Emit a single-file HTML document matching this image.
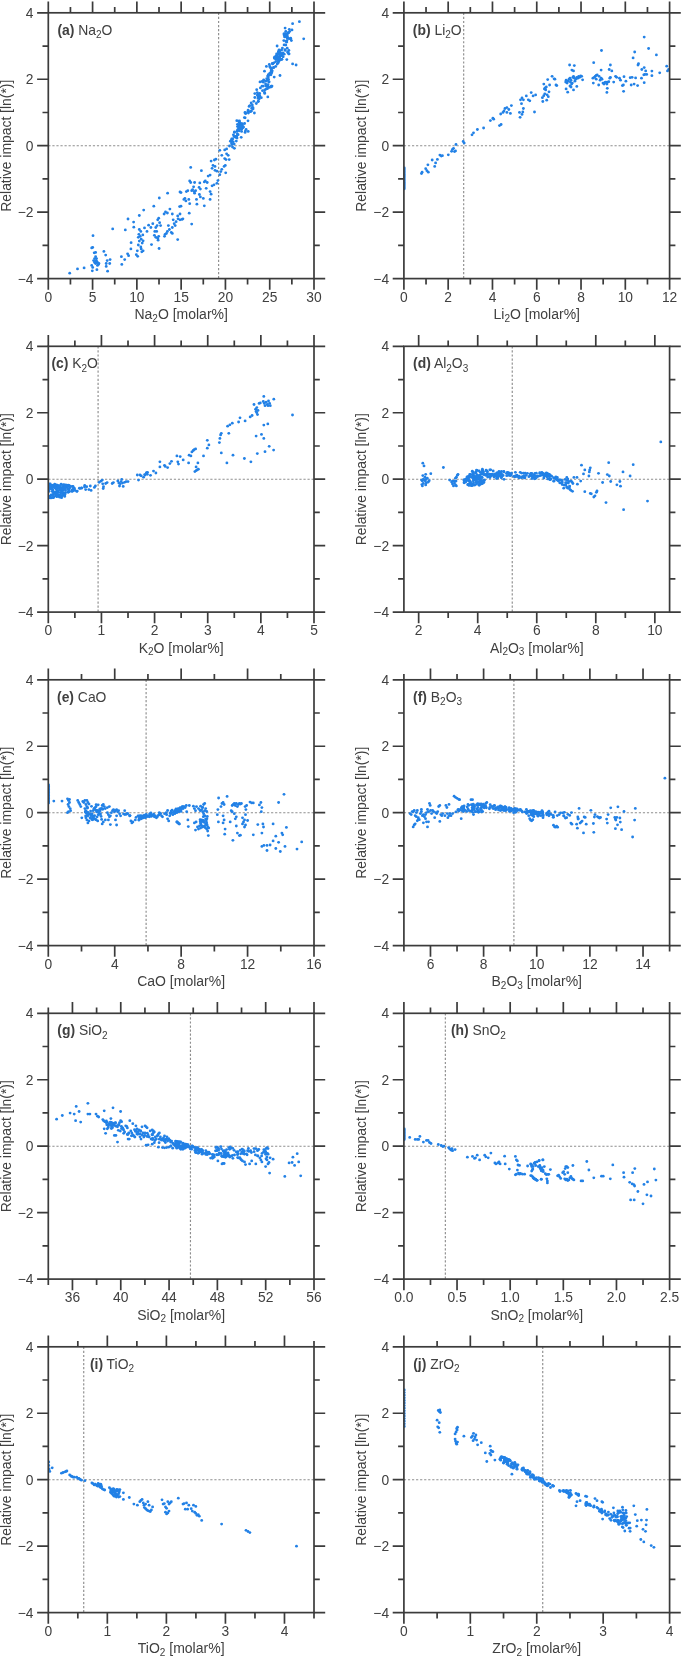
<!DOCTYPE html><html><head><meta charset="utf-8"><style>html,body{margin:0;padding:0;background:#fff;width:685px;height:1659px;overflow:hidden}svg{display:block;will-change:transform}text{font-family:"Liberation Sans",sans-serif;fill:#404040}</style></head><body>
<svg width="685" height="1659" viewBox="0 0 685 1659">
<g><line x1="48.30" y1="145.70" x2="314.00" y2="145.70" stroke="#8e8e8e" stroke-width="1.15" stroke-dasharray="2.2 1.85"/><line x1="218.61" y1="12.80" x2="218.61" y2="278.60" stroke="#8e8e8e" stroke-width="1.15" stroke-dasharray="2.2 1.85"/><clipPath id="cpa"><rect x="48.30" y="12.80" width="265.70" height="265.80"/></clipPath><g fill="#2281e6" clip-path="url(#cpa)"><circle cx="235.5" cy="137.3" r="1.42"/><circle cx="238.5" cy="128.8" r="1.42"/><circle cx="236.1" cy="136.4" r="1.42"/><circle cx="233.3" cy="141.8" r="1.42"/><circle cx="238.1" cy="134.7" r="1.42"/><circle cx="231.5" cy="142.9" r="1.42"/><circle cx="234.2" cy="144.1" r="1.42"/><circle cx="234.5" cy="131.9" r="1.42"/><circle cx="241.6" cy="128.9" r="1.42"/><circle cx="237.3" cy="133.9" r="1.42"/><circle cx="230.4" cy="141.2" r="1.42"/><circle cx="233.4" cy="134.8" r="1.42"/><circle cx="231.9" cy="141.1" r="1.42"/><circle cx="231.9" cy="144.4" r="1.42"/><circle cx="237.0" cy="138.1" r="1.42"/><circle cx="236.5" cy="136.3" r="1.42"/><circle cx="236.4" cy="136.7" r="1.42"/><circle cx="234.1" cy="136.5" r="1.42"/><circle cx="241.9" cy="128.7" r="1.42"/><circle cx="239.2" cy="130.8" r="1.42"/><circle cx="232.7" cy="138.9" r="1.42"/><circle cx="231.7" cy="139.0" r="1.42"/><circle cx="237.0" cy="131.4" r="1.42"/><circle cx="237.5" cy="130.0" r="1.42"/><circle cx="240.8" cy="129.1" r="1.42"/><circle cx="237.5" cy="126.6" r="1.42"/><circle cx="247.9" cy="111.5" r="1.42"/><circle cx="248.1" cy="110.1" r="1.42"/><circle cx="240.7" cy="126.7" r="1.42"/><circle cx="245.4" cy="113.2" r="1.42"/><circle cx="239.1" cy="125.5" r="1.42"/><circle cx="250.2" cy="111.6" r="1.42"/><circle cx="238.8" cy="124.6" r="1.42"/><circle cx="237.5" cy="124.3" r="1.42"/><circle cx="245.0" cy="112.5" r="1.42"/><circle cx="244.4" cy="117.6" r="1.42"/><circle cx="242.5" cy="125.0" r="1.42"/><circle cx="241.4" cy="125.8" r="1.42"/><circle cx="239.9" cy="125.2" r="1.42"/><circle cx="239.9" cy="123.1" r="1.42"/><circle cx="250.5" cy="111.6" r="1.42"/><circle cx="244.6" cy="123.5" r="1.42"/><circle cx="240.6" cy="123.5" r="1.42"/><circle cx="248.4" cy="113.1" r="1.42"/><circle cx="243.2" cy="127.5" r="1.42"/><circle cx="239.8" cy="123.0" r="1.42"/><circle cx="245.7" cy="113.5" r="1.42"/><circle cx="239.5" cy="120.9" r="1.42"/><circle cx="240.6" cy="126.3" r="1.42"/><circle cx="242.2" cy="123.7" r="1.42"/><circle cx="252.3" cy="104.9" r="1.42"/><circle cx="258.2" cy="97.0" r="1.42"/><circle cx="256.3" cy="103.5" r="1.42"/><circle cx="249.1" cy="106.4" r="1.42"/><circle cx="259.3" cy="98.8" r="1.42"/><circle cx="249.9" cy="105.6" r="1.42"/><circle cx="258.2" cy="101.5" r="1.42"/><circle cx="253.0" cy="108.9" r="1.42"/><circle cx="258.0" cy="98.4" r="1.42"/><circle cx="251.2" cy="103.0" r="1.42"/><circle cx="251.5" cy="111.1" r="1.42"/><circle cx="252.2" cy="107.5" r="1.42"/><circle cx="253.0" cy="107.7" r="1.42"/><circle cx="253.8" cy="101.3" r="1.42"/><circle cx="251.7" cy="108.4" r="1.42"/><circle cx="257.7" cy="94.4" r="1.42"/><circle cx="266.2" cy="89.1" r="1.42"/><circle cx="263.3" cy="86.1" r="1.42"/><circle cx="265.8" cy="81.1" r="1.42"/><circle cx="257.5" cy="95.4" r="1.42"/><circle cx="260.4" cy="87.9" r="1.42"/><circle cx="259.6" cy="93.3" r="1.42"/><circle cx="262.0" cy="86.2" r="1.42"/><circle cx="264.5" cy="92.3" r="1.42"/><circle cx="269.1" cy="81.8" r="1.42"/><circle cx="265.9" cy="86.1" r="1.42"/><circle cx="257.3" cy="92.6" r="1.42"/><circle cx="261.3" cy="97.7" r="1.42"/><circle cx="268.2" cy="87.3" r="1.42"/><circle cx="259.7" cy="96.7" r="1.42"/><circle cx="264.7" cy="89.9" r="1.42"/><circle cx="264.7" cy="93.4" r="1.42"/><circle cx="259.7" cy="95.5" r="1.42"/><circle cx="268.2" cy="86.5" r="1.42"/><circle cx="267.0" cy="85.8" r="1.42"/><circle cx="270.9" cy="74.8" r="1.42"/><circle cx="267.3" cy="80.4" r="1.42"/><circle cx="271.3" cy="73.3" r="1.42"/><circle cx="268.2" cy="79.7" r="1.42"/><circle cx="269.8" cy="73.2" r="1.42"/><circle cx="267.6" cy="76.1" r="1.42"/><circle cx="268.3" cy="77.1" r="1.42"/><circle cx="265.6" cy="84.0" r="1.42"/><circle cx="271.9" cy="72.0" r="1.42"/><circle cx="268.3" cy="74.7" r="1.42"/><circle cx="269.1" cy="75.0" r="1.42"/><circle cx="268.5" cy="79.5" r="1.42"/><circle cx="272.2" cy="70.8" r="1.42"/><circle cx="271.1" cy="71.1" r="1.42"/><circle cx="272.7" cy="63.9" r="1.42"/><circle cx="275.7" cy="61.7" r="1.42"/><circle cx="277.2" cy="64.1" r="1.42"/><circle cx="269.8" cy="66.4" r="1.42"/><circle cx="273.6" cy="67.7" r="1.42"/><circle cx="270.2" cy="67.5" r="1.42"/><circle cx="278.2" cy="59.4" r="1.42"/><circle cx="275.7" cy="66.4" r="1.42"/><circle cx="273.7" cy="67.3" r="1.42"/><circle cx="271.5" cy="68.4" r="1.42"/><circle cx="278.7" cy="61.5" r="1.42"/><circle cx="276.6" cy="59.0" r="1.42"/><circle cx="273.9" cy="62.8" r="1.42"/><circle cx="271.4" cy="69.4" r="1.42"/><circle cx="278.6" cy="60.9" r="1.42"/><circle cx="278.1" cy="62.9" r="1.42"/><circle cx="276.2" cy="56.0" r="1.42"/><circle cx="277.7" cy="54.6" r="1.42"/><circle cx="277.0" cy="57.3" r="1.42"/><circle cx="279.8" cy="53.5" r="1.42"/><circle cx="279.6" cy="57.5" r="1.42"/><circle cx="281.6" cy="49.9" r="1.42"/><circle cx="274.4" cy="57.6" r="1.42"/><circle cx="279.1" cy="49.8" r="1.42"/><circle cx="280.6" cy="52.9" r="1.42"/><circle cx="279.3" cy="57.4" r="1.42"/><circle cx="274.6" cy="58.4" r="1.42"/><circle cx="276.6" cy="53.9" r="1.42"/><circle cx="279.7" cy="50.8" r="1.42"/><circle cx="274.8" cy="57.0" r="1.42"/><circle cx="279.6" cy="53.3" r="1.42"/><circle cx="280.5" cy="53.9" r="1.42"/><circle cx="283.0" cy="53.0" r="1.42"/><circle cx="278.7" cy="52.1" r="1.42"/><circle cx="277.4" cy="54.1" r="1.42"/><circle cx="276.1" cy="59.4" r="1.42"/><circle cx="278.8" cy="51.8" r="1.42"/><circle cx="277.0" cy="56.5" r="1.42"/><circle cx="280.3" cy="52.9" r="1.42"/><circle cx="280.9" cy="54.4" r="1.42"/><circle cx="279.8" cy="56.6" r="1.42"/><circle cx="284.6" cy="36.9" r="1.42"/><circle cx="287.5" cy="37.6" r="1.42"/><circle cx="282.4" cy="48.1" r="1.42"/><circle cx="286.8" cy="42.0" r="1.42"/><circle cx="284.1" cy="44.9" r="1.42"/><circle cx="287.5" cy="38.4" r="1.42"/><circle cx="286.4" cy="37.0" r="1.42"/><circle cx="283.8" cy="40.6" r="1.42"/><circle cx="286.9" cy="40.6" r="1.42"/><circle cx="286.0" cy="41.5" r="1.42"/><circle cx="286.5" cy="35.7" r="1.42"/><circle cx="292.0" cy="29.9" r="1.42"/><circle cx="288.4" cy="32.9" r="1.42"/><circle cx="287.3" cy="34.9" r="1.42"/><circle cx="289.3" cy="29.3" r="1.42"/><circle cx="284.3" cy="35.5" r="1.42"/><circle cx="288.4" cy="32.7" r="1.42"/><circle cx="285.8" cy="31.3" r="1.42"/><circle cx="284.9" cy="49.7" r="1.42"/><circle cx="285.2" cy="50.4" r="1.42"/><circle cx="280.6" cy="59.2" r="1.42"/><circle cx="274.9" cy="57.9" r="1.42"/><circle cx="283.2" cy="56.8" r="1.42"/><circle cx="288.0" cy="52.8" r="1.42"/><circle cx="288.9" cy="50.5" r="1.42"/><circle cx="287.2" cy="48.2" r="1.42"/><circle cx="277.7" cy="59.1" r="1.42"/><circle cx="279.7" cy="59.4" r="1.42"/><circle cx="284.2" cy="54.2" r="1.42"/><circle cx="287.6" cy="52.0" r="1.42"/><circle cx="278.5" cy="57.2" r="1.42"/><circle cx="289.0" cy="53.9" r="1.42"/><circle cx="278.9" cy="61.1" r="1.42"/><circle cx="281.8" cy="59.3" r="1.42"/><circle cx="281.4" cy="55.0" r="1.42"/><circle cx="280.1" cy="55.1" r="1.42"/><circle cx="282.1" cy="55.1" r="1.42"/><circle cx="281.8" cy="59.3" r="1.42"/><circle cx="278.6" cy="54.2" r="1.42"/><circle cx="280.3" cy="55.3" r="1.42"/><circle cx="282.3" cy="56.0" r="1.42"/><circle cx="280.5" cy="55.0" r="1.42"/><circle cx="280.3" cy="59.8" r="1.42"/><circle cx="279.2" cy="52.5" r="1.42"/><circle cx="278.8" cy="51.0" r="1.42"/><circle cx="279.8" cy="58.4" r="1.42"/><circle cx="280.6" cy="54.3" r="1.42"/><circle cx="278.4" cy="51.9" r="1.42"/><circle cx="291.4" cy="40.6" r="1.42"/><circle cx="290.7" cy="38.9" r="1.42"/><circle cx="286.1" cy="33.7" r="1.42"/><circle cx="289.1" cy="38.7" r="1.42"/><circle cx="285.9" cy="36.1" r="1.42"/><circle cx="283.9" cy="33.9" r="1.42"/><circle cx="284.7" cy="33.6" r="1.42"/><circle cx="286.6" cy="34.2" r="1.42"/><circle cx="287.7" cy="37.4" r="1.42"/><circle cx="286.7" cy="35.9" r="1.42"/><circle cx="268.8" cy="82.1" r="1.42"/><circle cx="263.7" cy="79.9" r="1.42"/><circle cx="268.0" cy="84.6" r="1.42"/><circle cx="269.5" cy="87.4" r="1.42"/><circle cx="271.3" cy="86.1" r="1.42"/><circle cx="267.6" cy="86.8" r="1.42"/><circle cx="271.3" cy="86.9" r="1.42"/><circle cx="263.3" cy="82.2" r="1.42"/><circle cx="262.1" cy="81.4" r="1.42"/><circle cx="272.0" cy="86.1" r="1.42"/><circle cx="263.6" cy="80.7" r="1.42"/><circle cx="266.7" cy="78.7" r="1.42"/><circle cx="245.4" cy="131.1" r="1.42"/><circle cx="246.1" cy="129.4" r="1.42"/><circle cx="239.3" cy="127.2" r="1.42"/><circle cx="236.8" cy="120.7" r="1.42"/><circle cx="241.6" cy="131.4" r="1.42"/><circle cx="248.2" cy="131.4" r="1.42"/><circle cx="240.2" cy="128.7" r="1.42"/><circle cx="240.5" cy="128.4" r="1.42"/><circle cx="239.3" cy="122.2" r="1.42"/><circle cx="238.5" cy="121.1" r="1.42"/><circle cx="241.7" cy="128.2" r="1.42"/><circle cx="243.4" cy="126.9" r="1.42"/><circle cx="299.4" cy="21.7" r="1.42"/><circle cx="292.6" cy="23.7" r="1.42"/><circle cx="303.7" cy="38.8" r="1.42"/><circle cx="292.6" cy="63.9" r="1.42"/><circle cx="296.1" cy="65.0" r="1.42"/><circle cx="280.0" cy="75.5" r="1.42"/><circle cx="267.8" cy="96.9" r="1.42"/><circle cx="260.0" cy="81.9" r="1.42"/><circle cx="231.5" cy="140.2" r="1.42"/><circle cx="285.1" cy="28.1" r="1.42"/><circle cx="289.7" cy="31.4" r="1.42"/><circle cx="290.7" cy="38.2" r="1.42"/><circle cx="285.8" cy="45.0" r="1.42"/><circle cx="277.1" cy="46.0" r="1.42"/><circle cx="288.8" cy="53.8" r="1.42"/><circle cx="286.8" cy="59.6" r="1.42"/><circle cx="274.2" cy="77.1" r="1.42"/><circle cx="254.8" cy="93.6" r="1.42"/><circle cx="256.7" cy="89.7" r="1.42"/><circle cx="258.3" cy="101.3" r="1.42"/><circle cx="254.4" cy="113.0" r="1.42"/><circle cx="245.1" cy="117.8" r="1.42"/><circle cx="248.0" cy="120.8" r="1.42"/><circle cx="245.1" cy="132.4" r="1.42"/><circle cx="241.2" cy="137.3" r="1.42"/><circle cx="236.3" cy="141.1" r="1.42"/><circle cx="234.4" cy="132.4" r="1.42"/><circle cx="272.3" cy="63.5" r="1.42"/><circle cx="269.3" cy="64.5" r="1.42"/><circle cx="266.4" cy="66.4" r="1.42"/><circle cx="264.5" cy="71.2" r="1.42"/><circle cx="267.4" cy="88.7" r="1.42"/><circle cx="262.5" cy="90.7" r="1.42"/><circle cx="254.8" cy="97.5" r="1.42"/><circle cx="232.5" cy="147.0" r="1.42"/><circle cx="234.4" cy="148.3" r="1.42"/><circle cx="229.5" cy="146.0" r="1.42"/><circle cx="219.8" cy="150.3" r="1.42"/><circle cx="224.7" cy="149.9" r="1.42"/><circle cx="226.6" cy="148.9" r="1.42"/><circle cx="221.8" cy="155.3" r="1.42"/><circle cx="226.6" cy="153.8" r="1.42"/><circle cx="228.2" cy="155.3" r="1.42"/><circle cx="224.7" cy="158.6" r="1.42"/><circle cx="226.0" cy="159.6" r="1.42"/><circle cx="229.2" cy="159.6" r="1.42"/><circle cx="215.9" cy="159.2" r="1.42"/><circle cx="214.4" cy="160.0" r="1.42"/><circle cx="211.1" cy="161.1" r="1.42"/><circle cx="213.0" cy="165.4" r="1.42"/><circle cx="215.0" cy="166.4" r="1.42"/><circle cx="212.1" cy="168.3" r="1.42"/><circle cx="225.3" cy="165.4" r="1.42"/><circle cx="224.1" cy="166.4" r="1.42"/><circle cx="221.8" cy="169.3" r="1.42"/><circle cx="220.8" cy="171.6" r="1.42"/><circle cx="219.8" cy="174.7" r="1.42"/><circle cx="225.7" cy="172.8" r="1.42"/><circle cx="215.0" cy="170.3" r="1.42"/><circle cx="216.9" cy="171.2" r="1.42"/><circle cx="190.7" cy="167.4" r="1.42"/><circle cx="201.4" cy="170.7" r="1.42"/><circle cx="210.1" cy="175.1" r="1.42"/><circle cx="208.2" cy="176.1" r="1.42"/><circle cx="205.3" cy="180.9" r="1.42"/><circle cx="204.3" cy="181.9" r="1.42"/><circle cx="207.2" cy="182.5" r="1.42"/><circle cx="189.7" cy="180.9" r="1.42"/><circle cx="190.7" cy="182.5" r="1.42"/><circle cx="194.6" cy="182.5" r="1.42"/><circle cx="199.8" cy="182.9" r="1.42"/><circle cx="217.9" cy="180.6" r="1.42"/><circle cx="216.9" cy="183.3" r="1.42"/><circle cx="214.0" cy="184.8" r="1.42"/><circle cx="212.1" cy="185.8" r="1.42"/><circle cx="206.2" cy="188.3" r="1.42"/><circle cx="199.1" cy="187.4" r="1.42"/><circle cx="200.4" cy="189.1" r="1.42"/><circle cx="193.6" cy="186.8" r="1.42"/><circle cx="192.6" cy="189.7" r="1.42"/><circle cx="194.2" cy="191.6" r="1.42"/><circle cx="194.6" cy="193.2" r="1.42"/><circle cx="191.7" cy="190.7" r="1.42"/><circle cx="195.6" cy="190.7" r="1.42"/><circle cx="187.8" cy="190.7" r="1.42"/><circle cx="186.4" cy="191.6" r="1.42"/><circle cx="181.0" cy="192.6" r="1.42"/><circle cx="210.1" cy="191.6" r="1.42"/><circle cx="211.1" cy="194.2" r="1.42"/><circle cx="199.4" cy="194.5" r="1.42"/><circle cx="203.3" cy="198.4" r="1.42"/><circle cx="200.4" cy="196.9" r="1.42"/><circle cx="184.9" cy="198.4" r="1.42"/><circle cx="183.9" cy="199.4" r="1.42"/><circle cx="185.9" cy="200.9" r="1.42"/><circle cx="188.8" cy="199.4" r="1.42"/><circle cx="196.5" cy="199.4" r="1.42"/><circle cx="189.7" cy="203.7" r="1.42"/><circle cx="196.9" cy="204.2" r="1.42"/><circle cx="204.3" cy="205.8" r="1.42"/><circle cx="210.1" cy="199.4" r="1.42"/><circle cx="189.2" cy="213.2" r="1.42"/><circle cx="182.0" cy="219.4" r="1.42"/><circle cx="182.9" cy="218.8" r="1.42"/><circle cx="191.7" cy="224.1" r="1.42"/><circle cx="181.0" cy="206.2" r="1.42"/><circle cx="69.7" cy="273.2" r="1.42"/><circle cx="77.5" cy="268.9" r="1.42"/><circle cx="84.1" cy="267.9" r="1.42"/><circle cx="91.7" cy="265.4" r="1.42"/><circle cx="92.7" cy="267.4" r="1.42"/><circle cx="92.3" cy="270.8" r="1.42"/><circle cx="96.9" cy="269.7" r="1.42"/><circle cx="98.5" cy="264.4" r="1.42"/><circle cx="97.5" cy="262.5" r="1.42"/><circle cx="96.2" cy="260.6" r="1.42"/><circle cx="94.6" cy="258.6" r="1.42"/><circle cx="95.6" cy="256.7" r="1.42"/><circle cx="94.2" cy="252.8" r="1.42"/><circle cx="95.6" cy="252.4" r="1.42"/><circle cx="91.7" cy="247.9" r="1.42"/><circle cx="92.7" cy="247.4" r="1.42"/><circle cx="93.0" cy="235.7" r="1.42"/><circle cx="96.5" cy="261.5" r="1.42"/><circle cx="98.9" cy="263.5" r="1.42"/><circle cx="95.6" cy="263.5" r="1.42"/><circle cx="97.5" cy="265.4" r="1.42"/><circle cx="94.6" cy="262.5" r="1.42"/><circle cx="93.6" cy="260.6" r="1.42"/><circle cx="96.5" cy="258.6" r="1.42"/><circle cx="103.9" cy="251.4" r="1.42"/><circle cx="105.7" cy="255.1" r="1.42"/><circle cx="107.2" cy="260.6" r="1.42"/><circle cx="106.2" cy="263.5" r="1.42"/><circle cx="109.7" cy="263.5" r="1.42"/><circle cx="110.1" cy="259.6" r="1.42"/><circle cx="106.2" cy="266.4" r="1.42"/><circle cx="107.6" cy="271.2" r="1.42"/><circle cx="112.7" cy="228.9" r="1.42"/><circle cx="121.4" cy="256.7" r="1.42"/><circle cx="121.8" cy="264.4" r="1.42"/><circle cx="124.7" cy="259.6" r="1.42"/><circle cx="127.6" cy="253.8" r="1.42"/><circle cx="128.6" cy="255.7" r="1.42"/><circle cx="130.9" cy="248.9" r="1.42"/><circle cx="131.1" cy="242.7" r="1.42"/><circle cx="125.3" cy="229.9" r="1.42"/><circle cx="128.0" cy="219.0" r="1.42"/><circle cx="133.6" cy="222.1" r="1.42"/><circle cx="133.8" cy="227.2" r="1.42"/><circle cx="136.3" cy="254.7" r="1.42"/><circle cx="137.7" cy="256.3" r="1.42"/><circle cx="137.3" cy="250.8" r="1.42"/><circle cx="138.3" cy="245.0" r="1.42"/><circle cx="139.3" cy="241.1" r="1.42"/><circle cx="138.3" cy="237.3" r="1.42"/><circle cx="138.9" cy="234.3" r="1.42"/><circle cx="139.3" cy="229.5" r="1.42"/><circle cx="140.8" cy="231.4" r="1.42"/><circle cx="140.2" cy="236.3" r="1.42"/><circle cx="141.2" cy="239.2" r="1.42"/><circle cx="142.2" cy="243.1" r="1.42"/><circle cx="140.8" cy="247.0" r="1.42"/><circle cx="141.8" cy="251.8" r="1.42"/><circle cx="143.1" cy="250.8" r="1.42"/><circle cx="141.2" cy="248.9" r="1.42"/><circle cx="142.8" cy="234.9" r="1.42"/><circle cx="143.1" cy="240.8" r="1.42"/><circle cx="139.3" cy="215.5" r="1.42"/><circle cx="143.7" cy="210.1" r="1.42"/><circle cx="144.5" cy="227.9" r="1.42"/><circle cx="147.0" cy="231.4" r="1.42"/><circle cx="148.6" cy="225.2" r="1.42"/><circle cx="150.9" cy="227.5" r="1.42"/><circle cx="152.8" cy="223.7" r="1.42"/><circle cx="151.5" cy="244.6" r="1.42"/><circle cx="153.8" cy="206.2" r="1.42"/><circle cx="154.8" cy="231.4" r="1.42"/><circle cx="154.4" cy="235.3" r="1.42"/><circle cx="155.8" cy="237.3" r="1.42"/><circle cx="156.7" cy="231.4" r="1.42"/><circle cx="157.7" cy="238.2" r="1.42"/><circle cx="158.1" cy="240.2" r="1.42"/><circle cx="158.7" cy="236.3" r="1.42"/><circle cx="159.1" cy="248.5" r="1.42"/><circle cx="159.3" cy="198.0" r="1.42"/><circle cx="157.7" cy="219.8" r="1.42"/><circle cx="158.7" cy="218.2" r="1.42"/><circle cx="159.6" cy="222.7" r="1.42"/><circle cx="160.6" cy="225.6" r="1.42"/><circle cx="157.1" cy="225.6" r="1.42"/><circle cx="155.8" cy="227.5" r="1.42"/><circle cx="164.5" cy="236.3" r="1.42"/><circle cx="165.1" cy="234.3" r="1.42"/><circle cx="166.4" cy="233.4" r="1.42"/><circle cx="167.4" cy="231.4" r="1.42"/><circle cx="168.4" cy="225.6" r="1.42"/><circle cx="164.1" cy="214.0" r="1.42"/><circle cx="165.5" cy="212.0" r="1.42"/><circle cx="167.4" cy="213.0" r="1.42"/><circle cx="169.9" cy="209.1" r="1.42"/><circle cx="172.3" cy="214.0" r="1.42"/><circle cx="173.2" cy="219.8" r="1.42"/><circle cx="174.2" cy="223.7" r="1.42"/><circle cx="176.1" cy="221.7" r="1.42"/><circle cx="177.7" cy="215.9" r="1.42"/><circle cx="178.1" cy="218.8" r="1.42"/><circle cx="180.0" cy="219.8" r="1.42"/><circle cx="179.6" cy="206.6" r="1.42"/><circle cx="180.0" cy="192.0" r="1.42"/><circle cx="167.6" cy="193.2" r="1.42"/><circle cx="177.7" cy="239.6" r="1.42"/><circle cx="171.3" cy="232.4" r="1.42"/><circle cx="172.3" cy="227.5" r="1.42"/><circle cx="175.2" cy="225.6" r="1.42"/><circle cx="180.0" cy="214.0" r="1.42"/><circle cx="172.3" cy="233.4" r="1.42"/><circle cx="169.4" cy="229.5" r="1.42"/></g><rect x="48.30" y="12.80" width="265.70" height="265.80" fill="none" stroke="#3b3b3b" stroke-width="1.70"/><path d="M48.30 278.60V289.80M48.30 12.80V1.60M92.58 278.60V289.80M92.58 12.80V1.60M136.87 278.60V289.80M136.87 12.80V1.60M181.15 278.60V289.80M181.15 12.80V1.60M225.43 278.60V289.80M225.43 12.80V1.60M269.72 278.60V289.80M269.72 12.80V1.60M314.00 278.60V289.80M314.00 12.80V1.60M70.44 278.60V284.40M70.44 12.80V7.00M114.72 278.60V284.40M114.72 12.80V7.00M159.01 278.60V284.40M159.01 12.80V7.00M203.29 278.60V284.40M203.29 12.80V7.00M247.57 278.60V284.40M247.57 12.80V7.00M291.86 278.60V284.40M291.86 12.80V7.00M48.30 278.60H37.10M314.00 278.60H325.20M48.30 212.15H37.10M314.00 212.15H325.20M48.30 145.70H37.10M314.00 145.70H325.20M48.30 79.25H37.10M314.00 79.25H325.20M48.30 12.80H37.10M314.00 12.80H325.20M48.30 245.38H42.50M314.00 245.38H319.80M48.30 178.93H42.50M314.00 178.93H319.80M48.30 112.48H42.50M314.00 112.48H319.80M48.30 46.03H42.50M314.00 46.03H319.80" stroke="#3b3b3b" stroke-width="1.70" fill="none"/><text x="48.30" y="301.70" font-size="13.8" text-anchor="middle">0</text><text x="92.58" y="301.70" font-size="13.8" text-anchor="middle">5</text><text x="136.87" y="301.70" font-size="13.8" text-anchor="middle">10</text><text x="181.15" y="301.70" font-size="13.8" text-anchor="middle">15</text><text x="225.43" y="301.70" font-size="13.8" text-anchor="middle">20</text><text x="269.72" y="301.70" font-size="13.8" text-anchor="middle">25</text><text x="314.00" y="301.70" font-size="13.8" text-anchor="middle">30</text><text x="33.50" y="283.60" font-size="13.8" text-anchor="end">&#8722;4</text><text x="33.50" y="217.15" font-size="13.8" text-anchor="end">&#8722;2</text><text x="33.50" y="150.70" font-size="13.8" text-anchor="end">0</text><text x="33.50" y="84.25" font-size="13.8" text-anchor="end">2</text><text x="33.50" y="17.80" font-size="13.8" text-anchor="end">4</text><text x="181.15" y="319.20" font-size="14.0" text-anchor="middle">Na<tspan dy="2.5" font-size="10.0">2</tspan><tspan dy="-2.5">&#8203;</tspan>O [molar%]</text><text transform="translate(10.70 145.70) rotate(-90)" font-size="13.9" text-anchor="middle">Relative impact [ln(*)]</text><text x="57.40" y="34.60" font-size="13.9"><tspan font-weight="bold">(a)</tspan> Na<tspan dy="3.4" font-size="10.0">2</tspan><tspan dy="-3.4">&#8203;</tspan>O</text></g>
<g><line x1="403.90" y1="145.70" x2="669.60" y2="145.70" stroke="#8e8e8e" stroke-width="1.15" stroke-dasharray="2.2 1.85"/><line x1="463.68" y1="12.80" x2="463.68" y2="278.60" stroke="#8e8e8e" stroke-width="1.15" stroke-dasharray="2.2 1.85"/><clipPath id="cpb"><rect x="403.90" y="12.80" width="265.70" height="265.80"/></clipPath><g fill="#2281e6" clip-path="url(#cpb)"><circle cx="421.5" cy="173.6" r="1.42"/><circle cx="422.1" cy="172.2" r="1.42"/><circle cx="425.7" cy="168.7" r="1.42"/><circle cx="426.9" cy="170.7" r="1.42"/><circle cx="428.3" cy="172.2" r="1.42"/><circle cx="427.9" cy="164.8" r="1.42"/><circle cx="432.2" cy="160.0" r="1.42"/><circle cx="434.7" cy="166.4" r="1.42"/><circle cx="435.6" cy="162.9" r="1.42"/><circle cx="437.4" cy="159.4" r="1.42"/><circle cx="439.9" cy="155.1" r="1.42"/><circle cx="441.3" cy="156.1" r="1.42"/><circle cx="442.4" cy="155.7" r="1.42"/><circle cx="448.3" cy="154.8" r="1.42"/><circle cx="451.6" cy="151.3" r="1.42"/><circle cx="452.5" cy="149.3" r="1.42"/><circle cx="453.5" cy="148.3" r="1.42"/><circle cx="454.5" cy="151.6" r="1.42"/><circle cx="455.5" cy="150.9" r="1.42"/><circle cx="456.0" cy="144.5" r="1.42"/><circle cx="463.2" cy="141.5" r="1.42"/><circle cx="464.2" cy="143.1" r="1.42"/><circle cx="472.0" cy="134.8" r="1.42"/><circle cx="473.5" cy="132.8" r="1.42"/><circle cx="477.4" cy="129.5" r="1.42"/><circle cx="483.6" cy="128.0" r="1.42"/><circle cx="490.4" cy="120.6" r="1.42"/><circle cx="492.9" cy="118.2" r="1.42"/><circle cx="493.7" cy="119.2" r="1.42"/><circle cx="499.5" cy="125.6" r="1.42"/><circle cx="501.1" cy="124.5" r="1.42"/><circle cx="500.7" cy="114.0" r="1.42"/><circle cx="503.0" cy="112.4" r="1.42"/><circle cx="504.0" cy="110.9" r="1.42"/><circle cx="505.0" cy="108.5" r="1.42"/><circle cx="506.9" cy="107.6" r="1.42"/><circle cx="508.8" cy="109.5" r="1.42"/><circle cx="511.4" cy="105.6" r="1.42"/><circle cx="506.9" cy="112.4" r="1.42"/><circle cx="510.4" cy="113.4" r="1.42"/><circle cx="519.5" cy="112.4" r="1.42"/><circle cx="520.1" cy="117.3" r="1.42"/><circle cx="522.0" cy="114.4" r="1.42"/><circle cx="523.4" cy="108.5" r="1.42"/><circle cx="521.5" cy="103.7" r="1.42"/><circle cx="520.5" cy="99.8" r="1.42"/><circle cx="522.0" cy="97.9" r="1.42"/><circle cx="523.4" cy="99.8" r="1.42"/><circle cx="526.3" cy="95.9" r="1.42"/><circle cx="528.3" cy="99.8" r="1.42"/><circle cx="529.8" cy="100.8" r="1.42"/><circle cx="531.2" cy="92.6" r="1.42"/><circle cx="533.1" cy="95.9" r="1.42"/><circle cx="535.6" cy="94.9" r="1.42"/><circle cx="534.5" cy="112.0" r="1.42"/><circle cx="522.8" cy="112.0" r="1.42"/><circle cx="404.3" cy="168.0" r="1.42"/><circle cx="404.3" cy="169.6" r="1.42"/><circle cx="404.3" cy="171.2" r="1.42"/><circle cx="404.3" cy="172.8" r="1.42"/><circle cx="404.3" cy="174.4" r="1.42"/><circle cx="404.3" cy="176.0" r="1.42"/><circle cx="404.3" cy="177.6" r="1.42"/><circle cx="404.3" cy="179.2" r="1.42"/><circle cx="404.3" cy="180.8" r="1.42"/><circle cx="404.3" cy="182.4" r="1.42"/><circle cx="404.3" cy="184.0" r="1.42"/><circle cx="404.3" cy="185.6" r="1.42"/><circle cx="404.3" cy="187.2" r="1.42"/><circle cx="404.3" cy="188.8" r="1.42"/><circle cx="542.8" cy="101.5" r="1.42"/><circle cx="542.4" cy="97.7" r="1.42"/><circle cx="543.8" cy="95.7" r="1.42"/><circle cx="544.8" cy="93.8" r="1.42"/><circle cx="544.4" cy="88.9" r="1.42"/><circle cx="545.2" cy="88.0" r="1.42"/><circle cx="546.3" cy="87.0" r="1.42"/><circle cx="545.7" cy="89.9" r="1.42"/><circle cx="543.8" cy="84.1" r="1.42"/><circle cx="547.1" cy="94.8" r="1.42"/><circle cx="546.7" cy="100.2" r="1.42"/><circle cx="548.3" cy="96.7" r="1.42"/><circle cx="549.0" cy="91.8" r="1.42"/><circle cx="549.6" cy="85.0" r="1.42"/><circle cx="547.7" cy="79.6" r="1.42"/><circle cx="552.1" cy="76.3" r="1.42"/><circle cx="554.1" cy="78.8" r="1.42"/><circle cx="554.9" cy="79.2" r="1.42"/><circle cx="556.0" cy="85.0" r="1.42"/><circle cx="556.8" cy="85.6" r="1.42"/><circle cx="566.1" cy="80.2" r="1.42"/><circle cx="565.7" cy="82.1" r="1.42"/><circle cx="567.1" cy="83.1" r="1.42"/><circle cx="568.1" cy="81.2" r="1.42"/><circle cx="569.0" cy="79.2" r="1.42"/><circle cx="570.0" cy="78.2" r="1.42"/><circle cx="571.0" cy="80.2" r="1.42"/><circle cx="570.4" cy="82.1" r="1.42"/><circle cx="571.6" cy="84.1" r="1.42"/><circle cx="572.3" cy="83.1" r="1.42"/><circle cx="572.9" cy="77.3" r="1.42"/><circle cx="573.5" cy="76.3" r="1.42"/><circle cx="574.3" cy="78.2" r="1.42"/><circle cx="574.9" cy="81.2" r="1.42"/><circle cx="575.8" cy="79.2" r="1.42"/><circle cx="576.8" cy="77.3" r="1.42"/><circle cx="577.8" cy="78.2" r="1.42"/><circle cx="578.7" cy="76.3" r="1.42"/><circle cx="579.7" cy="77.3" r="1.42"/><circle cx="580.7" cy="75.9" r="1.42"/><circle cx="581.7" cy="76.3" r="1.42"/><circle cx="582.6" cy="79.8" r="1.42"/><circle cx="569.6" cy="65.0" r="1.42"/><circle cx="574.3" cy="65.6" r="1.42"/><circle cx="571.9" cy="70.1" r="1.42"/><circle cx="573.5" cy="70.9" r="1.42"/><circle cx="566.1" cy="88.9" r="1.42"/><circle cx="567.7" cy="92.2" r="1.42"/><circle cx="571.0" cy="87.0" r="1.42"/><circle cx="573.5" cy="89.9" r="1.42"/><circle cx="576.8" cy="86.4" r="1.42"/><circle cx="570.0" cy="86.0" r="1.42"/><circle cx="593.7" cy="62.7" r="1.42"/><circle cx="592.9" cy="78.2" r="1.42"/><circle cx="594.3" cy="77.3" r="1.42"/><circle cx="595.2" cy="76.3" r="1.42"/><circle cx="596.2" cy="75.3" r="1.42"/><circle cx="597.2" cy="74.9" r="1.42"/><circle cx="599.1" cy="76.3" r="1.42"/><circle cx="593.3" cy="83.1" r="1.42"/><circle cx="596.2" cy="79.2" r="1.42"/><circle cx="598.7" cy="85.0" r="1.42"/><circle cx="600.1" cy="80.2" r="1.42"/><circle cx="601.1" cy="78.2" r="1.42"/><circle cx="602.0" cy="79.2" r="1.42"/><circle cx="603.0" cy="83.1" r="1.42"/><circle cx="604.0" cy="84.1" r="1.42"/><circle cx="605.0" cy="82.5" r="1.42"/><circle cx="605.9" cy="82.1" r="1.42"/><circle cx="606.9" cy="84.1" r="1.42"/><circle cx="607.9" cy="82.1" r="1.42"/><circle cx="608.8" cy="81.7" r="1.42"/><circle cx="609.8" cy="78.2" r="1.42"/><circle cx="610.4" cy="77.3" r="1.42"/><circle cx="609.2" cy="69.5" r="1.42"/><circle cx="610.4" cy="65.0" r="1.42"/><circle cx="611.8" cy="70.9" r="1.42"/><circle cx="601.1" cy="70.1" r="1.42"/><circle cx="601.5" cy="50.5" r="1.42"/><circle cx="607.3" cy="88.3" r="1.42"/><circle cx="606.9" cy="92.4" r="1.42"/><circle cx="613.7" cy="82.1" r="1.42"/><circle cx="615.6" cy="76.3" r="1.42"/><circle cx="616.6" cy="77.3" r="1.42"/><circle cx="619.5" cy="78.2" r="1.42"/><circle cx="620.5" cy="80.2" r="1.42"/><circle cx="622.4" cy="85.6" r="1.42"/><circle cx="623.4" cy="85.0" r="1.42"/><circle cx="624.0" cy="76.7" r="1.42"/><circle cx="625.9" cy="81.2" r="1.42"/><circle cx="623.6" cy="91.3" r="1.42"/><circle cx="630.2" cy="77.7" r="1.42"/><circle cx="632.1" cy="77.3" r="1.42"/><circle cx="631.2" cy="85.0" r="1.42"/><circle cx="634.1" cy="84.1" r="1.42"/><circle cx="635.6" cy="77.9" r="1.42"/><circle cx="637.6" cy="85.6" r="1.42"/><circle cx="641.5" cy="78.2" r="1.42"/><circle cx="643.8" cy="74.8" r="1.42"/><circle cx="644.8" cy="74.4" r="1.42"/><circle cx="645.7" cy="70.9" r="1.42"/><circle cx="646.7" cy="74.4" r="1.42"/><circle cx="644.2" cy="67.6" r="1.42"/><circle cx="641.8" cy="69.5" r="1.42"/><circle cx="638.0" cy="65.0" r="1.42"/><circle cx="638.5" cy="63.7" r="1.42"/><circle cx="633.1" cy="57.9" r="1.42"/><circle cx="634.7" cy="52.0" r="1.42"/><circle cx="644.2" cy="37.1" r="1.42"/><circle cx="648.6" cy="48.5" r="1.42"/><circle cx="656.4" cy="54.9" r="1.42"/><circle cx="651.9" cy="71.1" r="1.42"/><circle cx="651.9" cy="75.7" r="1.42"/><circle cx="659.7" cy="72.8" r="1.42"/><circle cx="666.7" cy="66.2" r="1.42"/><circle cx="667.5" cy="70.9" r="1.42"/><circle cx="668.6" cy="69.5" r="1.42"/><circle cx="644.2" cy="82.7" r="1.42"/></g><rect x="403.90" y="12.80" width="265.70" height="265.80" fill="none" stroke="#3b3b3b" stroke-width="1.70"/><path d="M403.90 278.60V289.80M403.90 12.80V1.60M448.18 278.60V289.80M448.18 12.80V1.60M492.47 278.60V289.80M492.47 12.80V1.60M536.75 278.60V289.80M536.75 12.80V1.60M581.03 278.60V289.80M581.03 12.80V1.60M625.32 278.60V289.80M625.32 12.80V1.60M669.60 278.60V289.80M669.60 12.80V1.60M426.04 278.60V284.40M426.04 12.80V7.00M470.32 278.60V284.40M470.32 12.80V7.00M514.61 278.60V284.40M514.61 12.80V7.00M558.89 278.60V284.40M558.89 12.80V7.00M603.17 278.60V284.40M603.17 12.80V7.00M647.46 278.60V284.40M647.46 12.80V7.00M403.90 278.60H392.70M669.60 278.60H680.80M403.90 212.15H392.70M669.60 212.15H680.80M403.90 145.70H392.70M669.60 145.70H680.80M403.90 79.25H392.70M669.60 79.25H680.80M403.90 12.80H392.70M669.60 12.80H680.80M403.90 245.38H398.10M669.60 245.38H675.40M403.90 178.93H398.10M669.60 178.93H675.40M403.90 112.48H398.10M669.60 112.48H675.40M403.90 46.03H398.10M669.60 46.03H675.40" stroke="#3b3b3b" stroke-width="1.70" fill="none"/><text x="403.90" y="301.70" font-size="13.8" text-anchor="middle">0</text><text x="448.18" y="301.70" font-size="13.8" text-anchor="middle">2</text><text x="492.47" y="301.70" font-size="13.8" text-anchor="middle">4</text><text x="536.75" y="301.70" font-size="13.8" text-anchor="middle">6</text><text x="581.03" y="301.70" font-size="13.8" text-anchor="middle">8</text><text x="625.32" y="301.70" font-size="13.8" text-anchor="middle">10</text><text x="669.60" y="301.70" font-size="13.8" text-anchor="middle">12</text><text x="389.10" y="283.60" font-size="13.8" text-anchor="end">&#8722;4</text><text x="389.10" y="217.15" font-size="13.8" text-anchor="end">&#8722;2</text><text x="389.10" y="150.70" font-size="13.8" text-anchor="end">0</text><text x="389.10" y="84.25" font-size="13.8" text-anchor="end">2</text><text x="389.10" y="17.80" font-size="13.8" text-anchor="end">4</text><text x="536.75" y="319.20" font-size="14.0" text-anchor="middle">Li<tspan dy="2.5" font-size="10.0">2</tspan><tspan dy="-2.5">&#8203;</tspan>O [molar%]</text><text transform="translate(366.30 145.70) rotate(-90)" font-size="13.9" text-anchor="middle">Relative impact [ln(*)]</text><text x="412.80" y="34.60" font-size="13.9"><tspan font-weight="bold">(b)</tspan> Li<tspan dy="3.4" font-size="10.0">2</tspan><tspan dy="-3.4">&#8203;</tspan>O</text></g>
<g><line x1="48.30" y1="479.20" x2="314.00" y2="479.20" stroke="#8e8e8e" stroke-width="1.15" stroke-dasharray="2.2 1.85"/><line x1="98.09" y1="346.30" x2="98.09" y2="612.10" stroke="#8e8e8e" stroke-width="1.15" stroke-dasharray="2.2 1.85"/><clipPath id="cpc"><rect x="48.30" y="346.30" width="265.70" height="265.80"/></clipPath><g fill="#2281e6" clip-path="url(#cpc)"><circle cx="63.4" cy="492.9" r="1.42"/><circle cx="69.8" cy="487.8" r="1.42"/><circle cx="72.1" cy="486.5" r="1.42"/><circle cx="65.5" cy="492.7" r="1.42"/><circle cx="61.6" cy="497.7" r="1.42"/><circle cx="62.3" cy="490.2" r="1.42"/><circle cx="56.4" cy="488.3" r="1.42"/><circle cx="61.4" cy="484.6" r="1.42"/><circle cx="64.3" cy="494.4" r="1.42"/><circle cx="59.6" cy="496.0" r="1.42"/><circle cx="66.2" cy="485.5" r="1.42"/><circle cx="50.1" cy="497.9" r="1.42"/><circle cx="56.0" cy="486.9" r="1.42"/><circle cx="51.8" cy="488.4" r="1.42"/><circle cx="54.9" cy="487.7" r="1.42"/><circle cx="48.8" cy="491.4" r="1.42"/><circle cx="56.5" cy="489.5" r="1.42"/><circle cx="53.4" cy="485.4" r="1.42"/><circle cx="49.5" cy="496.4" r="1.42"/><circle cx="68.0" cy="491.9" r="1.42"/><circle cx="51.8" cy="485.9" r="1.42"/><circle cx="51.7" cy="488.4" r="1.42"/><circle cx="50.1" cy="487.8" r="1.42"/><circle cx="53.9" cy="486.6" r="1.42"/><circle cx="65.5" cy="490.4" r="1.42"/><circle cx="60.9" cy="489.0" r="1.42"/><circle cx="62.6" cy="495.1" r="1.42"/><circle cx="56.6" cy="484.8" r="1.42"/><circle cx="61.1" cy="489.3" r="1.42"/><circle cx="68.8" cy="485.4" r="1.42"/><circle cx="62.6" cy="490.2" r="1.42"/><circle cx="56.8" cy="496.6" r="1.42"/><circle cx="66.8" cy="486.2" r="1.42"/><circle cx="61.4" cy="492.6" r="1.42"/><circle cx="49.5" cy="485.1" r="1.42"/><circle cx="64.2" cy="494.3" r="1.42"/><circle cx="60.6" cy="489.9" r="1.42"/><circle cx="61.7" cy="487.6" r="1.42"/><circle cx="61.1" cy="484.1" r="1.42"/><circle cx="58.9" cy="495.4" r="1.42"/><circle cx="57.0" cy="485.3" r="1.42"/><circle cx="53.4" cy="494.0" r="1.42"/><circle cx="64.7" cy="487.9" r="1.42"/><circle cx="64.8" cy="494.8" r="1.42"/><circle cx="59.8" cy="495.5" r="1.42"/><circle cx="68.0" cy="492.2" r="1.42"/><circle cx="61.8" cy="496.0" r="1.42"/><circle cx="64.8" cy="494.2" r="1.42"/><circle cx="54.5" cy="485.1" r="1.42"/><circle cx="55.6" cy="492.2" r="1.42"/><circle cx="63.4" cy="486.7" r="1.42"/><circle cx="53.5" cy="497.5" r="1.42"/><circle cx="50.5" cy="497.1" r="1.42"/><circle cx="68.6" cy="492.1" r="1.42"/><circle cx="48.8" cy="497.3" r="1.42"/><circle cx="59.3" cy="497.0" r="1.42"/><circle cx="69.7" cy="485.8" r="1.42"/><circle cx="49.6" cy="484.1" r="1.42"/><circle cx="54.5" cy="485.4" r="1.42"/><circle cx="58.1" cy="495.3" r="1.42"/><circle cx="48.8" cy="496.2" r="1.42"/><circle cx="64.6" cy="488.5" r="1.42"/><circle cx="51.9" cy="488.6" r="1.42"/><circle cx="57.4" cy="490.9" r="1.42"/><circle cx="60.3" cy="486.7" r="1.42"/><circle cx="50.7" cy="486.7" r="1.42"/><circle cx="51.9" cy="485.2" r="1.42"/><circle cx="59.3" cy="485.7" r="1.42"/><circle cx="69.3" cy="491.6" r="1.42"/><circle cx="60.5" cy="493.0" r="1.42"/><circle cx="54.7" cy="484.1" r="1.42"/><circle cx="50.6" cy="488.7" r="1.42"/><circle cx="58.0" cy="487.4" r="1.42"/><circle cx="56.5" cy="495.8" r="1.42"/><circle cx="48.8" cy="490.3" r="1.42"/><circle cx="58.5" cy="487.9" r="1.42"/><circle cx="67.4" cy="487.0" r="1.42"/><circle cx="49.7" cy="486.1" r="1.42"/><circle cx="73.9" cy="488.8" r="1.42"/><circle cx="51.6" cy="497.8" r="1.42"/><circle cx="57.2" cy="495.5" r="1.42"/><circle cx="49.7" cy="487.2" r="1.42"/><circle cx="69.2" cy="491.2" r="1.42"/><circle cx="69.0" cy="489.4" r="1.42"/><circle cx="64.7" cy="486.5" r="1.42"/><circle cx="53.8" cy="496.5" r="1.42"/><circle cx="59.7" cy="495.5" r="1.42"/><circle cx="56.0" cy="494.3" r="1.42"/><circle cx="54.7" cy="493.4" r="1.42"/><circle cx="60.1" cy="489.6" r="1.42"/><circle cx="51.2" cy="494.9" r="1.42"/><circle cx="52.7" cy="486.9" r="1.42"/><circle cx="49.5" cy="486.2" r="1.42"/><circle cx="58.5" cy="490.7" r="1.42"/><circle cx="53.1" cy="489.9" r="1.42"/><circle cx="68.2" cy="485.2" r="1.42"/><circle cx="52.1" cy="491.3" r="1.42"/><circle cx="63.3" cy="485.1" r="1.42"/><circle cx="71.9" cy="491.4" r="1.42"/><circle cx="58.5" cy="492.3" r="1.42"/><circle cx="61.4" cy="491.1" r="1.42"/><circle cx="56.6" cy="491.6" r="1.42"/><circle cx="62.7" cy="487.9" r="1.42"/><circle cx="60.5" cy="497.0" r="1.42"/><circle cx="54.7" cy="487.5" r="1.42"/><circle cx="56.5" cy="496.2" r="1.42"/><circle cx="56.5" cy="495.7" r="1.42"/><circle cx="69.4" cy="486.6" r="1.42"/><circle cx="60.3" cy="495.7" r="1.42"/><circle cx="55.0" cy="492.5" r="1.42"/><circle cx="57.7" cy="485.5" r="1.42"/><circle cx="49.4" cy="488.4" r="1.42"/><circle cx="62.8" cy="487.8" r="1.42"/><circle cx="64.7" cy="495.7" r="1.42"/><circle cx="57.1" cy="493.2" r="1.42"/><circle cx="57.7" cy="488.0" r="1.42"/><circle cx="51.6" cy="495.2" r="1.42"/><circle cx="59.4" cy="488.4" r="1.42"/><circle cx="72.0" cy="490.0" r="1.42"/><circle cx="61.8" cy="488.9" r="1.42"/><circle cx="55.2" cy="487.3" r="1.42"/><circle cx="50.2" cy="484.0" r="1.42"/><circle cx="62.8" cy="494.4" r="1.42"/><circle cx="66.0" cy="487.5" r="1.42"/><circle cx="59.8" cy="488.6" r="1.42"/><circle cx="53.2" cy="497.6" r="1.42"/><circle cx="67.1" cy="485.7" r="1.42"/><circle cx="53.2" cy="495.5" r="1.42"/><circle cx="58.2" cy="488.1" r="1.42"/><circle cx="56.3" cy="488.5" r="1.42"/><circle cx="63.9" cy="488.3" r="1.42"/><circle cx="63.9" cy="484.7" r="1.42"/><circle cx="62.5" cy="492.2" r="1.42"/><circle cx="56.9" cy="496.3" r="1.42"/><circle cx="59.3" cy="486.2" r="1.42"/><circle cx="64.8" cy="488.0" r="1.42"/><circle cx="52.9" cy="491.5" r="1.42"/><circle cx="53.8" cy="493.0" r="1.42"/><circle cx="65.0" cy="486.6" r="1.42"/><circle cx="57.3" cy="494.2" r="1.42"/><circle cx="73.6" cy="488.3" r="1.42"/><circle cx="68.1" cy="488.8" r="1.42"/><circle cx="73.0" cy="486.3" r="1.42"/><circle cx="65.8" cy="485.0" r="1.42"/><circle cx="63.1" cy="494.5" r="1.42"/><circle cx="62.8" cy="489.6" r="1.42"/><circle cx="64.9" cy="493.1" r="1.42"/><circle cx="64.4" cy="494.1" r="1.42"/><circle cx="64.7" cy="496.4" r="1.42"/><circle cx="67.8" cy="489.3" r="1.42"/><circle cx="76.8" cy="491.4" r="1.42"/><circle cx="80.0" cy="488.4" r="1.42"/><circle cx="81.5" cy="487.8" r="1.42"/><circle cx="84.7" cy="485.5" r="1.42"/><circle cx="77.2" cy="491.1" r="1.42"/><circle cx="79.4" cy="488.2" r="1.42"/><circle cx="81.6" cy="488.2" r="1.42"/><circle cx="84.5" cy="487.0" r="1.42"/><circle cx="85.7" cy="489.6" r="1.42"/><circle cx="86.7" cy="486.7" r="1.42"/><circle cx="88.9" cy="489.6" r="1.42"/><circle cx="90.3" cy="486.0" r="1.42"/><circle cx="91.1" cy="490.4" r="1.42"/><circle cx="94.4" cy="487.4" r="1.42"/><circle cx="95.4" cy="486.0" r="1.42"/><circle cx="99.1" cy="482.3" r="1.42"/><circle cx="100.8" cy="481.2" r="1.42"/><circle cx="102.3" cy="480.1" r="1.42"/><circle cx="102.7" cy="483.8" r="1.42"/><circle cx="103.5" cy="486.7" r="1.42"/><circle cx="103.2" cy="488.5" r="1.42"/><circle cx="105.7" cy="483.5" r="1.42"/><circle cx="107.1" cy="482.6" r="1.42"/><circle cx="112.2" cy="483.5" r="1.42"/><circle cx="113.4" cy="482.6" r="1.42"/><circle cx="117.8" cy="480.9" r="1.42"/><circle cx="118.8" cy="483.1" r="1.42"/><circle cx="119.5" cy="486.0" r="1.42"/><circle cx="120.3" cy="483.8" r="1.42"/><circle cx="121.0" cy="481.6" r="1.42"/><circle cx="121.7" cy="479.4" r="1.42"/><circle cx="122.5" cy="483.1" r="1.42"/><circle cx="123.2" cy="486.4" r="1.42"/><circle cx="124.6" cy="482.3" r="1.42"/><circle cx="126.1" cy="481.6" r="1.42"/><circle cx="128.0" cy="481.6" r="1.42"/><circle cx="137.3" cy="475.0" r="1.42"/><circle cx="138.5" cy="480.1" r="1.42"/><circle cx="140.0" cy="475.0" r="1.42"/><circle cx="143.6" cy="477.2" r="1.42"/><circle cx="145.1" cy="475.0" r="1.42"/><circle cx="146.5" cy="472.8" r="1.42"/><circle cx="147.3" cy="474.3" r="1.42"/><circle cx="74.3" cy="488.2" r="1.42"/><circle cx="72.8" cy="491.1" r="1.42"/><circle cx="75.0" cy="490.4" r="1.42"/><circle cx="141.2" cy="475.8" r="1.42"/><circle cx="144.7" cy="474.6" r="1.42"/><circle cx="146.5" cy="473.0" r="1.42"/><circle cx="147.5" cy="472.3" r="1.42"/><circle cx="150.5" cy="475.3" r="1.42"/><circle cx="153.5" cy="471.1" r="1.42"/><circle cx="155.9" cy="473.0" r="1.42"/><circle cx="159.9" cy="461.8" r="1.42"/><circle cx="159.9" cy="466.9" r="1.42"/><circle cx="164.5" cy="465.3" r="1.42"/><circle cx="165.2" cy="466.4" r="1.42"/><circle cx="167.6" cy="467.6" r="1.42"/><circle cx="169.9" cy="463.6" r="1.42"/><circle cx="171.5" cy="461.3" r="1.42"/><circle cx="176.9" cy="455.9" r="1.42"/><circle cx="177.8" cy="461.8" r="1.42"/><circle cx="178.5" cy="464.1" r="1.42"/><circle cx="180.2" cy="456.6" r="1.42"/><circle cx="183.2" cy="459.9" r="1.42"/><circle cx="188.6" cy="462.9" r="1.42"/><circle cx="189.1" cy="455.2" r="1.42"/><circle cx="190.9" cy="455.9" r="1.42"/><circle cx="191.9" cy="451.9" r="1.42"/><circle cx="193.3" cy="450.5" r="1.42"/><circle cx="194.2" cy="449.6" r="1.42"/><circle cx="195.6" cy="448.9" r="1.42"/><circle cx="196.1" cy="466.9" r="1.42"/><circle cx="194.9" cy="471.6" r="1.42"/><circle cx="196.1" cy="470.6" r="1.42"/><circle cx="197.2" cy="469.9" r="1.42"/><circle cx="198.4" cy="469.2" r="1.42"/><circle cx="197.9" cy="462.9" r="1.42"/><circle cx="203.5" cy="455.9" r="1.42"/><circle cx="207.3" cy="440.3" r="1.42"/><circle cx="207.3" cy="448.2" r="1.42"/><circle cx="208.9" cy="444.9" r="1.42"/><circle cx="219.4" cy="442.6" r="1.42"/><circle cx="219.9" cy="438.4" r="1.42"/><circle cx="220.6" cy="434.9" r="1.42"/><circle cx="221.3" cy="433.3" r="1.42"/><circle cx="221.3" cy="452.9" r="1.42"/><circle cx="226.9" cy="462.9" r="1.42"/><circle cx="227.6" cy="426.2" r="1.42"/><circle cx="228.8" cy="433.3" r="1.42"/><circle cx="229.9" cy="424.8" r="1.42"/><circle cx="232.3" cy="423.2" r="1.42"/><circle cx="233.0" cy="455.2" r="1.42"/><circle cx="238.6" cy="422.0" r="1.42"/><circle cx="240.0" cy="417.8" r="1.42"/><circle cx="245.1" cy="420.9" r="1.42"/><circle cx="244.4" cy="458.5" r="1.42"/><circle cx="250.9" cy="461.8" r="1.42"/><circle cx="250.2" cy="416.9" r="1.42"/><circle cx="252.1" cy="415.5" r="1.42"/><circle cx="254.0" cy="404.5" r="1.42"/><circle cx="255.6" cy="409.2" r="1.42"/><circle cx="256.1" cy="411.5" r="1.42"/><circle cx="256.8" cy="412.7" r="1.42"/><circle cx="257.5" cy="414.6" r="1.42"/><circle cx="256.8" cy="407.6" r="1.42"/><circle cx="259.1" cy="403.4" r="1.42"/><circle cx="258.0" cy="410.4" r="1.42"/><circle cx="260.3" cy="402.9" r="1.42"/><circle cx="263.8" cy="396.4" r="1.42"/><circle cx="263.3" cy="401.5" r="1.42"/><circle cx="264.3" cy="403.4" r="1.42"/><circle cx="265.0" cy="405.7" r="1.42"/><circle cx="266.1" cy="402.2" r="1.42"/><circle cx="267.3" cy="404.5" r="1.42"/><circle cx="268.5" cy="401.0" r="1.42"/><circle cx="269.6" cy="403.4" r="1.42"/><circle cx="270.3" cy="405.7" r="1.42"/><circle cx="268.0" cy="405.7" r="1.42"/><circle cx="273.8" cy="399.2" r="1.42"/><circle cx="292.5" cy="415.0" r="1.42"/><circle cx="263.8" cy="425.1" r="1.42"/><circle cx="267.8" cy="423.9" r="1.42"/><circle cx="256.1" cy="436.1" r="1.42"/><circle cx="261.5" cy="434.4" r="1.42"/><circle cx="263.8" cy="438.4" r="1.42"/><circle cx="269.2" cy="446.3" r="1.42"/><circle cx="265.0" cy="451.7" r="1.42"/><circle cx="273.6" cy="450.1" r="1.42"/><circle cx="257.3" cy="453.6" r="1.42"/></g><rect x="48.30" y="346.30" width="265.70" height="265.80" fill="none" stroke="#3b3b3b" stroke-width="1.70"/><path d="M48.30 612.10V623.30M48.30 346.30V335.10M101.44 612.10V623.30M101.44 346.30V335.10M154.58 612.10V623.30M154.58 346.30V335.10M207.72 612.10V623.30M207.72 346.30V335.10M260.86 612.10V623.30M260.86 346.30V335.10M314.00 612.10V623.30M314.00 346.30V335.10M74.87 612.10V617.90M74.87 346.30V340.50M128.01 612.10V617.90M128.01 346.30V340.50M181.15 612.10V617.90M181.15 346.30V340.50M234.29 612.10V617.90M234.29 346.30V340.50M287.43 612.10V617.90M287.43 346.30V340.50M48.30 612.10H37.10M314.00 612.10H325.20M48.30 545.65H37.10M314.00 545.65H325.20M48.30 479.20H37.10M314.00 479.20H325.20M48.30 412.75H37.10M314.00 412.75H325.20M48.30 346.30H37.10M314.00 346.30H325.20M48.30 578.88H42.50M314.00 578.88H319.80M48.30 512.42H42.50M314.00 512.42H319.80M48.30 445.98H42.50M314.00 445.98H319.80M48.30 379.53H42.50M314.00 379.53H319.80" stroke="#3b3b3b" stroke-width="1.70" fill="none"/><text x="48.30" y="635.20" font-size="13.8" text-anchor="middle">0</text><text x="101.44" y="635.20" font-size="13.8" text-anchor="middle">1</text><text x="154.58" y="635.20" font-size="13.8" text-anchor="middle">2</text><text x="207.72" y="635.20" font-size="13.8" text-anchor="middle">3</text><text x="260.86" y="635.20" font-size="13.8" text-anchor="middle">4</text><text x="314.00" y="635.20" font-size="13.8" text-anchor="middle">5</text><text x="33.50" y="617.10" font-size="13.8" text-anchor="end">&#8722;4</text><text x="33.50" y="550.65" font-size="13.8" text-anchor="end">&#8722;2</text><text x="33.50" y="484.20" font-size="13.8" text-anchor="end">0</text><text x="33.50" y="417.75" font-size="13.8" text-anchor="end">2</text><text x="33.50" y="351.30" font-size="13.8" text-anchor="end">4</text><text x="181.15" y="652.70" font-size="14.0" text-anchor="middle">K<tspan dy="2.5" font-size="10.0">2</tspan><tspan dy="-2.5">&#8203;</tspan>O [molar%]</text><text transform="translate(10.70 479.20) rotate(-90)" font-size="13.9" text-anchor="middle">Relative impact [ln(*)]</text><text x="51.40" y="368.10" font-size="13.9"><tspan font-weight="bold">(c)</tspan> K<tspan dy="3.4" font-size="10.0">2</tspan><tspan dy="-3.4">&#8203;</tspan>O</text></g>
<g><line x1="403.90" y1="479.20" x2="669.60" y2="479.20" stroke="#8e8e8e" stroke-width="1.15" stroke-dasharray="2.2 1.85"/><line x1="512.25" y1="346.30" x2="512.25" y2="612.10" stroke="#8e8e8e" stroke-width="1.15" stroke-dasharray="2.2 1.85"/><clipPath id="cpd"><rect x="403.90" y="346.30" width="265.70" height="265.80"/></clipPath><g fill="#2281e6" clip-path="url(#cpd)"><circle cx="422.8" cy="463.2" r="1.42"/><circle cx="424.0" cy="465.9" r="1.42"/><circle cx="422.8" cy="475.6" r="1.42"/><circle cx="425.7" cy="474.3" r="1.42"/><circle cx="430.8" cy="473.7" r="1.42"/><circle cx="421.5" cy="480.1" r="1.42"/><circle cx="422.4" cy="481.1" r="1.42"/><circle cx="423.4" cy="479.1" r="1.42"/><circle cx="424.4" cy="480.1" r="1.42"/><circle cx="425.4" cy="481.1" r="1.42"/><circle cx="426.3" cy="479.1" r="1.42"/><circle cx="427.3" cy="478.2" r="1.42"/><circle cx="425.0" cy="477.2" r="1.42"/><circle cx="428.3" cy="482.0" r="1.42"/><circle cx="429.2" cy="480.7" r="1.42"/><circle cx="422.4" cy="485.9" r="1.42"/><circle cx="421.9" cy="484.6" r="1.42"/><circle cx="425.7" cy="484.9" r="1.42"/><circle cx="423.4" cy="483.4" r="1.42"/><circle cx="426.3" cy="483.0" r="1.42"/><circle cx="443.4" cy="467.5" r="1.42"/><circle cx="449.6" cy="480.1" r="1.42"/><circle cx="451.6" cy="482.0" r="1.42"/><circle cx="452.5" cy="484.0" r="1.42"/><circle cx="453.5" cy="485.9" r="1.42"/><circle cx="454.5" cy="483.0" r="1.42"/><circle cx="455.5" cy="484.9" r="1.42"/><circle cx="456.0" cy="481.1" r="1.42"/><circle cx="456.4" cy="477.2" r="1.42"/><circle cx="457.4" cy="475.2" r="1.42"/><circle cx="458.0" cy="474.3" r="1.42"/><circle cx="455.5" cy="478.2" r="1.42"/><circle cx="452.5" cy="481.1" r="1.42"/><circle cx="454.1" cy="481.1" r="1.42"/><circle cx="456.4" cy="485.9" r="1.42"/><circle cx="468.3" cy="476.4" r="1.42"/><circle cx="471.7" cy="476.9" r="1.42"/><circle cx="464.6" cy="479.6" r="1.42"/><circle cx="479.6" cy="477.7" r="1.42"/><circle cx="474.7" cy="478.2" r="1.42"/><circle cx="480.9" cy="484.0" r="1.42"/><circle cx="480.3" cy="477.3" r="1.42"/><circle cx="469.8" cy="482.1" r="1.42"/><circle cx="478.9" cy="484.5" r="1.42"/><circle cx="476.2" cy="482.5" r="1.42"/><circle cx="474.0" cy="477.2" r="1.42"/><circle cx="473.3" cy="476.2" r="1.42"/><circle cx="474.9" cy="478.5" r="1.42"/><circle cx="482.6" cy="481.5" r="1.42"/><circle cx="474.1" cy="479.7" r="1.42"/><circle cx="476.0" cy="479.9" r="1.42"/><circle cx="466.7" cy="478.6" r="1.42"/><circle cx="464.2" cy="482.1" r="1.42"/><circle cx="469.2" cy="481.1" r="1.42"/><circle cx="473.3" cy="479.0" r="1.42"/><circle cx="472.0" cy="477.4" r="1.42"/><circle cx="476.7" cy="478.2" r="1.42"/><circle cx="470.8" cy="483.4" r="1.42"/><circle cx="470.1" cy="481.3" r="1.42"/><circle cx="479.6" cy="481.9" r="1.42"/><circle cx="468.3" cy="478.8" r="1.42"/><circle cx="467.0" cy="480.2" r="1.42"/><circle cx="464.1" cy="482.8" r="1.42"/><circle cx="472.0" cy="485.5" r="1.42"/><circle cx="476.5" cy="484.1" r="1.42"/><circle cx="469.5" cy="477.3" r="1.42"/><circle cx="472.7" cy="476.7" r="1.42"/><circle cx="471.4" cy="485.7" r="1.42"/><circle cx="480.0" cy="479.2" r="1.42"/><circle cx="469.4" cy="476.3" r="1.42"/><circle cx="484.2" cy="479.9" r="1.42"/><circle cx="477.7" cy="476.9" r="1.42"/><circle cx="464.1" cy="480.6" r="1.42"/><circle cx="465.8" cy="481.0" r="1.42"/><circle cx="479.7" cy="479.7" r="1.42"/><circle cx="484.3" cy="480.4" r="1.42"/><circle cx="468.4" cy="479.7" r="1.42"/><circle cx="464.0" cy="479.8" r="1.42"/><circle cx="468.5" cy="484.9" r="1.42"/><circle cx="481.0" cy="480.7" r="1.42"/><circle cx="468.4" cy="477.5" r="1.42"/><circle cx="468.2" cy="484.7" r="1.42"/><circle cx="483.0" cy="481.4" r="1.42"/><circle cx="482.5" cy="482.4" r="1.42"/><circle cx="480.1" cy="483.3" r="1.42"/><circle cx="473.8" cy="476.3" r="1.42"/><circle cx="467.7" cy="484.7" r="1.42"/><circle cx="470.4" cy="482.4" r="1.42"/><circle cx="480.3" cy="482.2" r="1.42"/><circle cx="480.6" cy="481.0" r="1.42"/><circle cx="477.2" cy="482.7" r="1.42"/><circle cx="468.9" cy="485.3" r="1.42"/><circle cx="477.5" cy="475.7" r="1.42"/><circle cx="483.9" cy="482.5" r="1.42"/><circle cx="476.8" cy="481.4" r="1.42"/><circle cx="479.2" cy="485.3" r="1.42"/><circle cx="480.5" cy="483.8" r="1.42"/><circle cx="482.0" cy="481.2" r="1.42"/><circle cx="482.0" cy="477.4" r="1.42"/><circle cx="477.6" cy="478.8" r="1.42"/><circle cx="482.3" cy="483.7" r="1.42"/><circle cx="473.3" cy="481.0" r="1.42"/><circle cx="475.9" cy="480.6" r="1.42"/><circle cx="481.7" cy="481.9" r="1.42"/><circle cx="466.2" cy="479.2" r="1.42"/><circle cx="479.6" cy="480.9" r="1.42"/><circle cx="474.8" cy="479.4" r="1.42"/><circle cx="480.0" cy="478.6" r="1.42"/><circle cx="468.2" cy="480.5" r="1.42"/><circle cx="465.7" cy="482.0" r="1.42"/><circle cx="482.1" cy="480.8" r="1.42"/><circle cx="472.5" cy="484.6" r="1.42"/><circle cx="482.0" cy="477.4" r="1.42"/><circle cx="469.7" cy="484.3" r="1.42"/><circle cx="472.2" cy="483.9" r="1.42"/><circle cx="467.0" cy="476.9" r="1.42"/><circle cx="473.8" cy="478.9" r="1.42"/><circle cx="474.8" cy="485.1" r="1.42"/><circle cx="469.9" cy="481.2" r="1.42"/><circle cx="473.6" cy="483.0" r="1.42"/><circle cx="473.6" cy="476.1" r="1.42"/><circle cx="468.5" cy="484.5" r="1.42"/><circle cx="470.8" cy="483.6" r="1.42"/><circle cx="477.7" cy="481.9" r="1.42"/><circle cx="469.9" cy="485.2" r="1.42"/><circle cx="473.2" cy="485.2" r="1.42"/><circle cx="469.7" cy="484.7" r="1.42"/><circle cx="480.0" cy="481.9" r="1.42"/><circle cx="472.7" cy="476.8" r="1.42"/><circle cx="479.7" cy="479.2" r="1.42"/><circle cx="477.1" cy="470.5" r="1.42"/><circle cx="479.1" cy="470.8" r="1.42"/><circle cx="480.3" cy="472.3" r="1.42"/><circle cx="475.9" cy="472.1" r="1.42"/><circle cx="476.5" cy="470.1" r="1.42"/><circle cx="473.5" cy="476.7" r="1.42"/><circle cx="470.5" cy="474.5" r="1.42"/><circle cx="472.5" cy="471.8" r="1.42"/><circle cx="479.0" cy="475.7" r="1.42"/><circle cx="476.0" cy="473.3" r="1.42"/><circle cx="475.9" cy="476.7" r="1.42"/><circle cx="469.7" cy="474.5" r="1.42"/><circle cx="477.3" cy="475.2" r="1.42"/><circle cx="476.5" cy="475.9" r="1.42"/><circle cx="472.2" cy="476.6" r="1.42"/><circle cx="473.6" cy="474.1" r="1.42"/><circle cx="480.3" cy="474.9" r="1.42"/><circle cx="472.3" cy="471.2" r="1.42"/><circle cx="472.5" cy="474.3" r="1.42"/><circle cx="473.5" cy="472.5" r="1.42"/><circle cx="515.4" cy="475.9" r="1.42"/><circle cx="524.7" cy="477.9" r="1.42"/><circle cx="521.7" cy="477.5" r="1.42"/><circle cx="483.3" cy="471.7" r="1.42"/><circle cx="532.9" cy="476.8" r="1.42"/><circle cx="530.8" cy="473.5" r="1.42"/><circle cx="507.3" cy="472.4" r="1.42"/><circle cx="511.2" cy="474.6" r="1.42"/><circle cx="482.5" cy="470.2" r="1.42"/><circle cx="496.7" cy="475.4" r="1.42"/><circle cx="523.5" cy="473.2" r="1.42"/><circle cx="525.2" cy="473.2" r="1.42"/><circle cx="515.4" cy="472.3" r="1.42"/><circle cx="481.6" cy="473.9" r="1.42"/><circle cx="493.2" cy="471.0" r="1.42"/><circle cx="534.9" cy="478.3" r="1.42"/><circle cx="497.2" cy="475.7" r="1.42"/><circle cx="510.9" cy="475.2" r="1.42"/><circle cx="492.6" cy="475.2" r="1.42"/><circle cx="519.0" cy="477.5" r="1.42"/><circle cx="530.3" cy="474.6" r="1.42"/><circle cx="501.5" cy="471.4" r="1.42"/><circle cx="489.8" cy="469.9" r="1.42"/><circle cx="498.0" cy="473.7" r="1.42"/><circle cx="481.8" cy="472.8" r="1.42"/><circle cx="500.1" cy="472.2" r="1.42"/><circle cx="526.2" cy="475.3" r="1.42"/><circle cx="498.8" cy="473.0" r="1.42"/><circle cx="520.2" cy="472.3" r="1.42"/><circle cx="534.9" cy="473.3" r="1.42"/><circle cx="522.3" cy="477.1" r="1.42"/><circle cx="482.5" cy="473.5" r="1.42"/><circle cx="501.5" cy="473.8" r="1.42"/><circle cx="482.4" cy="469.2" r="1.42"/><circle cx="491.3" cy="475.2" r="1.42"/><circle cx="492.2" cy="474.1" r="1.42"/><circle cx="532.0" cy="478.5" r="1.42"/><circle cx="500.5" cy="472.4" r="1.42"/><circle cx="510.1" cy="475.7" r="1.42"/><circle cx="487.4" cy="473.7" r="1.42"/><circle cx="524.8" cy="477.4" r="1.42"/><circle cx="483.4" cy="474.5" r="1.42"/><circle cx="486.7" cy="471.2" r="1.42"/><circle cx="514.7" cy="476.9" r="1.42"/><circle cx="499.9" cy="475.7" r="1.42"/><circle cx="511.4" cy="473.1" r="1.42"/><circle cx="499.0" cy="471.3" r="1.42"/><circle cx="486.1" cy="470.1" r="1.42"/><circle cx="518.9" cy="477.7" r="1.42"/><circle cx="490.7" cy="469.8" r="1.42"/><circle cx="535.3" cy="476.3" r="1.42"/><circle cx="503.9" cy="472.0" r="1.42"/><circle cx="513.8" cy="476.3" r="1.42"/><circle cx="506.5" cy="473.3" r="1.42"/><circle cx="484.5" cy="474.4" r="1.42"/><circle cx="483.4" cy="471.9" r="1.42"/><circle cx="527.4" cy="473.3" r="1.42"/><circle cx="521.2" cy="477.6" r="1.42"/><circle cx="515.8" cy="476.2" r="1.42"/><circle cx="487.5" cy="471.8" r="1.42"/><circle cx="489.6" cy="474.4" r="1.42"/><circle cx="497.7" cy="472.8" r="1.42"/><circle cx="535.8" cy="478.3" r="1.42"/><circle cx="534.7" cy="475.8" r="1.42"/><circle cx="508.1" cy="475.3" r="1.42"/><circle cx="507.8" cy="472.7" r="1.42"/><circle cx="503.8" cy="471.5" r="1.42"/><circle cx="501.9" cy="476.3" r="1.42"/><circle cx="533.8" cy="476.8" r="1.42"/><circle cx="508.9" cy="473.0" r="1.42"/><circle cx="486.6" cy="470.8" r="1.42"/><circle cx="524.0" cy="477.4" r="1.42"/><circle cx="501.2" cy="475.0" r="1.42"/><circle cx="523.7" cy="476.3" r="1.42"/><circle cx="517.6" cy="476.2" r="1.42"/><circle cx="501.3" cy="474.6" r="1.42"/><circle cx="496.9" cy="472.9" r="1.42"/><circle cx="523.4" cy="476.3" r="1.42"/><circle cx="497.4" cy="475.6" r="1.42"/><circle cx="516.9" cy="475.1" r="1.42"/><circle cx="482.3" cy="472.1" r="1.42"/><circle cx="495.2" cy="473.9" r="1.42"/><circle cx="506.7" cy="475.7" r="1.42"/><circle cx="516.7" cy="476.4" r="1.42"/><circle cx="500.5" cy="474.1" r="1.42"/><circle cx="521.6" cy="476.9" r="1.42"/><circle cx="500.5" cy="475.3" r="1.42"/><circle cx="528.9" cy="476.7" r="1.42"/><circle cx="534.5" cy="478.8" r="1.42"/><circle cx="509.8" cy="474.2" r="1.42"/><circle cx="490.5" cy="474.4" r="1.42"/><circle cx="532.6" cy="475.8" r="1.42"/><circle cx="519.1" cy="476.1" r="1.42"/><circle cx="521.5" cy="473.1" r="1.42"/><circle cx="524.1" cy="475.7" r="1.42"/><circle cx="498.5" cy="476.6" r="1.42"/><circle cx="497.6" cy="477.9" r="1.42"/><circle cx="497.8" cy="477.7" r="1.42"/><circle cx="486.2" cy="474.4" r="1.42"/><circle cx="494.1" cy="477.1" r="1.42"/><circle cx="489.7" cy="476.8" r="1.42"/><circle cx="498.0" cy="475.1" r="1.42"/><circle cx="494.8" cy="475.5" r="1.42"/><circle cx="486.7" cy="474.3" r="1.42"/><circle cx="491.8" cy="475.0" r="1.42"/><circle cx="489.5" cy="474.2" r="1.42"/><circle cx="494.6" cy="476.1" r="1.42"/><circle cx="497.4" cy="477.2" r="1.42"/><circle cx="490.0" cy="477.6" r="1.42"/><circle cx="485.6" cy="475.3" r="1.42"/><circle cx="491.0" cy="475.8" r="1.42"/><circle cx="487.7" cy="477.1" r="1.42"/><circle cx="493.0" cy="474.6" r="1.42"/><circle cx="497.6" cy="475.3" r="1.42"/><circle cx="496.2" cy="476.1" r="1.42"/><circle cx="496.6" cy="478.5" r="1.42"/><circle cx="501.5" cy="476.9" r="1.42"/><circle cx="501.3" cy="477.8" r="1.42"/><circle cx="492.9" cy="475.0" r="1.42"/><circle cx="497.1" cy="477.0" r="1.42"/><circle cx="504.0" cy="479.3" r="1.42"/><circle cx="497.4" cy="476.2" r="1.42"/><circle cx="503.1" cy="475.4" r="1.42"/><circle cx="487.6" cy="476.1" r="1.42"/><circle cx="497.6" cy="475.4" r="1.42"/><circle cx="546.3" cy="475.7" r="1.42"/><circle cx="539.9" cy="473.3" r="1.42"/><circle cx="530.0" cy="475.8" r="1.42"/><circle cx="539.7" cy="475.8" r="1.42"/><circle cx="537.7" cy="475.9" r="1.42"/><circle cx="535.6" cy="476.2" r="1.42"/><circle cx="544.9" cy="473.8" r="1.42"/><circle cx="541.0" cy="475.3" r="1.42"/><circle cx="534.0" cy="475.0" r="1.42"/><circle cx="546.4" cy="473.0" r="1.42"/><circle cx="546.5" cy="475.1" r="1.42"/><circle cx="547.2" cy="473.3" r="1.42"/><circle cx="532.0" cy="476.3" r="1.42"/><circle cx="546.4" cy="473.9" r="1.42"/><circle cx="531.8" cy="473.4" r="1.42"/><circle cx="542.9" cy="473.3" r="1.42"/><circle cx="549.5" cy="474.4" r="1.42"/><circle cx="534.1" cy="475.5" r="1.42"/><circle cx="537.5" cy="476.7" r="1.42"/><circle cx="548.6" cy="474.1" r="1.42"/><circle cx="543.2" cy="475.3" r="1.42"/><circle cx="546.6" cy="476.5" r="1.42"/><circle cx="530.5" cy="474.3" r="1.42"/><circle cx="542.3" cy="473.4" r="1.42"/><circle cx="541.9" cy="472.4" r="1.42"/><circle cx="548.0" cy="474.2" r="1.42"/><circle cx="532.4" cy="475.6" r="1.42"/><circle cx="536.3" cy="473.2" r="1.42"/><circle cx="539.8" cy="472.7" r="1.42"/><circle cx="534.4" cy="476.5" r="1.42"/><circle cx="555.9" cy="477.0" r="1.42"/><circle cx="557.3" cy="477.5" r="1.42"/><circle cx="547.8" cy="478.9" r="1.42"/><circle cx="554.0" cy="477.9" r="1.42"/><circle cx="549.4" cy="476.8" r="1.42"/><circle cx="543.8" cy="478.1" r="1.42"/><circle cx="543.4" cy="474.9" r="1.42"/><circle cx="556.1" cy="479.1" r="1.42"/><circle cx="560.7" cy="479.8" r="1.42"/><circle cx="559.7" cy="482.8" r="1.42"/><circle cx="554.0" cy="480.9" r="1.42"/><circle cx="550.0" cy="479.2" r="1.42"/><circle cx="556.9" cy="479.9" r="1.42"/><circle cx="550.6" cy="478.8" r="1.42"/><circle cx="550.4" cy="475.5" r="1.42"/><circle cx="556.4" cy="478.5" r="1.42"/><circle cx="550.8" cy="479.3" r="1.42"/><circle cx="546.2" cy="473.8" r="1.42"/><circle cx="544.4" cy="476.1" r="1.42"/><circle cx="549.3" cy="476.0" r="1.42"/><circle cx="549.9" cy="479.7" r="1.42"/><circle cx="547.1" cy="476.1" r="1.42"/><circle cx="558.3" cy="480.9" r="1.42"/><circle cx="547.2" cy="476.5" r="1.42"/><circle cx="551.6" cy="476.2" r="1.42"/><circle cx="549.5" cy="476.4" r="1.42"/><circle cx="557.3" cy="479.1" r="1.42"/><circle cx="553.7" cy="481.2" r="1.42"/><circle cx="559.4" cy="480.0" r="1.42"/><circle cx="553.6" cy="477.8" r="1.42"/><circle cx="565.6" cy="482.7" r="1.42"/><circle cx="569.5" cy="486.9" r="1.42"/><circle cx="565.2" cy="479.4" r="1.42"/><circle cx="567.0" cy="480.4" r="1.42"/><circle cx="560.5" cy="482.8" r="1.42"/><circle cx="561.6" cy="482.8" r="1.42"/><circle cx="564.2" cy="485.1" r="1.42"/><circle cx="572.0" cy="482.0" r="1.42"/><circle cx="562.2" cy="484.5" r="1.42"/><circle cx="568.3" cy="483.1" r="1.42"/><circle cx="569.6" cy="486.1" r="1.42"/><circle cx="566.7" cy="482.9" r="1.42"/><circle cx="562.2" cy="480.7" r="1.42"/><circle cx="562.2" cy="482.4" r="1.42"/><circle cx="568.8" cy="481.5" r="1.42"/><circle cx="563.7" cy="488.2" r="1.42"/><circle cx="565.8" cy="485.2" r="1.42"/><circle cx="566.8" cy="487.2" r="1.42"/><circle cx="567.8" cy="488.2" r="1.42"/><circle cx="569.9" cy="489.3" r="1.42"/><circle cx="570.9" cy="490.3" r="1.42"/><circle cx="572.5" cy="491.3" r="1.42"/><circle cx="566.8" cy="477.4" r="1.42"/><circle cx="567.8" cy="479.1" r="1.42"/><circle cx="570.9" cy="481.1" r="1.42"/><circle cx="572.9" cy="483.5" r="1.42"/><circle cx="573.9" cy="477.4" r="1.42"/><circle cx="577.0" cy="477.4" r="1.42"/><circle cx="577.4" cy="484.2" r="1.42"/><circle cx="580.7" cy="481.1" r="1.42"/><circle cx="581.5" cy="465.2" r="1.42"/><circle cx="583.5" cy="473.9" r="1.42"/><circle cx="584.8" cy="469.9" r="1.42"/><circle cx="584.8" cy="491.7" r="1.42"/><circle cx="588.9" cy="476.0" r="1.42"/><circle cx="589.3" cy="471.9" r="1.42"/><circle cx="589.7" cy="469.9" r="1.42"/><circle cx="590.3" cy="467.8" r="1.42"/><circle cx="590.3" cy="493.4" r="1.42"/><circle cx="591.3" cy="493.8" r="1.42"/><circle cx="593.8" cy="497.0" r="1.42"/><circle cx="595.0" cy="495.8" r="1.42"/><circle cx="596.4" cy="492.3" r="1.42"/><circle cx="597.0" cy="490.9" r="1.42"/><circle cx="598.5" cy="473.3" r="1.42"/><circle cx="602.6" cy="482.5" r="1.42"/><circle cx="606.0" cy="502.6" r="1.42"/><circle cx="607.3" cy="474.6" r="1.42"/><circle cx="608.7" cy="462.7" r="1.42"/><circle cx="609.3" cy="476.0" r="1.42"/><circle cx="610.7" cy="481.5" r="1.42"/><circle cx="616.9" cy="484.8" r="1.42"/><circle cx="619.9" cy="481.5" r="1.42"/><circle cx="620.5" cy="486.2" r="1.42"/><circle cx="623.0" cy="471.9" r="1.42"/><circle cx="623.6" cy="509.7" r="1.42"/><circle cx="630.1" cy="476.0" r="1.42"/><circle cx="633.2" cy="464.7" r="1.42"/><circle cx="647.5" cy="501.1" r="1.42"/><circle cx="660.8" cy="441.9" r="1.42"/></g><rect x="403.90" y="346.30" width="265.70" height="265.80" fill="none" stroke="#3b3b3b" stroke-width="1.70"/><path d="M418.66 612.10V623.30M418.66 346.30V335.10M477.71 612.10V623.30M477.71 346.30V335.10M536.75 612.10V623.30M536.75 346.30V335.10M595.79 612.10V623.30M595.79 346.30V335.10M654.84 612.10V623.30M654.84 346.30V335.10M448.18 612.10V617.90M448.18 346.30V340.50M507.23 612.10V617.90M507.23 346.30V340.50M566.27 612.10V617.90M566.27 346.30V340.50M625.32 612.10V617.90M625.32 346.30V340.50M403.90 612.10H392.70M669.60 612.10H680.80M403.90 545.65H392.70M669.60 545.65H680.80M403.90 479.20H392.70M669.60 479.20H680.80M403.90 412.75H392.70M669.60 412.75H680.80M403.90 346.30H392.70M669.60 346.30H680.80M403.90 578.88H398.10M669.60 578.88H675.40M403.90 512.42H398.10M669.60 512.42H675.40M403.90 445.98H398.10M669.60 445.98H675.40M403.90 379.53H398.10M669.60 379.53H675.40" stroke="#3b3b3b" stroke-width="1.70" fill="none"/><text x="418.66" y="635.20" font-size="13.8" text-anchor="middle">2</text><text x="477.71" y="635.20" font-size="13.8" text-anchor="middle">4</text><text x="536.75" y="635.20" font-size="13.8" text-anchor="middle">6</text><text x="595.79" y="635.20" font-size="13.8" text-anchor="middle">8</text><text x="654.84" y="635.20" font-size="13.8" text-anchor="middle">10</text><text x="389.10" y="617.10" font-size="13.8" text-anchor="end">&#8722;4</text><text x="389.10" y="550.65" font-size="13.8" text-anchor="end">&#8722;2</text><text x="389.10" y="484.20" font-size="13.8" text-anchor="end">0</text><text x="389.10" y="417.75" font-size="13.8" text-anchor="end">2</text><text x="389.10" y="351.30" font-size="13.8" text-anchor="end">4</text><text x="536.75" y="652.70" font-size="14.0" text-anchor="middle">Al<tspan dy="2.5" font-size="10.0">2</tspan><tspan dy="-2.5">&#8203;</tspan>O<tspan dy="2.5" font-size="10.0">3</tspan><tspan dy="-2.5">&#8203;</tspan> [molar%]</text><text transform="translate(366.30 479.20) rotate(-90)" font-size="13.9" text-anchor="middle">Relative impact [ln(*)]</text><text x="413.10" y="368.10" font-size="13.9"><tspan font-weight="bold">(d)</tspan> Al<tspan dy="3.4" font-size="10.0">2</tspan><tspan dy="-3.4">&#8203;</tspan>O<tspan dy="3.4" font-size="10.0">3</tspan><tspan dy="-3.4">&#8203;</tspan></text></g>
<g><line x1="48.30" y1="812.70" x2="314.00" y2="812.70" stroke="#8e8e8e" stroke-width="1.15" stroke-dasharray="2.2 1.85"/><line x1="146.11" y1="679.80" x2="146.11" y2="945.60" stroke="#8e8e8e" stroke-width="1.15" stroke-dasharray="2.2 1.85"/><clipPath id="cpe"><rect x="48.30" y="679.80" width="265.70" height="265.80"/></clipPath><g fill="#2281e6" clip-path="url(#cpe)"><circle cx="48.6" cy="785.0" r="1.42"/><circle cx="48.6" cy="786.5" r="1.42"/><circle cx="48.6" cy="788.0" r="1.42"/><circle cx="48.6" cy="789.5" r="1.42"/><circle cx="48.6" cy="791.0" r="1.42"/><circle cx="48.6" cy="792.5" r="1.42"/><circle cx="48.6" cy="794.0" r="1.42"/><circle cx="48.6" cy="795.5" r="1.42"/><circle cx="48.6" cy="797.0" r="1.42"/><circle cx="48.6" cy="798.5" r="1.42"/><circle cx="48.6" cy="800.0" r="1.42"/><circle cx="48.6" cy="801.5" r="1.42"/><circle cx="48.6" cy="803.0" r="1.42"/><circle cx="53.8" cy="801.1" r="1.42"/><circle cx="62.0" cy="801.1" r="1.42"/><circle cx="67.5" cy="798.8" r="1.42"/><circle cx="68.5" cy="800.4" r="1.42"/><circle cx="69.5" cy="799.4" r="1.42"/><circle cx="68.1" cy="804.5" r="1.42"/><circle cx="68.9" cy="806.6" r="1.42"/><circle cx="70.2" cy="808.6" r="1.42"/><circle cx="70.6" cy="810.7" r="1.42"/><circle cx="68.5" cy="811.7" r="1.42"/><circle cx="67.5" cy="812.7" r="1.42"/><circle cx="69.5" cy="802.5" r="1.42"/><circle cx="77.7" cy="800.4" r="1.42"/><circle cx="78.7" cy="802.5" r="1.42"/><circle cx="79.8" cy="804.5" r="1.42"/><circle cx="80.8" cy="806.6" r="1.42"/><circle cx="82.8" cy="801.5" r="1.42"/><circle cx="83.9" cy="802.5" r="1.42"/><circle cx="84.9" cy="800.4" r="1.42"/><circle cx="86.9" cy="800.4" r="1.42"/><circle cx="85.9" cy="804.5" r="1.42"/><circle cx="87.9" cy="802.5" r="1.42"/><circle cx="89.0" cy="804.1" r="1.42"/><circle cx="86.9" cy="806.6" r="1.42"/><circle cx="84.9" cy="808.6" r="1.42"/><circle cx="81.8" cy="817.8" r="1.42"/><circle cx="85.9" cy="810.7" r="1.42"/><circle cx="86.9" cy="813.7" r="1.42"/><circle cx="87.9" cy="815.8" r="1.42"/><circle cx="85.9" cy="817.8" r="1.42"/><circle cx="86.9" cy="819.9" r="1.42"/><circle cx="87.9" cy="822.9" r="1.42"/><circle cx="89.0" cy="820.9" r="1.42"/><circle cx="90.0" cy="817.8" r="1.42"/><circle cx="91.0" cy="815.8" r="1.42"/><circle cx="92.0" cy="813.7" r="1.42"/><circle cx="93.1" cy="810.7" r="1.42"/><circle cx="94.1" cy="808.6" r="1.42"/><circle cx="95.1" cy="807.6" r="1.42"/><circle cx="96.1" cy="806.6" r="1.42"/><circle cx="93.1" cy="816.8" r="1.42"/><circle cx="95.1" cy="818.8" r="1.42"/><circle cx="97.1" cy="816.8" r="1.42"/><circle cx="98.2" cy="814.7" r="1.42"/><circle cx="99.2" cy="812.7" r="1.42"/><circle cx="100.2" cy="810.7" r="1.42"/><circle cx="101.2" cy="808.6" r="1.42"/><circle cx="102.2" cy="805.5" r="1.42"/><circle cx="103.3" cy="804.5" r="1.42"/><circle cx="104.3" cy="806.6" r="1.42"/><circle cx="105.3" cy="808.6" r="1.42"/><circle cx="107.4" cy="807.6" r="1.42"/><circle cx="109.4" cy="806.6" r="1.42"/><circle cx="107.4" cy="812.7" r="1.42"/><circle cx="108.4" cy="814.7" r="1.42"/><circle cx="109.4" cy="816.8" r="1.42"/><circle cx="110.4" cy="815.8" r="1.42"/><circle cx="111.4" cy="812.7" r="1.42"/><circle cx="112.5" cy="810.7" r="1.42"/><circle cx="113.5" cy="809.6" r="1.42"/><circle cx="114.5" cy="811.7" r="1.42"/><circle cx="115.5" cy="810.7" r="1.42"/><circle cx="116.6" cy="809.6" r="1.42"/><circle cx="117.6" cy="811.7" r="1.42"/><circle cx="118.6" cy="810.7" r="1.42"/><circle cx="119.6" cy="813.7" r="1.42"/><circle cx="120.6" cy="815.8" r="1.42"/><circle cx="116.6" cy="815.8" r="1.42"/><circle cx="115.5" cy="819.9" r="1.42"/><circle cx="116.6" cy="825.0" r="1.42"/><circle cx="110.4" cy="824.6" r="1.42"/><circle cx="108.4" cy="819.9" r="1.42"/><circle cx="103.3" cy="821.9" r="1.42"/><circle cx="102.2" cy="823.9" r="1.42"/><circle cx="105.3" cy="819.9" r="1.42"/><circle cx="124.7" cy="810.7" r="1.42"/><circle cx="127.8" cy="813.7" r="1.42"/><circle cx="129.8" cy="815.8" r="1.42"/><circle cx="130.9" cy="820.9" r="1.42"/><circle cx="131.9" cy="822.9" r="1.42"/><circle cx="132.9" cy="821.9" r="1.42"/><circle cx="138.0" cy="815.8" r="1.42"/><circle cx="139.0" cy="819.9" r="1.42"/><circle cx="140.1" cy="817.8" r="1.42"/><circle cx="141.1" cy="818.8" r="1.42"/><circle cx="142.1" cy="816.8" r="1.42"/><circle cx="143.1" cy="817.8" r="1.42"/><circle cx="144.1" cy="815.8" r="1.42"/><circle cx="145.2" cy="817.8" r="1.42"/><circle cx="146.2" cy="816.8" r="1.42"/><circle cx="147.2" cy="816.4" r="1.42"/><circle cx="148.2" cy="815.8" r="1.42"/><circle cx="149.3" cy="816.8" r="1.42"/><circle cx="150.3" cy="815.8" r="1.42"/><circle cx="151.3" cy="816.4" r="1.42"/><circle cx="152.3" cy="815.2" r="1.42"/><circle cx="154.4" cy="816.8" r="1.42"/><circle cx="155.4" cy="815.8" r="1.42"/><circle cx="156.4" cy="817.8" r="1.42"/><circle cx="157.4" cy="816.8" r="1.42"/><circle cx="158.5" cy="815.2" r="1.42"/><circle cx="160.5" cy="813.7" r="1.42"/><circle cx="161.5" cy="815.8" r="1.42"/><circle cx="162.5" cy="816.8" r="1.42"/><circle cx="164.6" cy="813.7" r="1.42"/><circle cx="166.6" cy="814.7" r="1.42"/><circle cx="167.6" cy="818.8" r="1.42"/><circle cx="168.7" cy="820.9" r="1.42"/><circle cx="169.7" cy="815.8" r="1.42"/><circle cx="170.7" cy="813.7" r="1.42"/><circle cx="171.7" cy="812.7" r="1.42"/><circle cx="172.8" cy="814.7" r="1.42"/><circle cx="173.8" cy="811.7" r="1.42"/><circle cx="174.8" cy="813.7" r="1.42"/><circle cx="175.8" cy="810.7" r="1.42"/><circle cx="176.8" cy="812.7" r="1.42"/><circle cx="177.9" cy="809.6" r="1.42"/><circle cx="178.9" cy="811.7" r="1.42"/><circle cx="179.9" cy="808.6" r="1.42"/><circle cx="180.9" cy="809.6" r="1.42"/><circle cx="182.0" cy="807.6" r="1.42"/><circle cx="183.0" cy="806.6" r="1.42"/><circle cx="176.8" cy="821.9" r="1.42"/><circle cx="177.9" cy="822.9" r="1.42"/><circle cx="179.3" cy="823.9" r="1.42"/><circle cx="91.5" cy="806.3" r="1.42"/><circle cx="98.2" cy="804.8" r="1.42"/><circle cx="95.8" cy="810.2" r="1.42"/><circle cx="86.1" cy="812.8" r="1.42"/><circle cx="85.6" cy="811.5" r="1.42"/><circle cx="93.6" cy="818.7" r="1.42"/><circle cx="87.4" cy="807.6" r="1.42"/><circle cx="97.7" cy="820.9" r="1.42"/><circle cx="96.7" cy="810.8" r="1.42"/><circle cx="102.4" cy="808.8" r="1.42"/><circle cx="91.2" cy="818.5" r="1.42"/><circle cx="88.6" cy="814.2" r="1.42"/><circle cx="97.9" cy="810.4" r="1.42"/><circle cx="96.1" cy="804.7" r="1.42"/><circle cx="98.8" cy="811.4" r="1.42"/><circle cx="91.3" cy="814.3" r="1.42"/><circle cx="94.1" cy="809.0" r="1.42"/><circle cx="101.1" cy="816.4" r="1.42"/><circle cx="89.9" cy="814.1" r="1.42"/><circle cx="95.6" cy="819.6" r="1.42"/><circle cx="99.8" cy="808.8" r="1.42"/><circle cx="93.4" cy="817.4" r="1.42"/><circle cx="88.0" cy="812.5" r="1.42"/><circle cx="85.7" cy="815.8" r="1.42"/><circle cx="100.5" cy="814.0" r="1.42"/><circle cx="102.8" cy="809.3" r="1.42"/><circle cx="99.1" cy="814.4" r="1.42"/><circle cx="96.7" cy="811.9" r="1.42"/><circle cx="94.6" cy="815.7" r="1.42"/><circle cx="86.1" cy="816.4" r="1.42"/><circle cx="101.7" cy="808.7" r="1.42"/><circle cx="92.8" cy="815.8" r="1.42"/><circle cx="85.3" cy="812.0" r="1.42"/><circle cx="87.5" cy="808.1" r="1.42"/><circle cx="92.9" cy="819.5" r="1.42"/><circle cx="86.5" cy="811.8" r="1.42"/><circle cx="96.1" cy="819.8" r="1.42"/><circle cx="101.6" cy="819.4" r="1.42"/><circle cx="90.6" cy="811.1" r="1.42"/><circle cx="92.2" cy="819.8" r="1.42"/><circle cx="152.7" cy="815.4" r="1.42"/><circle cx="138.9" cy="820.1" r="1.42"/><circle cx="175.5" cy="812.6" r="1.42"/><circle cx="149.6" cy="813.9" r="1.42"/><circle cx="140.2" cy="815.8" r="1.42"/><circle cx="139.3" cy="818.5" r="1.42"/><circle cx="154.8" cy="816.0" r="1.42"/><circle cx="172.1" cy="810.1" r="1.42"/><circle cx="145.4" cy="815.5" r="1.42"/><circle cx="139.5" cy="818.2" r="1.42"/><circle cx="146.2" cy="814.4" r="1.42"/><circle cx="177.9" cy="809.3" r="1.42"/><circle cx="181.0" cy="811.4" r="1.42"/><circle cx="167.6" cy="810.5" r="1.42"/><circle cx="144.4" cy="815.2" r="1.42"/><circle cx="171.1" cy="811.1" r="1.42"/><circle cx="150.9" cy="812.8" r="1.42"/><circle cx="153.7" cy="814.1" r="1.42"/><circle cx="140.9" cy="816.0" r="1.42"/><circle cx="151.2" cy="814.7" r="1.42"/><circle cx="160.3" cy="813.6" r="1.42"/><circle cx="176.0" cy="809.0" r="1.42"/><circle cx="142.1" cy="816.0" r="1.42"/><circle cx="147.8" cy="816.2" r="1.42"/><circle cx="159.3" cy="812.6" r="1.42"/><circle cx="142.5" cy="818.1" r="1.42"/><circle cx="166.2" cy="812.7" r="1.42"/><circle cx="170.0" cy="813.1" r="1.42"/><circle cx="139.3" cy="816.0" r="1.42"/><circle cx="159.4" cy="814.4" r="1.42"/><circle cx="129.9" cy="815.8" r="1.42"/><circle cx="127.1" cy="813.6" r="1.42"/><circle cx="135.3" cy="819.9" r="1.42"/><circle cx="129.9" cy="815.6" r="1.42"/><circle cx="123.6" cy="813.9" r="1.42"/><circle cx="124.9" cy="814.5" r="1.42"/><circle cx="126.3" cy="814.3" r="1.42"/><circle cx="136.1" cy="817.3" r="1.42"/><circle cx="174.0" cy="812.7" r="1.42"/><circle cx="175.0" cy="810.7" r="1.42"/><circle cx="176.0" cy="809.6" r="1.42"/><circle cx="177.1" cy="811.7" r="1.42"/><circle cx="178.1" cy="808.6" r="1.42"/><circle cx="179.1" cy="810.7" r="1.42"/><circle cx="180.1" cy="807.6" r="1.42"/><circle cx="181.2" cy="809.6" r="1.42"/><circle cx="182.2" cy="806.6" r="1.42"/><circle cx="183.2" cy="808.6" r="1.42"/><circle cx="184.2" cy="806.6" r="1.42"/><circle cx="185.2" cy="807.6" r="1.42"/><circle cx="186.3" cy="805.5" r="1.42"/><circle cx="189.3" cy="805.5" r="1.42"/><circle cx="186.7" cy="811.7" r="1.42"/><circle cx="177.1" cy="821.9" r="1.42"/><circle cx="178.1" cy="822.9" r="1.42"/><circle cx="179.1" cy="823.9" r="1.42"/><circle cx="187.9" cy="819.9" r="1.42"/><circle cx="188.3" cy="826.6" r="1.42"/><circle cx="193.4" cy="806.2" r="1.42"/><circle cx="194.4" cy="808.6" r="1.42"/><circle cx="195.5" cy="810.7" r="1.42"/><circle cx="196.5" cy="806.6" r="1.42"/><circle cx="198.5" cy="808.6" r="1.42"/><circle cx="200.6" cy="806.2" r="1.42"/><circle cx="201.6" cy="809.6" r="1.42"/><circle cx="202.6" cy="807.6" r="1.42"/><circle cx="202.6" cy="811.7" r="1.42"/><circle cx="203.6" cy="804.5" r="1.42"/><circle cx="204.7" cy="803.5" r="1.42"/><circle cx="205.7" cy="808.6" r="1.42"/><circle cx="203.6" cy="813.7" r="1.42"/><circle cx="204.7" cy="810.7" r="1.42"/><circle cx="204.7" cy="815.8" r="1.42"/><circle cx="205.7" cy="818.8" r="1.42"/><circle cx="206.3" cy="820.9" r="1.42"/><circle cx="206.7" cy="822.9" r="1.42"/><circle cx="207.1" cy="825.0" r="1.42"/><circle cx="207.7" cy="827.0" r="1.42"/><circle cx="206.7" cy="829.1" r="1.42"/><circle cx="207.7" cy="831.1" r="1.42"/><circle cx="208.3" cy="835.6" r="1.42"/><circle cx="208.7" cy="828.0" r="1.42"/><circle cx="205.7" cy="823.9" r="1.42"/><circle cx="204.7" cy="826.0" r="1.42"/><circle cx="202.6" cy="827.0" r="1.42"/><circle cx="200.6" cy="828.0" r="1.42"/><circle cx="198.5" cy="829.1" r="1.42"/><circle cx="197.5" cy="827.0" r="1.42"/><circle cx="195.5" cy="830.1" r="1.42"/><circle cx="194.4" cy="822.9" r="1.42"/><circle cx="196.1" cy="821.9" r="1.42"/><circle cx="201.6" cy="819.9" r="1.42"/><circle cx="199.5" cy="826.0" r="1.42"/><circle cx="218.6" cy="798.0" r="1.42"/><circle cx="217.9" cy="809.6" r="1.42"/><circle cx="217.3" cy="814.7" r="1.42"/><circle cx="218.4" cy="821.9" r="1.42"/><circle cx="221.0" cy="806.6" r="1.42"/><circle cx="222.0" cy="803.5" r="1.42"/><circle cx="223.1" cy="802.5" r="1.42"/><circle cx="224.1" cy="804.5" r="1.42"/><circle cx="223.1" cy="815.8" r="1.42"/><circle cx="224.1" cy="819.9" r="1.42"/><circle cx="223.1" cy="822.9" r="1.42"/><circle cx="225.1" cy="829.1" r="1.42"/><circle cx="224.7" cy="834.2" r="1.42"/><circle cx="227.1" cy="796.4" r="1.42"/><circle cx="230.2" cy="821.9" r="1.42"/><circle cx="231.2" cy="810.7" r="1.42"/><circle cx="232.2" cy="805.5" r="1.42"/><circle cx="233.3" cy="804.5" r="1.42"/><circle cx="234.3" cy="803.5" r="1.42"/><circle cx="235.3" cy="805.5" r="1.42"/><circle cx="236.3" cy="803.5" r="1.42"/><circle cx="237.4" cy="806.6" r="1.42"/><circle cx="238.4" cy="804.5" r="1.42"/><circle cx="239.4" cy="803.5" r="1.42"/><circle cx="240.4" cy="804.1" r="1.42"/><circle cx="241.4" cy="803.5" r="1.42"/><circle cx="232.2" cy="811.7" r="1.42"/><circle cx="234.3" cy="813.7" r="1.42"/><circle cx="235.3" cy="818.8" r="1.42"/><circle cx="236.3" cy="816.8" r="1.42"/><circle cx="236.3" cy="826.0" r="1.42"/><circle cx="237.4" cy="833.1" r="1.42"/><circle cx="239.4" cy="835.6" r="1.42"/><circle cx="240.4" cy="835.2" r="1.42"/><circle cx="232.9" cy="840.3" r="1.42"/><circle cx="242.5" cy="817.8" r="1.42"/><circle cx="242.5" cy="823.9" r="1.42"/><circle cx="243.5" cy="821.9" r="1.42"/><circle cx="244.5" cy="819.9" r="1.42"/><circle cx="245.5" cy="825.0" r="1.42"/><circle cx="244.5" cy="827.0" r="1.42"/><circle cx="245.5" cy="814.7" r="1.42"/><circle cx="245.9" cy="809.6" r="1.42"/><circle cx="246.6" cy="805.5" r="1.42"/><circle cx="245.1" cy="806.6" r="1.42"/><circle cx="247.6" cy="820.5" r="1.42"/><circle cx="250.0" cy="802.1" r="1.42"/><circle cx="251.7" cy="802.9" r="1.42"/><circle cx="253.3" cy="802.9" r="1.42"/><circle cx="253.3" cy="834.8" r="1.42"/><circle cx="257.8" cy="824.6" r="1.42"/><circle cx="259.4" cy="804.9" r="1.42"/><circle cx="260.9" cy="802.5" r="1.42"/><circle cx="261.9" cy="807.6" r="1.42"/><circle cx="261.3" cy="811.7" r="1.42"/><circle cx="261.9" cy="833.1" r="1.42"/><circle cx="262.9" cy="823.9" r="1.42"/><circle cx="263.5" cy="827.0" r="1.42"/><circle cx="261.9" cy="846.4" r="1.42"/><circle cx="263.9" cy="845.4" r="1.42"/><circle cx="267.0" cy="845.4" r="1.42"/><circle cx="270.1" cy="845.0" r="1.42"/><circle cx="267.0" cy="850.5" r="1.42"/><circle cx="273.1" cy="823.9" r="1.42"/><circle cx="273.1" cy="840.9" r="1.42"/><circle cx="275.8" cy="836.2" r="1.42"/><circle cx="275.8" cy="848.5" r="1.42"/><circle cx="278.6" cy="842.3" r="1.42"/><circle cx="278.6" cy="802.5" r="1.42"/><circle cx="280.3" cy="851.5" r="1.42"/><circle cx="281.9" cy="833.1" r="1.42"/><circle cx="282.7" cy="834.8" r="1.42"/><circle cx="284.0" cy="794.3" r="1.42"/><circle cx="285.0" cy="846.4" r="1.42"/><circle cx="286.4" cy="827.4" r="1.42"/><circle cx="297.0" cy="849.1" r="1.42"/><circle cx="301.7" cy="841.9" r="1.42"/><circle cx="200.6" cy="821.8" r="1.42"/><circle cx="200.2" cy="810.6" r="1.42"/><circle cx="204.8" cy="815.8" r="1.42"/><circle cx="203.3" cy="816.7" r="1.42"/><circle cx="201.1" cy="824.9" r="1.42"/><circle cx="200.3" cy="810.3" r="1.42"/><circle cx="202.9" cy="826.6" r="1.42"/><circle cx="202.6" cy="807.3" r="1.42"/><circle cx="200.1" cy="819.7" r="1.42"/><circle cx="202.6" cy="820.7" r="1.42"/><circle cx="202.3" cy="821.5" r="1.42"/><circle cx="203.6" cy="820.5" r="1.42"/><circle cx="206.9" cy="818.8" r="1.42"/><circle cx="207.3" cy="816.5" r="1.42"/><circle cx="204.3" cy="822.4" r="1.42"/><circle cx="206.7" cy="811.5" r="1.42"/><circle cx="202.5" cy="826.1" r="1.42"/><circle cx="200.7" cy="823.3" r="1.42"/><circle cx="200.3" cy="821.5" r="1.42"/><circle cx="205.3" cy="827.8" r="1.42"/></g><rect x="48.30" y="679.80" width="265.70" height="265.80" fill="none" stroke="#3b3b3b" stroke-width="1.70"/><path d="M48.30 945.60V956.80M48.30 679.80V668.60M114.72 945.60V956.80M114.72 679.80V668.60M181.15 945.60V956.80M181.15 679.80V668.60M247.57 945.60V956.80M247.57 679.80V668.60M314.00 945.60V956.80M314.00 679.80V668.60M81.51 945.60V951.40M81.51 679.80V674.00M147.94 945.60V951.40M147.94 679.80V674.00M214.36 945.60V951.40M214.36 679.80V674.00M280.79 945.60V951.40M280.79 679.80V674.00M48.30 945.60H37.10M314.00 945.60H325.20M48.30 879.15H37.10M314.00 879.15H325.20M48.30 812.70H37.10M314.00 812.70H325.20M48.30 746.25H37.10M314.00 746.25H325.20M48.30 679.80H37.10M314.00 679.80H325.20M48.30 912.38H42.50M314.00 912.38H319.80M48.30 845.92H42.50M314.00 845.92H319.80M48.30 779.47H42.50M314.00 779.47H319.80M48.30 713.02H42.50M314.00 713.02H319.80" stroke="#3b3b3b" stroke-width="1.70" fill="none"/><text x="48.30" y="968.70" font-size="13.8" text-anchor="middle">0</text><text x="114.72" y="968.70" font-size="13.8" text-anchor="middle">4</text><text x="181.15" y="968.70" font-size="13.8" text-anchor="middle">8</text><text x="247.57" y="968.70" font-size="13.8" text-anchor="middle">12</text><text x="314.00" y="968.70" font-size="13.8" text-anchor="middle">16</text><text x="33.50" y="950.60" font-size="13.8" text-anchor="end">&#8722;4</text><text x="33.50" y="884.15" font-size="13.8" text-anchor="end">&#8722;2</text><text x="33.50" y="817.70" font-size="13.8" text-anchor="end">0</text><text x="33.50" y="751.25" font-size="13.8" text-anchor="end">2</text><text x="33.50" y="684.80" font-size="13.8" text-anchor="end">4</text><text x="181.15" y="986.20" font-size="14.0" text-anchor="middle">CaO [molar%]</text><text transform="translate(10.70 812.70) rotate(-90)" font-size="13.9" text-anchor="middle">Relative impact [ln(*)]</text><text x="57.00" y="701.60" font-size="13.9"><tspan font-weight="bold">(e)</tspan> CaO</text></g>
<g><line x1="403.90" y1="812.70" x2="669.60" y2="812.70" stroke="#8e8e8e" stroke-width="1.15" stroke-dasharray="2.2 1.85"/><line x1="513.90" y1="679.80" x2="513.90" y2="945.60" stroke="#8e8e8e" stroke-width="1.15" stroke-dasharray="2.2 1.85"/><clipPath id="cpf"><rect x="403.90" y="679.80" width="265.70" height="265.80"/></clipPath><g fill="#2281e6" clip-path="url(#cpf)"><circle cx="410.1" cy="813.6" r="1.42"/><circle cx="411.2" cy="814.6" r="1.42"/><circle cx="413.2" cy="811.6" r="1.42"/><circle cx="414.2" cy="810.5" r="1.42"/><circle cx="415.2" cy="815.7" r="1.42"/><circle cx="416.3" cy="812.6" r="1.42"/><circle cx="417.3" cy="810.5" r="1.42"/><circle cx="418.3" cy="817.7" r="1.42"/><circle cx="419.3" cy="819.7" r="1.42"/><circle cx="420.4" cy="813.6" r="1.42"/><circle cx="421.4" cy="809.5" r="1.42"/><circle cx="422.4" cy="815.7" r="1.42"/><circle cx="423.4" cy="814.6" r="1.42"/><circle cx="424.4" cy="816.7" r="1.42"/><circle cx="425.5" cy="814.6" r="1.42"/><circle cx="426.5" cy="812.6" r="1.42"/><circle cx="427.5" cy="809.5" r="1.42"/><circle cx="428.5" cy="811.6" r="1.42"/><circle cx="429.5" cy="803.4" r="1.42"/><circle cx="430.2" cy="805.4" r="1.42"/><circle cx="430.6" cy="810.5" r="1.42"/><circle cx="431.6" cy="813.6" r="1.42"/><circle cx="432.6" cy="810.5" r="1.42"/><circle cx="433.6" cy="811.6" r="1.42"/><circle cx="434.7" cy="817.7" r="1.42"/><circle cx="435.7" cy="812.6" r="1.42"/><circle cx="436.7" cy="813.6" r="1.42"/><circle cx="437.7" cy="811.6" r="1.42"/><circle cx="438.7" cy="806.5" r="1.42"/><circle cx="439.8" cy="805.4" r="1.42"/><circle cx="440.8" cy="814.6" r="1.42"/><circle cx="439.8" cy="821.4" r="1.42"/><circle cx="441.8" cy="815.7" r="1.42"/><circle cx="442.8" cy="813.6" r="1.42"/><circle cx="444.9" cy="815.7" r="1.42"/><circle cx="445.9" cy="805.4" r="1.42"/><circle cx="446.9" cy="807.5" r="1.42"/><circle cx="447.3" cy="813.6" r="1.42"/><circle cx="447.9" cy="817.7" r="1.42"/><circle cx="449.0" cy="804.4" r="1.42"/><circle cx="449.0" cy="815.7" r="1.42"/><circle cx="450.0" cy="813.6" r="1.42"/><circle cx="451.0" cy="815.7" r="1.42"/><circle cx="452.6" cy="813.6" r="1.42"/><circle cx="413.2" cy="826.9" r="1.42"/><circle cx="414.2" cy="824.9" r="1.42"/><circle cx="415.2" cy="823.8" r="1.42"/><circle cx="417.3" cy="820.8" r="1.42"/><circle cx="418.3" cy="819.3" r="1.42"/><circle cx="423.4" cy="822.8" r="1.42"/><circle cx="425.5" cy="818.7" r="1.42"/><circle cx="426.5" cy="821.8" r="1.42"/><circle cx="427.5" cy="826.9" r="1.42"/><circle cx="428.5" cy="821.8" r="1.42"/><circle cx="416.3" cy="816.7" r="1.42"/><circle cx="421.4" cy="811.6" r="1.42"/><circle cx="412.2" cy="811.6" r="1.42"/><circle cx="454.1" cy="796.2" r="1.42"/><circle cx="455.5" cy="797.3" r="1.42"/><circle cx="457.1" cy="798.3" r="1.42"/><circle cx="458.8" cy="799.3" r="1.42"/><circle cx="459.6" cy="799.7" r="1.42"/><circle cx="471.0" cy="799.7" r="1.42"/><circle cx="472.5" cy="799.7" r="1.42"/><circle cx="461.2" cy="818.7" r="1.42"/><circle cx="473.5" cy="814.6" r="1.42"/><circle cx="482.7" cy="811.6" r="1.42"/><circle cx="485.8" cy="803.4" r="1.42"/><circle cx="486.8" cy="802.4" r="1.42"/><circle cx="526.6" cy="813.6" r="1.42"/><circle cx="528.7" cy="815.7" r="1.42"/><circle cx="529.7" cy="818.7" r="1.42"/><circle cx="530.7" cy="820.2" r="1.42"/><circle cx="531.7" cy="820.8" r="1.42"/><circle cx="532.8" cy="819.7" r="1.42"/><circle cx="533.8" cy="816.7" r="1.42"/><circle cx="536.8" cy="812.6" r="1.42"/><circle cx="538.9" cy="814.6" r="1.42"/><circle cx="540.9" cy="815.7" r="1.42"/><circle cx="543.0" cy="817.7" r="1.42"/><circle cx="474.5" cy="806.8" r="1.42"/><circle cx="461.4" cy="807.9" r="1.42"/><circle cx="477.1" cy="808.9" r="1.42"/><circle cx="462.4" cy="806.8" r="1.42"/><circle cx="481.4" cy="807.5" r="1.42"/><circle cx="482.0" cy="804.8" r="1.42"/><circle cx="468.0" cy="804.4" r="1.42"/><circle cx="475.7" cy="811.7" r="1.42"/><circle cx="478.1" cy="810.4" r="1.42"/><circle cx="472.2" cy="810.1" r="1.42"/><circle cx="464.1" cy="806.0" r="1.42"/><circle cx="480.5" cy="809.9" r="1.42"/><circle cx="473.3" cy="804.2" r="1.42"/><circle cx="468.9" cy="805.3" r="1.42"/><circle cx="469.3" cy="810.7" r="1.42"/><circle cx="466.9" cy="811.4" r="1.42"/><circle cx="472.1" cy="807.8" r="1.42"/><circle cx="461.9" cy="807.2" r="1.42"/><circle cx="478.3" cy="804.5" r="1.42"/><circle cx="477.8" cy="811.4" r="1.42"/><circle cx="463.6" cy="808.2" r="1.42"/><circle cx="475.4" cy="811.7" r="1.42"/><circle cx="473.2" cy="807.0" r="1.42"/><circle cx="479.5" cy="804.2" r="1.42"/><circle cx="477.8" cy="804.9" r="1.42"/><circle cx="478.6" cy="812.0" r="1.42"/><circle cx="462.8" cy="808.4" r="1.42"/><circle cx="478.6" cy="804.7" r="1.42"/><circle cx="481.4" cy="811.9" r="1.42"/><circle cx="468.0" cy="808.9" r="1.42"/><circle cx="462.5" cy="806.7" r="1.42"/><circle cx="480.5" cy="808.7" r="1.42"/><circle cx="483.4" cy="804.2" r="1.42"/><circle cx="471.2" cy="811.2" r="1.42"/><circle cx="477.9" cy="807.5" r="1.42"/><circle cx="472.7" cy="812.3" r="1.42"/><circle cx="477.7" cy="803.6" r="1.42"/><circle cx="484.1" cy="806.4" r="1.42"/><circle cx="473.6" cy="805.3" r="1.42"/><circle cx="473.9" cy="806.3" r="1.42"/><circle cx="463.8" cy="809.1" r="1.42"/><circle cx="464.2" cy="810.4" r="1.42"/><circle cx="484.3" cy="807.9" r="1.42"/><circle cx="481.5" cy="805.6" r="1.42"/><circle cx="482.3" cy="807.2" r="1.42"/><circle cx="472.7" cy="806.7" r="1.42"/><circle cx="485.8" cy="806.7" r="1.42"/><circle cx="480.3" cy="804.9" r="1.42"/><circle cx="485.4" cy="805.7" r="1.42"/><circle cx="489.4" cy="808.8" r="1.42"/><circle cx="467.2" cy="806.9" r="1.42"/><circle cx="478.7" cy="812.1" r="1.42"/><circle cx="471.4" cy="804.7" r="1.42"/><circle cx="477.3" cy="804.6" r="1.42"/><circle cx="463.7" cy="808.4" r="1.42"/><circle cx="481.1" cy="804.0" r="1.42"/><circle cx="474.1" cy="809.7" r="1.42"/><circle cx="483.1" cy="806.8" r="1.42"/><circle cx="481.7" cy="810.3" r="1.42"/><circle cx="486.4" cy="807.8" r="1.42"/><circle cx="476.4" cy="805.0" r="1.42"/><circle cx="479.2" cy="804.2" r="1.42"/><circle cx="483.5" cy="805.4" r="1.42"/><circle cx="474.3" cy="808.4" r="1.42"/><circle cx="472.3" cy="805.0" r="1.42"/><circle cx="503.9" cy="808.5" r="1.42"/><circle cx="504.3" cy="807.4" r="1.42"/><circle cx="509.5" cy="811.4" r="1.42"/><circle cx="506.1" cy="807.5" r="1.42"/><circle cx="502.7" cy="807.8" r="1.42"/><circle cx="495.6" cy="809.7" r="1.42"/><circle cx="514.6" cy="808.3" r="1.42"/><circle cx="510.9" cy="810.5" r="1.42"/><circle cx="499.4" cy="807.0" r="1.42"/><circle cx="506.4" cy="809.0" r="1.42"/><circle cx="506.5" cy="810.0" r="1.42"/><circle cx="492.9" cy="808.3" r="1.42"/><circle cx="513.6" cy="812.7" r="1.42"/><circle cx="505.2" cy="806.8" r="1.42"/><circle cx="490.2" cy="804.7" r="1.42"/><circle cx="513.1" cy="809.4" r="1.42"/><circle cx="498.5" cy="809.9" r="1.42"/><circle cx="497.5" cy="808.0" r="1.42"/><circle cx="500.9" cy="806.1" r="1.42"/><circle cx="503.9" cy="810.5" r="1.42"/><circle cx="493.9" cy="805.8" r="1.42"/><circle cx="500.3" cy="805.9" r="1.42"/><circle cx="501.8" cy="810.0" r="1.42"/><circle cx="505.9" cy="809.3" r="1.42"/><circle cx="511.1" cy="808.3" r="1.42"/><circle cx="503.9" cy="808.2" r="1.42"/><circle cx="504.9" cy="807.0" r="1.42"/><circle cx="509.2" cy="807.7" r="1.42"/><circle cx="493.7" cy="808.6" r="1.42"/><circle cx="513.1" cy="810.0" r="1.42"/><circle cx="500.2" cy="806.9" r="1.42"/><circle cx="496.5" cy="808.2" r="1.42"/><circle cx="494.5" cy="805.3" r="1.42"/><circle cx="501.3" cy="806.7" r="1.42"/><circle cx="505.5" cy="810.7" r="1.42"/><circle cx="508.9" cy="809.5" r="1.42"/><circle cx="498.4" cy="807.6" r="1.42"/><circle cx="489.8" cy="807.5" r="1.42"/><circle cx="498.1" cy="806.9" r="1.42"/><circle cx="491.8" cy="806.5" r="1.42"/><circle cx="504.2" cy="808.3" r="1.42"/><circle cx="511.0" cy="810.9" r="1.42"/><circle cx="495.7" cy="807.6" r="1.42"/><circle cx="512.2" cy="810.3" r="1.42"/><circle cx="505.0" cy="806.8" r="1.42"/><circle cx="501.9" cy="808.3" r="1.42"/><circle cx="499.7" cy="807.7" r="1.42"/><circle cx="504.2" cy="809.0" r="1.42"/><circle cx="502.1" cy="806.8" r="1.42"/><circle cx="500.3" cy="810.5" r="1.42"/><circle cx="526.4" cy="809.5" r="1.42"/><circle cx="514.4" cy="810.7" r="1.42"/><circle cx="515.9" cy="809.0" r="1.42"/><circle cx="517.5" cy="810.6" r="1.42"/><circle cx="542.8" cy="812.5" r="1.42"/><circle cx="527.5" cy="811.2" r="1.42"/><circle cx="528.7" cy="811.4" r="1.42"/><circle cx="535.0" cy="813.7" r="1.42"/><circle cx="534.4" cy="811.7" r="1.42"/><circle cx="532.8" cy="813.5" r="1.42"/><circle cx="518.8" cy="809.8" r="1.42"/><circle cx="532.0" cy="812.6" r="1.42"/><circle cx="532.7" cy="812.2" r="1.42"/><circle cx="538.1" cy="812.2" r="1.42"/><circle cx="537.3" cy="814.1" r="1.42"/><circle cx="526.7" cy="812.9" r="1.42"/><circle cx="534.8" cy="813.6" r="1.42"/><circle cx="515.6" cy="812.3" r="1.42"/><circle cx="536.2" cy="814.0" r="1.42"/><circle cx="542.5" cy="811.7" r="1.42"/><circle cx="533.6" cy="810.5" r="1.42"/><circle cx="531.3" cy="813.5" r="1.42"/><circle cx="519.9" cy="810.3" r="1.42"/><circle cx="516.7" cy="809.5" r="1.42"/><circle cx="520.4" cy="809.3" r="1.42"/><circle cx="542.9" cy="814.2" r="1.42"/><circle cx="527.6" cy="812.5" r="1.42"/><circle cx="534.3" cy="812.1" r="1.42"/><circle cx="526.4" cy="812.1" r="1.42"/><circle cx="530.3" cy="810.7" r="1.42"/><circle cx="524.8" cy="811.8" r="1.42"/><circle cx="532.4" cy="810.6" r="1.42"/><circle cx="531.7" cy="813.3" r="1.42"/><circle cx="539.3" cy="812.9" r="1.42"/><circle cx="516.4" cy="810.4" r="1.42"/><circle cx="517.0" cy="808.9" r="1.42"/><circle cx="521.7" cy="810.9" r="1.42"/><circle cx="536.1" cy="812.6" r="1.42"/><circle cx="522.4" cy="811.9" r="1.42"/><circle cx="528.9" cy="811.6" r="1.42"/><circle cx="457.8" cy="810.0" r="1.42"/><circle cx="458.7" cy="811.1" r="1.42"/><circle cx="460.0" cy="809.8" r="1.42"/><circle cx="460.0" cy="810.0" r="1.42"/><circle cx="462.2" cy="810.7" r="1.42"/><circle cx="463.2" cy="809.3" r="1.42"/><circle cx="463.4" cy="811.6" r="1.42"/><circle cx="465.3" cy="810.4" r="1.42"/><circle cx="455.9" cy="811.9" r="1.42"/><circle cx="463.4" cy="807.7" r="1.42"/><circle cx="458.4" cy="809.5" r="1.42"/><circle cx="462.7" cy="810.2" r="1.42"/><circle cx="553.2" cy="815.3" r="1.42"/><circle cx="562.8" cy="812.8" r="1.42"/><circle cx="530.6" cy="812.2" r="1.42"/><circle cx="543.3" cy="815.7" r="1.42"/><circle cx="563.8" cy="815.7" r="1.42"/><circle cx="557.3" cy="815.6" r="1.42"/><circle cx="537.2" cy="813.0" r="1.42"/><circle cx="537.8" cy="815.9" r="1.42"/><circle cx="532.8" cy="815.1" r="1.42"/><circle cx="533.6" cy="814.3" r="1.42"/><circle cx="546.6" cy="813.4" r="1.42"/><circle cx="571.5" cy="812.6" r="1.42"/><circle cx="532.8" cy="815.6" r="1.42"/><circle cx="555.1" cy="812.0" r="1.42"/><circle cx="578.2" cy="818.7" r="1.42"/><circle cx="535.5" cy="812.8" r="1.42"/><circle cx="536.7" cy="812.2" r="1.42"/><circle cx="560.6" cy="812.8" r="1.42"/><circle cx="564.4" cy="812.3" r="1.42"/><circle cx="538.3" cy="815.4" r="1.42"/><circle cx="549.7" cy="813.7" r="1.42"/><circle cx="559.2" cy="814.6" r="1.42"/><circle cx="549.0" cy="811.2" r="1.42"/><circle cx="565.4" cy="818.0" r="1.42"/><circle cx="577.8" cy="816.9" r="1.42"/><circle cx="547.5" cy="813.2" r="1.42"/><circle cx="563.8" cy="816.1" r="1.42"/><circle cx="535.7" cy="811.6" r="1.42"/><circle cx="547.8" cy="814.1" r="1.42"/><circle cx="569.7" cy="815.4" r="1.42"/><circle cx="531.3" cy="815.0" r="1.42"/><circle cx="551.1" cy="814.4" r="1.42"/><circle cx="540.9" cy="813.2" r="1.42"/><circle cx="548.9" cy="815.8" r="1.42"/><circle cx="535.0" cy="813.5" r="1.42"/><circle cx="538.7" cy="814.7" r="1.42"/><circle cx="531.9" cy="811.7" r="1.42"/><circle cx="546.8" cy="814.8" r="1.42"/><circle cx="532.6" cy="812.8" r="1.42"/><circle cx="540.3" cy="812.2" r="1.42"/><circle cx="553.2" cy="817.2" r="1.42"/><circle cx="553.4" cy="817.2" r="1.42"/><circle cx="538.1" cy="816.0" r="1.42"/><circle cx="548.0" cy="812.1" r="1.42"/><circle cx="566.6" cy="817.7" r="1.42"/><circle cx="530.4" cy="811.5" r="1.42"/><circle cx="567.9" cy="814.3" r="1.42"/><circle cx="542.0" cy="810.7" r="1.42"/><circle cx="531.9" cy="813.8" r="1.42"/><circle cx="578.1" cy="819.0" r="1.42"/><circle cx="553.5" cy="825.2" r="1.42"/><circle cx="554.5" cy="826.8" r="1.42"/><circle cx="555.5" cy="827.2" r="1.42"/><circle cx="556.6" cy="826.2" r="1.42"/><circle cx="557.6" cy="827.2" r="1.42"/><circle cx="570.9" cy="823.1" r="1.42"/><circle cx="571.9" cy="824.2" r="1.42"/><circle cx="576.6" cy="824.2" r="1.42"/><circle cx="577.4" cy="828.2" r="1.42"/><circle cx="579.1" cy="808.4" r="1.42"/><circle cx="580.1" cy="823.1" r="1.42"/><circle cx="581.1" cy="822.1" r="1.42"/><circle cx="582.1" cy="821.1" r="1.42"/><circle cx="583.5" cy="832.9" r="1.42"/><circle cx="584.2" cy="817.0" r="1.42"/><circle cx="585.2" cy="817.4" r="1.42"/><circle cx="586.2" cy="824.2" r="1.42"/><circle cx="590.9" cy="810.3" r="1.42"/><circle cx="593.4" cy="823.5" r="1.42"/><circle cx="593.8" cy="832.3" r="1.42"/><circle cx="594.4" cy="817.0" r="1.42"/><circle cx="595.0" cy="814.6" r="1.42"/><circle cx="597.4" cy="816.6" r="1.42"/><circle cx="598.5" cy="817.4" r="1.42"/><circle cx="599.5" cy="818.0" r="1.42"/><circle cx="600.5" cy="817.4" r="1.42"/><circle cx="606.6" cy="819.1" r="1.42"/><circle cx="607.3" cy="823.1" r="1.42"/><circle cx="608.1" cy="814.6" r="1.42"/><circle cx="610.7" cy="807.8" r="1.42"/><circle cx="614.8" cy="817.4" r="1.42"/><circle cx="615.4" cy="819.1" r="1.42"/><circle cx="615.8" cy="820.1" r="1.42"/><circle cx="615.4" cy="828.7" r="1.42"/><circle cx="616.9" cy="817.4" r="1.42"/><circle cx="617.5" cy="824.8" r="1.42"/><circle cx="617.9" cy="806.8" r="1.42"/><circle cx="619.9" cy="818.0" r="1.42"/><circle cx="620.3" cy="822.1" r="1.42"/><circle cx="621.6" cy="829.7" r="1.42"/><circle cx="624.0" cy="811.5" r="1.42"/><circle cx="632.6" cy="837.0" r="1.42"/><circle cx="634.6" cy="820.1" r="1.42"/><circle cx="635.3" cy="808.4" r="1.42"/><circle cx="664.9" cy="778.2" r="1.42"/></g><rect x="403.90" y="679.80" width="265.70" height="265.80" fill="none" stroke="#3b3b3b" stroke-width="1.70"/><path d="M430.47 945.60V956.80M430.47 679.80V668.60M483.61 945.60V956.80M483.61 679.80V668.60M536.75 945.60V956.80M536.75 679.80V668.60M589.89 945.60V956.80M589.89 679.80V668.60M643.03 945.60V956.80M643.03 679.80V668.60M403.90 945.60V951.40M403.90 679.80V674.00M457.04 945.60V951.40M457.04 679.80V674.00M510.18 945.60V951.40M510.18 679.80V674.00M563.32 945.60V951.40M563.32 679.80V674.00M616.46 945.60V951.40M616.46 679.80V674.00M669.60 945.60V951.40M669.60 679.80V674.00M403.90 945.60H392.70M669.60 945.60H680.80M403.90 879.15H392.70M669.60 879.15H680.80M403.90 812.70H392.70M669.60 812.70H680.80M403.90 746.25H392.70M669.60 746.25H680.80M403.90 679.80H392.70M669.60 679.80H680.80M403.90 912.38H398.10M669.60 912.38H675.40M403.90 845.92H398.10M669.60 845.92H675.40M403.90 779.47H398.10M669.60 779.47H675.40M403.90 713.02H398.10M669.60 713.02H675.40" stroke="#3b3b3b" stroke-width="1.70" fill="none"/><text x="430.47" y="968.70" font-size="13.8" text-anchor="middle">6</text><text x="483.61" y="968.70" font-size="13.8" text-anchor="middle">8</text><text x="536.75" y="968.70" font-size="13.8" text-anchor="middle">10</text><text x="589.89" y="968.70" font-size="13.8" text-anchor="middle">12</text><text x="643.03" y="968.70" font-size="13.8" text-anchor="middle">14</text><text x="389.10" y="950.60" font-size="13.8" text-anchor="end">&#8722;4</text><text x="389.10" y="884.15" font-size="13.8" text-anchor="end">&#8722;2</text><text x="389.10" y="817.70" font-size="13.8" text-anchor="end">0</text><text x="389.10" y="751.25" font-size="13.8" text-anchor="end">2</text><text x="389.10" y="684.80" font-size="13.8" text-anchor="end">4</text><text x="536.75" y="986.20" font-size="14.0" text-anchor="middle">B<tspan dy="2.5" font-size="10.0">2</tspan><tspan dy="-2.5">&#8203;</tspan>O<tspan dy="2.5" font-size="10.0">3</tspan><tspan dy="-2.5">&#8203;</tspan> [molar%]</text><text transform="translate(366.30 812.70) rotate(-90)" font-size="13.9" text-anchor="middle">Relative impact [ln(*)]</text><text x="413.10" y="701.60" font-size="13.9"><tspan font-weight="bold">(f)</tspan> B<tspan dy="3.4" font-size="10.0">2</tspan><tspan dy="-3.4">&#8203;</tspan>O<tspan dy="3.4" font-size="10.0">3</tspan><tspan dy="-3.4">&#8203;</tspan></text></g>
<g><line x1="48.30" y1="1146.20" x2="314.00" y2="1146.20" stroke="#8e8e8e" stroke-width="1.15" stroke-dasharray="2.2 1.85"/><line x1="190.45" y1="1013.30" x2="190.45" y2="1279.10" stroke="#8e8e8e" stroke-width="1.15" stroke-dasharray="2.2 1.85"/><clipPath id="cpg"><rect x="48.30" y="1013.30" width="265.70" height="265.80"/></clipPath><g fill="#2281e6" clip-path="url(#cpg)"><circle cx="56.6" cy="1119.2" r="1.42"/><circle cx="62.3" cy="1115.5" r="1.42"/><circle cx="70.1" cy="1113.1" r="1.42"/><circle cx="74.2" cy="1114.1" r="1.42"/><circle cx="76.2" cy="1106.4" r="1.42"/><circle cx="79.1" cy="1111.5" r="1.42"/><circle cx="75.6" cy="1120.7" r="1.42"/><circle cx="80.7" cy="1122.1" r="1.42"/><circle cx="87.9" cy="1103.3" r="1.42"/><circle cx="87.9" cy="1114.1" r="1.42"/><circle cx="89.9" cy="1114.1" r="1.42"/><circle cx="96.0" cy="1114.1" r="1.42"/><circle cx="97.5" cy="1116.2" r="1.42"/><circle cx="98.7" cy="1117.0" r="1.42"/><circle cx="104.2" cy="1110.8" r="1.42"/><circle cx="113.0" cy="1107.8" r="1.42"/><circle cx="120.6" cy="1111.5" r="1.42"/><circle cx="102.8" cy="1119.6" r="1.42"/><circle cx="103.6" cy="1120.7" r="1.42"/><circle cx="104.8" cy="1121.7" r="1.42"/><circle cx="106.2" cy="1122.7" r="1.42"/><circle cx="107.3" cy="1122.3" r="1.42"/><circle cx="104.2" cy="1128.8" r="1.42"/><circle cx="105.6" cy="1133.3" r="1.42"/><circle cx="107.3" cy="1128.8" r="1.42"/><circle cx="110.9" cy="1118.6" r="1.42"/><circle cx="111.4" cy="1125.8" r="1.42"/><circle cx="112.4" cy="1127.8" r="1.42"/><circle cx="113.4" cy="1124.7" r="1.42"/><circle cx="114.4" cy="1123.7" r="1.42"/><circle cx="115.4" cy="1122.7" r="1.42"/><circle cx="116.5" cy="1125.8" r="1.42"/><circle cx="117.5" cy="1126.8" r="1.42"/><circle cx="118.5" cy="1124.7" r="1.42"/><circle cx="119.5" cy="1122.7" r="1.42"/><circle cx="120.6" cy="1120.7" r="1.42"/><circle cx="121.6" cy="1121.7" r="1.42"/><circle cx="122.6" cy="1127.8" r="1.42"/><circle cx="123.6" cy="1129.9" r="1.42"/><circle cx="124.6" cy="1131.9" r="1.42"/><circle cx="125.7" cy="1125.8" r="1.42"/><circle cx="126.7" cy="1126.4" r="1.42"/><circle cx="114.4" cy="1135.4" r="1.42"/><circle cx="115.9" cy="1135.4" r="1.42"/><circle cx="117.5" cy="1142.1" r="1.42"/><circle cx="128.1" cy="1139.1" r="1.42"/><circle cx="129.3" cy="1139.1" r="1.42"/><circle cx="129.8" cy="1120.7" r="1.42"/><circle cx="130.8" cy="1130.9" r="1.42"/><circle cx="131.8" cy="1132.9" r="1.42"/><circle cx="132.8" cy="1123.7" r="1.42"/><circle cx="133.8" cy="1136.0" r="1.42"/><circle cx="134.9" cy="1137.0" r="1.42"/><circle cx="135.9" cy="1125.8" r="1.42"/><circle cx="136.9" cy="1133.9" r="1.42"/><circle cx="137.9" cy="1132.9" r="1.42"/><circle cx="138.9" cy="1129.9" r="1.42"/><circle cx="140.0" cy="1133.9" r="1.42"/><circle cx="141.0" cy="1139.1" r="1.42"/><circle cx="142.0" cy="1126.8" r="1.42"/><circle cx="143.0" cy="1132.9" r="1.42"/><circle cx="144.1" cy="1136.0" r="1.42"/><circle cx="145.1" cy="1125.8" r="1.42"/><circle cx="146.1" cy="1126.8" r="1.42"/><circle cx="147.1" cy="1127.8" r="1.42"/><circle cx="148.1" cy="1135.0" r="1.42"/><circle cx="149.2" cy="1137.0" r="1.42"/><circle cx="150.2" cy="1130.9" r="1.42"/><circle cx="151.2" cy="1139.1" r="1.42"/><circle cx="152.2" cy="1129.9" r="1.42"/><circle cx="153.3" cy="1130.9" r="1.42"/><circle cx="154.3" cy="1131.9" r="1.42"/><circle cx="155.3" cy="1137.0" r="1.42"/><circle cx="156.3" cy="1139.1" r="1.42"/><circle cx="157.3" cy="1136.0" r="1.42"/><circle cx="158.4" cy="1133.9" r="1.42"/><circle cx="159.4" cy="1132.9" r="1.42"/><circle cx="160.4" cy="1137.0" r="1.42"/><circle cx="161.4" cy="1140.1" r="1.42"/><circle cx="162.5" cy="1139.1" r="1.42"/><circle cx="163.5" cy="1138.0" r="1.42"/><circle cx="164.5" cy="1136.0" r="1.42"/><circle cx="165.5" cy="1140.1" r="1.42"/><circle cx="166.5" cy="1139.1" r="1.42"/><circle cx="167.6" cy="1141.1" r="1.42"/><circle cx="168.6" cy="1139.1" r="1.42"/><circle cx="169.6" cy="1140.1" r="1.42"/><circle cx="170.6" cy="1142.1" r="1.42"/><circle cx="171.6" cy="1141.1" r="1.42"/><circle cx="172.7" cy="1143.1" r="1.42"/><circle cx="173.7" cy="1144.2" r="1.42"/><circle cx="174.7" cy="1145.2" r="1.42"/><circle cx="175.7" cy="1143.1" r="1.42"/><circle cx="176.8" cy="1146.2" r="1.42"/><circle cx="177.8" cy="1147.2" r="1.42"/><circle cx="178.8" cy="1145.2" r="1.42"/><circle cx="179.8" cy="1148.2" r="1.42"/><circle cx="180.8" cy="1146.2" r="1.42"/><circle cx="181.9" cy="1147.2" r="1.42"/><circle cx="182.9" cy="1149.3" r="1.42"/><circle cx="183.9" cy="1146.2" r="1.42"/><circle cx="184.9" cy="1148.2" r="1.42"/><circle cx="186.0" cy="1147.2" r="1.42"/><circle cx="187.0" cy="1146.8" r="1.42"/><circle cx="146.1" cy="1145.2" r="1.42"/><circle cx="148.1" cy="1144.8" r="1.42"/><circle cx="152.2" cy="1144.2" r="1.42"/><circle cx="154.3" cy="1142.7" r="1.42"/><circle cx="158.4" cy="1147.2" r="1.42"/><circle cx="162.5" cy="1147.6" r="1.42"/><circle cx="164.5" cy="1147.8" r="1.42"/><circle cx="166.5" cy="1147.6" r="1.42"/><circle cx="168.6" cy="1147.2" r="1.42"/><circle cx="170.6" cy="1146.2" r="1.42"/><circle cx="172.7" cy="1148.2" r="1.42"/><circle cx="176.8" cy="1148.2" r="1.42"/><circle cx="180.8" cy="1149.3" r="1.42"/><circle cx="112.0" cy="1127.2" r="1.42"/><circle cx="123.7" cy="1133.3" r="1.42"/><circle cx="111.4" cy="1122.5" r="1.42"/><circle cx="110.3" cy="1122.1" r="1.42"/><circle cx="127.4" cy="1127.9" r="1.42"/><circle cx="121.4" cy="1126.3" r="1.42"/><circle cx="113.9" cy="1125.4" r="1.42"/><circle cx="128.8" cy="1133.0" r="1.42"/><circle cx="106.4" cy="1121.0" r="1.42"/><circle cx="108.2" cy="1127.5" r="1.42"/><circle cx="127.4" cy="1134.4" r="1.42"/><circle cx="128.1" cy="1134.0" r="1.42"/><circle cx="131.4" cy="1135.8" r="1.42"/><circle cx="111.4" cy="1128.5" r="1.42"/><circle cx="118.3" cy="1130.3" r="1.42"/><circle cx="121.6" cy="1128.5" r="1.42"/><circle cx="115.9" cy="1126.2" r="1.42"/><circle cx="115.5" cy="1123.0" r="1.42"/><circle cx="127.7" cy="1134.4" r="1.42"/><circle cx="132.8" cy="1135.4" r="1.42"/><circle cx="120.3" cy="1131.0" r="1.42"/><circle cx="108.5" cy="1125.7" r="1.42"/><circle cx="119.0" cy="1125.0" r="1.42"/><circle cx="110.9" cy="1125.2" r="1.42"/><circle cx="112.6" cy="1125.2" r="1.42"/><circle cx="122.9" cy="1128.6" r="1.42"/><circle cx="109.0" cy="1124.1" r="1.42"/><circle cx="112.8" cy="1123.1" r="1.42"/><circle cx="111.2" cy="1123.8" r="1.42"/><circle cx="106.8" cy="1124.8" r="1.42"/><circle cx="184.8" cy="1145.6" r="1.42"/><circle cx="171.0" cy="1146.0" r="1.42"/><circle cx="137.0" cy="1128.8" r="1.42"/><circle cx="175.9" cy="1146.7" r="1.42"/><circle cx="168.6" cy="1138.7" r="1.42"/><circle cx="154.9" cy="1140.5" r="1.42"/><circle cx="180.2" cy="1147.7" r="1.42"/><circle cx="143.8" cy="1137.0" r="1.42"/><circle cx="153.2" cy="1138.7" r="1.42"/><circle cx="140.0" cy="1136.8" r="1.42"/><circle cx="165.4" cy="1142.5" r="1.42"/><circle cx="144.8" cy="1135.3" r="1.42"/><circle cx="164.5" cy="1141.1" r="1.42"/><circle cx="152.4" cy="1138.5" r="1.42"/><circle cx="152.5" cy="1134.9" r="1.42"/><circle cx="142.1" cy="1135.0" r="1.42"/><circle cx="140.5" cy="1130.6" r="1.42"/><circle cx="137.2" cy="1133.1" r="1.42"/><circle cx="163.3" cy="1140.3" r="1.42"/><circle cx="136.0" cy="1131.0" r="1.42"/><circle cx="153.0" cy="1133.3" r="1.42"/><circle cx="132.8" cy="1134.8" r="1.42"/><circle cx="140.8" cy="1131.3" r="1.42"/><circle cx="147.9" cy="1136.0" r="1.42"/><circle cx="138.0" cy="1131.9" r="1.42"/><circle cx="152.5" cy="1139.5" r="1.42"/><circle cx="134.5" cy="1129.7" r="1.42"/><circle cx="159.1" cy="1142.7" r="1.42"/><circle cx="161.4" cy="1139.1" r="1.42"/><circle cx="169.9" cy="1140.2" r="1.42"/><circle cx="135.5" cy="1131.4" r="1.42"/><circle cx="181.6" cy="1147.6" r="1.42"/><circle cx="147.1" cy="1136.5" r="1.42"/><circle cx="179.5" cy="1142.9" r="1.42"/><circle cx="165.4" cy="1139.4" r="1.42"/><circle cx="147.3" cy="1133.2" r="1.42"/><circle cx="145.0" cy="1133.0" r="1.42"/><circle cx="136.1" cy="1130.7" r="1.42"/><circle cx="137.8" cy="1134.3" r="1.42"/><circle cx="166.9" cy="1136.8" r="1.42"/><circle cx="175.7" cy="1141.1" r="1.42"/><circle cx="159.3" cy="1139.2" r="1.42"/><circle cx="152.0" cy="1134.7" r="1.42"/><circle cx="157.8" cy="1135.2" r="1.42"/><circle cx="180.7" cy="1142.0" r="1.42"/><circle cx="175.5" cy="1144.0" r="1.42"/><circle cx="184.0" cy="1147.9" r="1.42"/><circle cx="178.8" cy="1142.7" r="1.42"/><circle cx="185.8" cy="1147.0" r="1.42"/><circle cx="178.7" cy="1144.9" r="1.42"/><circle cx="180.1" cy="1145.8" r="1.42"/><circle cx="176.3" cy="1141.8" r="1.42"/><circle cx="188.9" cy="1146.4" r="1.42"/><circle cx="177.8" cy="1145.2" r="1.42"/><circle cx="184.8" cy="1144.1" r="1.42"/><circle cx="182.8" cy="1146.1" r="1.42"/><circle cx="176.5" cy="1144.0" r="1.42"/><circle cx="176.2" cy="1142.3" r="1.42"/><circle cx="175.8" cy="1141.5" r="1.42"/><circle cx="190.1" cy="1147.0" r="1.42"/><circle cx="190.3" cy="1147.3" r="1.42"/><circle cx="183.4" cy="1147.3" r="1.42"/><circle cx="185.8" cy="1144.2" r="1.42"/><circle cx="183.4" cy="1146.1" r="1.42"/><circle cx="177.6" cy="1141.5" r="1.42"/><circle cx="188.3" cy="1147.0" r="1.42"/><circle cx="177.2" cy="1143.3" r="1.42"/><circle cx="177.1" cy="1145.0" r="1.42"/><circle cx="182.8" cy="1143.2" r="1.42"/><circle cx="188.0" cy="1144.7" r="1.42"/><circle cx="179.3" cy="1141.7" r="1.42"/><circle cx="186.7" cy="1144.5" r="1.42"/><circle cx="183.2" cy="1143.3" r="1.42"/><circle cx="181.6" cy="1145.8" r="1.42"/><circle cx="182.8" cy="1145.0" r="1.42"/><circle cx="202.4" cy="1151.7" r="1.42"/><circle cx="205.8" cy="1150.7" r="1.42"/><circle cx="202.6" cy="1150.4" r="1.42"/><circle cx="210.6" cy="1158.1" r="1.42"/><circle cx="192.7" cy="1146.2" r="1.42"/><circle cx="207.4" cy="1154.5" r="1.42"/><circle cx="190.4" cy="1148.9" r="1.42"/><circle cx="213.7" cy="1155.8" r="1.42"/><circle cx="198.7" cy="1151.2" r="1.42"/><circle cx="213.9" cy="1154.9" r="1.42"/><circle cx="198.4" cy="1148.6" r="1.42"/><circle cx="205.8" cy="1153.2" r="1.42"/><circle cx="196.9" cy="1149.3" r="1.42"/><circle cx="191.6" cy="1146.8" r="1.42"/><circle cx="214.3" cy="1157.1" r="1.42"/><circle cx="196.3" cy="1152.7" r="1.42"/><circle cx="199.7" cy="1149.5" r="1.42"/><circle cx="192.0" cy="1145.9" r="1.42"/><circle cx="195.8" cy="1147.9" r="1.42"/><circle cx="212.3" cy="1154.3" r="1.42"/><circle cx="196.2" cy="1150.5" r="1.42"/><circle cx="213.3" cy="1154.8" r="1.42"/><circle cx="209.3" cy="1153.8" r="1.42"/><circle cx="203.9" cy="1153.3" r="1.42"/><circle cx="212.9" cy="1157.7" r="1.42"/><circle cx="202.1" cy="1154.2" r="1.42"/><circle cx="199.6" cy="1150.3" r="1.42"/><circle cx="213.8" cy="1156.7" r="1.42"/><circle cx="209.7" cy="1153.6" r="1.42"/><circle cx="212.6" cy="1156.7" r="1.42"/><circle cx="195.5" cy="1152.4" r="1.42"/><circle cx="202.2" cy="1151.0" r="1.42"/><circle cx="197.6" cy="1147.7" r="1.42"/><circle cx="194.9" cy="1150.5" r="1.42"/><circle cx="194.3" cy="1147.5" r="1.42"/><circle cx="201.2" cy="1152.0" r="1.42"/><circle cx="199.1" cy="1152.7" r="1.42"/><circle cx="196.9" cy="1149.2" r="1.42"/><circle cx="201.6" cy="1149.4" r="1.42"/><circle cx="196.6" cy="1147.6" r="1.42"/><circle cx="208.9" cy="1152.2" r="1.42"/><circle cx="207.3" cy="1152.1" r="1.42"/><circle cx="205.9" cy="1154.4" r="1.42"/><circle cx="198.1" cy="1153.3" r="1.42"/><circle cx="206.3" cy="1154.0" r="1.42"/><circle cx="191.7" cy="1147.5" r="1.42"/><circle cx="196.9" cy="1149.9" r="1.42"/><circle cx="212.5" cy="1158.3" r="1.42"/><circle cx="191.5" cy="1149.2" r="1.42"/><circle cx="213.2" cy="1156.4" r="1.42"/><circle cx="216.9" cy="1154.8" r="1.42"/><circle cx="225.5" cy="1157.3" r="1.42"/><circle cx="237.6" cy="1157.6" r="1.42"/><circle cx="240.3" cy="1150.1" r="1.42"/><circle cx="236.3" cy="1151.9" r="1.42"/><circle cx="218.7" cy="1150.0" r="1.42"/><circle cx="231.3" cy="1148.1" r="1.42"/><circle cx="226.4" cy="1155.4" r="1.42"/><circle cx="228.0" cy="1153.0" r="1.42"/><circle cx="222.0" cy="1156.6" r="1.42"/><circle cx="221.2" cy="1153.5" r="1.42"/><circle cx="232.8" cy="1148.3" r="1.42"/><circle cx="241.8" cy="1152.1" r="1.42"/><circle cx="240.5" cy="1159.0" r="1.42"/><circle cx="238.3" cy="1157.9" r="1.42"/><circle cx="225.5" cy="1151.7" r="1.42"/><circle cx="223.4" cy="1156.5" r="1.42"/><circle cx="216.2" cy="1147.1" r="1.42"/><circle cx="239.8" cy="1157.7" r="1.42"/><circle cx="232.9" cy="1158.3" r="1.42"/><circle cx="228.3" cy="1156.2" r="1.42"/><circle cx="226.0" cy="1156.5" r="1.42"/><circle cx="216.8" cy="1150.3" r="1.42"/><circle cx="229.7" cy="1156.0" r="1.42"/><circle cx="225.8" cy="1154.2" r="1.42"/><circle cx="240.7" cy="1153.8" r="1.42"/><circle cx="220.9" cy="1146.7" r="1.42"/><circle cx="237.8" cy="1153.9" r="1.42"/><circle cx="225.2" cy="1152.4" r="1.42"/><circle cx="218.5" cy="1148.3" r="1.42"/><circle cx="221.5" cy="1149.1" r="1.42"/><circle cx="238.1" cy="1151.6" r="1.42"/><circle cx="216.7" cy="1154.7" r="1.42"/><circle cx="230.4" cy="1148.2" r="1.42"/><circle cx="232.5" cy="1155.3" r="1.42"/><circle cx="231.7" cy="1156.1" r="1.42"/><circle cx="226.6" cy="1149.6" r="1.42"/><circle cx="234.5" cy="1155.0" r="1.42"/><circle cx="234.1" cy="1150.3" r="1.42"/><circle cx="224.5" cy="1154.1" r="1.42"/><circle cx="224.9" cy="1153.3" r="1.42"/><circle cx="227.0" cy="1155.2" r="1.42"/><circle cx="224.1" cy="1152.1" r="1.42"/><circle cx="237.2" cy="1152.1" r="1.42"/><circle cx="219.3" cy="1152.8" r="1.42"/><circle cx="217.9" cy="1154.8" r="1.42"/><circle cx="221.6" cy="1155.9" r="1.42"/><circle cx="229.6" cy="1149.3" r="1.42"/><circle cx="228.4" cy="1154.6" r="1.42"/><circle cx="227.6" cy="1154.0" r="1.42"/><circle cx="224.0" cy="1156.8" r="1.42"/><circle cx="219.0" cy="1154.4" r="1.42"/><circle cx="215.5" cy="1150.8" r="1.42"/><circle cx="217.2" cy="1147.2" r="1.42"/><circle cx="229.9" cy="1157.1" r="1.42"/><circle cx="223.2" cy="1150.9" r="1.42"/><circle cx="227.4" cy="1153.7" r="1.42"/><circle cx="224.4" cy="1150.6" r="1.42"/><circle cx="237.5" cy="1154.7" r="1.42"/><circle cx="223.7" cy="1155.3" r="1.42"/><circle cx="268.1" cy="1154.2" r="1.42"/><circle cx="242.1" cy="1149.1" r="1.42"/><circle cx="265.7" cy="1151.7" r="1.42"/><circle cx="246.4" cy="1153.8" r="1.42"/><circle cx="244.0" cy="1153.9" r="1.42"/><circle cx="247.6" cy="1150.7" r="1.42"/><circle cx="257.7" cy="1150.0" r="1.42"/><circle cx="262.1" cy="1153.3" r="1.42"/><circle cx="261.6" cy="1155.9" r="1.42"/><circle cx="243.1" cy="1153.6" r="1.42"/><circle cx="263.6" cy="1151.9" r="1.42"/><circle cx="257.5" cy="1150.7" r="1.42"/><circle cx="255.4" cy="1154.9" r="1.42"/><circle cx="251.4" cy="1152.5" r="1.42"/><circle cx="244.5" cy="1154.1" r="1.42"/><circle cx="257.7" cy="1155.9" r="1.42"/><circle cx="243.3" cy="1153.0" r="1.42"/><circle cx="243.8" cy="1151.5" r="1.42"/><circle cx="247.1" cy="1154.8" r="1.42"/><circle cx="244.3" cy="1150.9" r="1.42"/><circle cx="254.1" cy="1151.7" r="1.42"/><circle cx="243.0" cy="1152.3" r="1.42"/><circle cx="267.4" cy="1153.5" r="1.42"/><circle cx="265.5" cy="1153.0" r="1.42"/><circle cx="248.8" cy="1151.4" r="1.42"/><circle cx="266.9" cy="1156.9" r="1.42"/><circle cx="258.8" cy="1149.5" r="1.42"/><circle cx="254.0" cy="1148.6" r="1.42"/><circle cx="243.2" cy="1149.9" r="1.42"/><circle cx="248.4" cy="1148.5" r="1.42"/><circle cx="215.9" cy="1147.6" r="1.42"/><circle cx="216.9" cy="1150.7" r="1.42"/><circle cx="217.9" cy="1160.9" r="1.42"/><circle cx="223.1" cy="1163.3" r="1.42"/><circle cx="222.0" cy="1163.9" r="1.42"/><circle cx="224.1" cy="1163.5" r="1.42"/><circle cx="228.8" cy="1147.6" r="1.42"/><circle cx="230.2" cy="1147.0" r="1.42"/><circle cx="241.4" cy="1159.9" r="1.42"/><circle cx="242.5" cy="1160.9" r="1.42"/><circle cx="244.5" cy="1161.9" r="1.42"/><circle cx="245.5" cy="1164.6" r="1.42"/><circle cx="249.6" cy="1163.9" r="1.42"/><circle cx="251.7" cy="1160.9" r="1.42"/><circle cx="250.6" cy="1150.7" r="1.42"/><circle cx="255.8" cy="1163.9" r="1.42"/><circle cx="255.8" cy="1148.6" r="1.42"/><circle cx="257.8" cy="1155.8" r="1.42"/><circle cx="259.8" cy="1157.8" r="1.42"/><circle cx="260.9" cy="1159.9" r="1.42"/><circle cx="261.9" cy="1161.9" r="1.42"/><circle cx="263.9" cy="1149.6" r="1.42"/><circle cx="264.9" cy="1150.7" r="1.42"/><circle cx="266.0" cy="1148.6" r="1.42"/><circle cx="267.0" cy="1147.6" r="1.42"/><circle cx="268.0" cy="1148.6" r="1.42"/><circle cx="265.6" cy="1154.3" r="1.42"/><circle cx="266.0" cy="1158.8" r="1.42"/><circle cx="267.0" cy="1159.9" r="1.42"/><circle cx="268.0" cy="1163.9" r="1.42"/><circle cx="265.6" cy="1166.6" r="1.42"/><circle cx="269.0" cy="1162.5" r="1.42"/><circle cx="270.1" cy="1157.8" r="1.42"/><circle cx="273.1" cy="1159.2" r="1.42"/><circle cx="269.6" cy="1173.1" r="1.42"/><circle cx="284.8" cy="1176.4" r="1.42"/><circle cx="289.1" cy="1162.9" r="1.42"/><circle cx="292.1" cy="1162.5" r="1.42"/><circle cx="292.9" cy="1157.2" r="1.42"/><circle cx="294.6" cy="1165.4" r="1.42"/><circle cx="297.2" cy="1153.7" r="1.42"/><circle cx="298.7" cy="1161.9" r="1.42"/><circle cx="300.7" cy="1175.8" r="1.42"/></g><rect x="48.30" y="1013.30" width="265.70" height="265.80" fill="none" stroke="#3b3b3b" stroke-width="1.70"/><path d="M72.45 1279.10V1290.30M72.45 1013.30V1002.10M120.76 1279.10V1290.30M120.76 1013.30V1002.10M169.07 1279.10V1290.30M169.07 1013.30V1002.10M217.38 1279.10V1290.30M217.38 1013.30V1002.10M265.69 1279.10V1290.30M265.69 1013.30V1002.10M314.00 1279.10V1290.30M314.00 1013.30V1002.10M48.30 1279.10V1284.90M48.30 1013.30V1007.50M96.61 1279.10V1284.90M96.61 1013.30V1007.50M144.92 1279.10V1284.90M144.92 1013.30V1007.50M193.23 1279.10V1284.90M193.23 1013.30V1007.50M241.54 1279.10V1284.90M241.54 1013.30V1007.50M289.85 1279.10V1284.90M289.85 1013.30V1007.50M48.30 1279.10H37.10M314.00 1279.10H325.20M48.30 1212.65H37.10M314.00 1212.65H325.20M48.30 1146.20H37.10M314.00 1146.20H325.20M48.30 1079.75H37.10M314.00 1079.75H325.20M48.30 1013.30H37.10M314.00 1013.30H325.20M48.30 1245.88H42.50M314.00 1245.88H319.80M48.30 1179.42H42.50M314.00 1179.42H319.80M48.30 1112.97H42.50M314.00 1112.97H319.80M48.30 1046.52H42.50M314.00 1046.52H319.80" stroke="#3b3b3b" stroke-width="1.70" fill="none"/><text x="72.45" y="1302.20" font-size="13.8" text-anchor="middle">36</text><text x="120.76" y="1302.20" font-size="13.8" text-anchor="middle">40</text><text x="169.07" y="1302.20" font-size="13.8" text-anchor="middle">44</text><text x="217.38" y="1302.20" font-size="13.8" text-anchor="middle">48</text><text x="265.69" y="1302.20" font-size="13.8" text-anchor="middle">52</text><text x="314.00" y="1302.20" font-size="13.8" text-anchor="middle">56</text><text x="33.50" y="1284.10" font-size="13.8" text-anchor="end">&#8722;4</text><text x="33.50" y="1217.65" font-size="13.8" text-anchor="end">&#8722;2</text><text x="33.50" y="1151.20" font-size="13.8" text-anchor="end">0</text><text x="33.50" y="1084.75" font-size="13.8" text-anchor="end">2</text><text x="33.50" y="1018.30" font-size="13.8" text-anchor="end">4</text><text x="181.15" y="1319.70" font-size="14.0" text-anchor="middle">SiO<tspan dy="2.5" font-size="10.0">2</tspan><tspan dy="-2.5">&#8203;</tspan> [molar%]</text><text transform="translate(10.70 1146.20) rotate(-90)" font-size="13.9" text-anchor="middle">Relative impact [ln(*)]</text><text x="57.30" y="1035.10" font-size="13.9"><tspan font-weight="bold">(g)</tspan> SiO<tspan dy="3.4" font-size="10.0">2</tspan><tspan dy="-3.4">&#8203;</tspan></text></g>
<g><line x1="403.90" y1="1146.20" x2="669.60" y2="1146.20" stroke="#8e8e8e" stroke-width="1.15" stroke-dasharray="2.2 1.85"/><line x1="445.35" y1="1013.30" x2="445.35" y2="1279.10" stroke="#8e8e8e" stroke-width="1.15" stroke-dasharray="2.2 1.85"/><clipPath id="cph"><rect x="403.90" y="1013.30" width="265.70" height="265.80"/></clipPath><g fill="#2281e6" clip-path="url(#cph)"><circle cx="404.3" cy="1129.0" r="1.42"/><circle cx="404.3" cy="1130.5" r="1.42"/><circle cx="404.3" cy="1132.0" r="1.42"/><circle cx="404.3" cy="1133.5" r="1.42"/><circle cx="404.3" cy="1135.0" r="1.42"/><circle cx="404.3" cy="1136.5" r="1.42"/><circle cx="404.3" cy="1138.0" r="1.42"/><circle cx="404.3" cy="1139.5" r="1.42"/><circle cx="409.7" cy="1137.4" r="1.42"/><circle cx="415.2" cy="1139.4" r="1.42"/><circle cx="417.3" cy="1139.4" r="1.42"/><circle cx="418.7" cy="1139.4" r="1.42"/><circle cx="419.9" cy="1136.4" r="1.42"/><circle cx="423.4" cy="1142.1" r="1.42"/><circle cx="426.5" cy="1140.4" r="1.42"/><circle cx="428.1" cy="1140.4" r="1.42"/><circle cx="429.5" cy="1142.5" r="1.42"/><circle cx="431.0" cy="1143.5" r="1.42"/><circle cx="438.3" cy="1144.5" r="1.42"/><circle cx="441.2" cy="1145.5" r="1.42"/><circle cx="442.8" cy="1146.6" r="1.42"/><circle cx="443.9" cy="1146.2" r="1.42"/><circle cx="448.6" cy="1147.6" r="1.42"/><circle cx="449.4" cy="1148.6" r="1.42"/><circle cx="450.6" cy="1149.6" r="1.42"/><circle cx="451.4" cy="1150.2" r="1.42"/><circle cx="452.0" cy="1148.6" r="1.42"/><circle cx="452.6" cy="1150.7" r="1.42"/><circle cx="455.1" cy="1149.6" r="1.42"/><circle cx="467.4" cy="1157.2" r="1.42"/><circle cx="472.5" cy="1156.4" r="1.42"/><circle cx="474.5" cy="1158.4" r="1.42"/><circle cx="475.5" cy="1157.8" r="1.42"/><circle cx="477.2" cy="1155.2" r="1.42"/><circle cx="479.6" cy="1159.9" r="1.42"/><circle cx="484.7" cy="1155.2" r="1.42"/><circle cx="485.8" cy="1156.8" r="1.42"/><circle cx="488.2" cy="1157.8" r="1.42"/><circle cx="490.9" cy="1153.1" r="1.42"/><circle cx="494.9" cy="1162.9" r="1.42"/><circle cx="496.0" cy="1163.9" r="1.42"/><circle cx="498.0" cy="1162.9" r="1.42"/><circle cx="499.0" cy="1161.9" r="1.42"/><circle cx="500.1" cy="1163.9" r="1.42"/><circle cx="504.6" cy="1156.2" r="1.42"/><circle cx="505.2" cy="1163.9" r="1.42"/><circle cx="509.3" cy="1169.1" r="1.42"/><circle cx="515.4" cy="1156.4" r="1.42"/><circle cx="516.4" cy="1159.9" r="1.42"/><circle cx="517.4" cy="1160.9" r="1.42"/><circle cx="518.0" cy="1165.0" r="1.42"/><circle cx="519.5" cy="1165.4" r="1.42"/><circle cx="517.4" cy="1170.1" r="1.42"/><circle cx="516.4" cy="1174.2" r="1.42"/><circle cx="515.4" cy="1174.8" r="1.42"/><circle cx="518.5" cy="1173.1" r="1.42"/><circle cx="519.5" cy="1174.2" r="1.42"/><circle cx="520.5" cy="1173.5" r="1.42"/><circle cx="522.5" cy="1174.2" r="1.42"/><circle cx="524.6" cy="1174.2" r="1.42"/><circle cx="527.6" cy="1166.0" r="1.42"/><circle cx="530.7" cy="1163.9" r="1.42"/><circle cx="531.7" cy="1166.6" r="1.42"/><circle cx="532.8" cy="1169.1" r="1.42"/><circle cx="531.7" cy="1171.1" r="1.42"/><circle cx="530.7" cy="1175.6" r="1.42"/><circle cx="532.8" cy="1176.8" r="1.42"/><circle cx="533.8" cy="1178.2" r="1.42"/><circle cx="534.8" cy="1178.9" r="1.42"/><circle cx="535.8" cy="1179.3" r="1.42"/><circle cx="536.8" cy="1180.3" r="1.42"/><circle cx="534.8" cy="1162.9" r="1.42"/><circle cx="536.8" cy="1161.9" r="1.42"/><circle cx="538.9" cy="1160.9" r="1.42"/><circle cx="539.9" cy="1167.0" r="1.42"/><circle cx="540.9" cy="1168.6" r="1.42"/><circle cx="542.0" cy="1171.1" r="1.42"/><circle cx="543.0" cy="1170.1" r="1.42"/><circle cx="543.0" cy="1159.9" r="1.42"/><circle cx="541.3" cy="1179.3" r="1.42"/><circle cx="531.0" cy="1164.5" r="1.42"/><circle cx="532.0" cy="1165.5" r="1.42"/><circle cx="533.1" cy="1166.6" r="1.42"/><circle cx="534.1" cy="1163.5" r="1.42"/><circle cx="535.1" cy="1162.5" r="1.42"/><circle cx="535.7" cy="1165.5" r="1.42"/><circle cx="532.5" cy="1169.6" r="1.42"/><circle cx="531.6" cy="1175.8" r="1.42"/><circle cx="533.1" cy="1177.8" r="1.42"/><circle cx="534.1" cy="1178.8" r="1.42"/><circle cx="535.1" cy="1179.2" r="1.42"/><circle cx="536.1" cy="1179.9" r="1.42"/><circle cx="537.2" cy="1180.3" r="1.42"/><circle cx="538.2" cy="1166.6" r="1.42"/><circle cx="539.2" cy="1160.4" r="1.42"/><circle cx="539.8" cy="1165.5" r="1.42"/><circle cx="540.2" cy="1168.6" r="1.42"/><circle cx="541.2" cy="1170.7" r="1.42"/><circle cx="541.9" cy="1167.6" r="1.42"/><circle cx="542.3" cy="1169.6" r="1.42"/><circle cx="542.7" cy="1159.8" r="1.42"/><circle cx="543.3" cy="1171.7" r="1.42"/><circle cx="544.3" cy="1166.6" r="1.42"/><circle cx="545.3" cy="1173.7" r="1.42"/><circle cx="546.4" cy="1174.7" r="1.42"/><circle cx="546.8" cy="1178.8" r="1.42"/><circle cx="547.4" cy="1180.9" r="1.42"/><circle cx="547.4" cy="1182.9" r="1.42"/><circle cx="548.0" cy="1174.3" r="1.42"/><circle cx="548.8" cy="1174.3" r="1.42"/><circle cx="550.4" cy="1169.6" r="1.42"/><circle cx="541.2" cy="1179.2" r="1.42"/><circle cx="557.6" cy="1175.8" r="1.42"/><circle cx="558.6" cy="1175.2" r="1.42"/><circle cx="559.6" cy="1176.8" r="1.42"/><circle cx="560.7" cy="1178.4" r="1.42"/><circle cx="562.7" cy="1172.7" r="1.42"/><circle cx="563.7" cy="1171.7" r="1.42"/><circle cx="564.7" cy="1174.3" r="1.42"/><circle cx="565.2" cy="1168.6" r="1.42"/><circle cx="565.8" cy="1166.6" r="1.42"/><circle cx="566.8" cy="1166.6" r="1.42"/><circle cx="567.8" cy="1172.7" r="1.42"/><circle cx="567.8" cy="1167.6" r="1.42"/><circle cx="564.7" cy="1178.8" r="1.42"/><circle cx="565.8" cy="1179.9" r="1.42"/><circle cx="566.8" cy="1179.2" r="1.42"/><circle cx="567.8" cy="1180.5" r="1.42"/><circle cx="568.8" cy="1179.9" r="1.42"/><circle cx="569.9" cy="1177.8" r="1.42"/><circle cx="570.9" cy="1176.4" r="1.42"/><circle cx="571.9" cy="1178.4" r="1.42"/><circle cx="572.9" cy="1179.2" r="1.42"/><circle cx="573.9" cy="1179.9" r="1.42"/><circle cx="572.9" cy="1165.5" r="1.42"/><circle cx="581.1" cy="1180.9" r="1.42"/><circle cx="582.7" cy="1180.9" r="1.42"/><circle cx="586.8" cy="1161.5" r="1.42"/><circle cx="588.9" cy="1170.0" r="1.42"/><circle cx="593.8" cy="1177.8" r="1.42"/><circle cx="601.5" cy="1176.2" r="1.42"/><circle cx="603.2" cy="1176.2" r="1.42"/><circle cx="610.3" cy="1178.8" r="1.42"/><circle cx="612.8" cy="1164.9" r="1.42"/><circle cx="623.6" cy="1172.7" r="1.42"/><circle cx="624.0" cy="1177.2" r="1.42"/><circle cx="629.7" cy="1182.3" r="1.42"/><circle cx="632.2" cy="1183.9" r="1.42"/><circle cx="632.6" cy="1172.7" r="1.42"/><circle cx="633.8" cy="1184.6" r="1.42"/><circle cx="634.6" cy="1186.0" r="1.42"/><circle cx="634.8" cy="1168.6" r="1.42"/><circle cx="637.9" cy="1191.5" r="1.42"/><circle cx="630.6" cy="1199.9" r="1.42"/><circle cx="634.2" cy="1199.9" r="1.42"/><circle cx="643.0" cy="1203.8" r="1.42"/><circle cx="644.0" cy="1184.4" r="1.42"/><circle cx="646.9" cy="1194.8" r="1.42"/><circle cx="647.5" cy="1181.9" r="1.42"/><circle cx="651.0" cy="1196.0" r="1.42"/><circle cx="654.3" cy="1169.0" r="1.42"/><circle cx="655.9" cy="1180.1" r="1.42"/></g><rect x="403.90" y="1013.30" width="265.70" height="265.80" fill="none" stroke="#3b3b3b" stroke-width="1.70"/><path d="M403.90 1279.10V1290.30M403.90 1013.30V1002.10M457.04 1279.10V1290.30M457.04 1013.30V1002.10M510.18 1279.10V1290.30M510.18 1013.30V1002.10M563.32 1279.10V1290.30M563.32 1013.30V1002.10M616.46 1279.10V1290.30M616.46 1013.30V1002.10M669.60 1279.10V1290.30M669.60 1013.30V1002.10M430.47 1279.10V1284.90M430.47 1013.30V1007.50M483.61 1279.10V1284.90M483.61 1013.30V1007.50M536.75 1279.10V1284.90M536.75 1013.30V1007.50M589.89 1279.10V1284.90M589.89 1013.30V1007.50M643.03 1279.10V1284.90M643.03 1013.30V1007.50M403.90 1279.10H392.70M669.60 1279.10H680.80M403.90 1212.65H392.70M669.60 1212.65H680.80M403.90 1146.20H392.70M669.60 1146.20H680.80M403.90 1079.75H392.70M669.60 1079.75H680.80M403.90 1013.30H392.70M669.60 1013.30H680.80M403.90 1245.88H398.10M669.60 1245.88H675.40M403.90 1179.42H398.10M669.60 1179.42H675.40M403.90 1112.97H398.10M669.60 1112.97H675.40M403.90 1046.52H398.10M669.60 1046.52H675.40" stroke="#3b3b3b" stroke-width="1.70" fill="none"/><text x="403.90" y="1302.20" font-size="13.8" text-anchor="middle">0.0</text><text x="457.04" y="1302.20" font-size="13.8" text-anchor="middle">0.5</text><text x="510.18" y="1302.20" font-size="13.8" text-anchor="middle">1.0</text><text x="563.32" y="1302.20" font-size="13.8" text-anchor="middle">1.5</text><text x="616.46" y="1302.20" font-size="13.8" text-anchor="middle">2.0</text><text x="669.60" y="1302.20" font-size="13.8" text-anchor="middle">2.5</text><text x="389.10" y="1284.10" font-size="13.8" text-anchor="end">&#8722;4</text><text x="389.10" y="1217.65" font-size="13.8" text-anchor="end">&#8722;2</text><text x="389.10" y="1151.20" font-size="13.8" text-anchor="end">0</text><text x="389.10" y="1084.75" font-size="13.8" text-anchor="end">2</text><text x="389.10" y="1018.30" font-size="13.8" text-anchor="end">4</text><text x="536.75" y="1319.70" font-size="14.0" text-anchor="middle">SnO<tspan dy="2.5" font-size="10.0">2</tspan><tspan dy="-2.5">&#8203;</tspan> [molar%]</text><text transform="translate(366.30 1146.20) rotate(-90)" font-size="13.9" text-anchor="middle">Relative impact [ln(*)]</text><text x="450.90" y="1035.10" font-size="13.9"><tspan font-weight="bold">(h)</tspan> SnO<tspan dy="3.4" font-size="10.0">2</tspan><tspan dy="-3.4">&#8203;</tspan></text></g>
<g><line x1="48.30" y1="1479.70" x2="314.00" y2="1479.70" stroke="#8e8e8e" stroke-width="1.15" stroke-dasharray="2.2 1.85"/><line x1="83.73" y1="1346.80" x2="83.73" y2="1612.60" stroke="#8e8e8e" stroke-width="1.15" stroke-dasharray="2.2 1.85"/><clipPath id="cpi"><rect x="48.30" y="1346.80" width="265.70" height="265.80"/></clipPath><g fill="#2281e6" clip-path="url(#cpi)"><circle cx="48.7" cy="1462.0" r="1.42"/><circle cx="48.7" cy="1465.5" r="1.42"/><circle cx="49.1" cy="1469.0" r="1.42"/><circle cx="49.8" cy="1471.4" r="1.42"/><circle cx="52.2" cy="1467.8" r="1.42"/><circle cx="61.5" cy="1473.2" r="1.42"/><circle cx="63.2" cy="1472.5" r="1.42"/><circle cx="65.0" cy="1471.8" r="1.42"/><circle cx="66.2" cy="1471.4" r="1.42"/><circle cx="66.9" cy="1470.9" r="1.42"/><circle cx="69.7" cy="1474.9" r="1.42"/><circle cx="70.9" cy="1476.0" r="1.42"/><circle cx="72.0" cy="1476.5" r="1.42"/><circle cx="73.2" cy="1477.2" r="1.42"/><circle cx="74.4" cy="1477.2" r="1.42"/><circle cx="76.7" cy="1477.2" r="1.42"/><circle cx="77.9" cy="1478.4" r="1.42"/><circle cx="79.0" cy="1478.4" r="1.42"/><circle cx="80.2" cy="1479.5" r="1.42"/><circle cx="81.4" cy="1480.2" r="1.42"/><circle cx="84.9" cy="1480.7" r="1.42"/><circle cx="91.9" cy="1483.0" r="1.42"/><circle cx="93.1" cy="1483.7" r="1.42"/><circle cx="94.2" cy="1484.9" r="1.42"/><circle cx="95.4" cy="1484.2" r="1.42"/><circle cx="96.6" cy="1485.4" r="1.42"/><circle cx="97.7" cy="1485.8" r="1.42"/><circle cx="98.9" cy="1484.9" r="1.42"/><circle cx="100.1" cy="1487.2" r="1.42"/><circle cx="101.2" cy="1487.7" r="1.42"/><circle cx="102.4" cy="1488.9" r="1.42"/><circle cx="103.6" cy="1489.6" r="1.42"/><circle cx="104.7" cy="1490.0" r="1.42"/><circle cx="98.2" cy="1483.5" r="1.42"/><circle cx="99.6" cy="1485.4" r="1.42"/><circle cx="109.4" cy="1487.7" r="1.42"/><circle cx="110.6" cy="1488.9" r="1.42"/><circle cx="111.7" cy="1490.0" r="1.42"/><circle cx="112.9" cy="1491.2" r="1.42"/><circle cx="114.1" cy="1492.4" r="1.42"/><circle cx="115.2" cy="1493.5" r="1.42"/><circle cx="116.4" cy="1494.7" r="1.42"/><circle cx="117.6" cy="1495.9" r="1.42"/><circle cx="118.7" cy="1497.0" r="1.42"/><circle cx="119.9" cy="1496.6" r="1.42"/><circle cx="110.6" cy="1492.4" r="1.42"/><circle cx="111.7" cy="1493.5" r="1.42"/><circle cx="112.9" cy="1494.7" r="1.42"/><circle cx="114.1" cy="1495.9" r="1.42"/><circle cx="116.4" cy="1497.0" r="1.42"/><circle cx="118.7" cy="1490.0" r="1.42"/><circle cx="119.9" cy="1489.6" r="1.42"/><circle cx="123.4" cy="1492.8" r="1.42"/><circle cx="123.4" cy="1499.4" r="1.42"/><circle cx="129.3" cy="1497.5" r="1.42"/><circle cx="133.9" cy="1504.1" r="1.42"/><circle cx="137.4" cy="1505.2" r="1.42"/><circle cx="139.8" cy="1501.7" r="1.42"/><circle cx="140.9" cy="1500.5" r="1.42"/><circle cx="142.1" cy="1499.4" r="1.42"/><circle cx="143.3" cy="1502.9" r="1.42"/><circle cx="144.0" cy="1505.2" r="1.42"/><circle cx="144.4" cy="1507.6" r="1.42"/><circle cx="145.6" cy="1508.7" r="1.42"/><circle cx="146.8" cy="1509.9" r="1.42"/><circle cx="147.9" cy="1510.6" r="1.42"/><circle cx="149.1" cy="1511.1" r="1.42"/><circle cx="150.3" cy="1511.5" r="1.42"/><circle cx="151.4" cy="1509.9" r="1.42"/><circle cx="152.6" cy="1506.9" r="1.42"/><circle cx="147.9" cy="1501.7" r="1.42"/><circle cx="149.1" cy="1505.2" r="1.42"/><circle cx="145.6" cy="1504.1" r="1.42"/><circle cx="162.0" cy="1499.8" r="1.42"/><circle cx="163.1" cy="1504.1" r="1.42"/><circle cx="164.3" cy="1503.6" r="1.42"/><circle cx="165.5" cy="1512.2" r="1.42"/><circle cx="166.6" cy="1513.9" r="1.42"/><circle cx="167.8" cy="1512.9" r="1.42"/><circle cx="169.0" cy="1511.1" r="1.42"/><circle cx="167.8" cy="1501.7" r="1.42"/><circle cx="169.0" cy="1504.1" r="1.42"/><circle cx="170.1" cy="1502.9" r="1.42"/><circle cx="171.3" cy="1501.7" r="1.42"/><circle cx="165.5" cy="1506.9" r="1.42"/><circle cx="166.6" cy="1508.3" r="1.42"/><circle cx="178.3" cy="1498.2" r="1.42"/><circle cx="183.0" cy="1504.1" r="1.42"/><circle cx="184.1" cy="1503.6" r="1.42"/><circle cx="185.3" cy="1509.2" r="1.42"/><circle cx="186.5" cy="1502.9" r="1.42"/><circle cx="187.6" cy="1509.2" r="1.42"/><circle cx="188.8" cy="1505.2" r="1.42"/><circle cx="191.2" cy="1508.7" r="1.42"/><circle cx="192.3" cy="1511.1" r="1.42"/><circle cx="193.5" cy="1505.2" r="1.42"/><circle cx="194.7" cy="1512.2" r="1.42"/><circle cx="195.8" cy="1506.4" r="1.42"/><circle cx="195.8" cy="1513.4" r="1.42"/><circle cx="197.0" cy="1515.3" r="1.42"/><circle cx="198.2" cy="1514.6" r="1.42"/><circle cx="199.3" cy="1516.2" r="1.42"/><circle cx="201.7" cy="1520.4" r="1.42"/><circle cx="116.8" cy="1489.5" r="1.42"/><circle cx="118.5" cy="1493.9" r="1.42"/><circle cx="111.0" cy="1491.0" r="1.42"/><circle cx="116.5" cy="1490.5" r="1.42"/><circle cx="111.3" cy="1490.1" r="1.42"/><circle cx="117.5" cy="1490.0" r="1.42"/><circle cx="119.0" cy="1492.5" r="1.42"/><circle cx="110.9" cy="1492.0" r="1.42"/><circle cx="113.1" cy="1488.8" r="1.42"/><circle cx="114.8" cy="1491.2" r="1.42"/><circle cx="114.9" cy="1496.0" r="1.42"/><circle cx="115.8" cy="1491.6" r="1.42"/><circle cx="114.0" cy="1496.1" r="1.42"/><circle cx="116.3" cy="1494.2" r="1.42"/><circle cx="111.6" cy="1492.3" r="1.42"/><circle cx="113.7" cy="1495.2" r="1.42"/><circle cx="114.7" cy="1491.5" r="1.42"/><circle cx="114.1" cy="1489.7" r="1.42"/><circle cx="119.3" cy="1491.1" r="1.42"/><circle cx="111.0" cy="1490.8" r="1.42"/><circle cx="117.9" cy="1490.8" r="1.42"/><circle cx="118.8" cy="1491.0" r="1.42"/><circle cx="113.4" cy="1488.8" r="1.42"/><circle cx="113.8" cy="1489.1" r="1.42"/><circle cx="114.0" cy="1491.3" r="1.42"/><circle cx="100.9" cy="1484.4" r="1.42"/><circle cx="98.9" cy="1485.3" r="1.42"/><circle cx="99.5" cy="1485.2" r="1.42"/><circle cx="101.2" cy="1485.8" r="1.42"/><circle cx="100.5" cy="1484.2" r="1.42"/><circle cx="97.5" cy="1486.1" r="1.42"/><circle cx="97.9" cy="1484.7" r="1.42"/><circle cx="99.9" cy="1486.3" r="1.42"/><circle cx="99.7" cy="1484.5" r="1.42"/><circle cx="101.6" cy="1486.8" r="1.42"/><circle cx="221.6" cy="1524.1" r="1.42"/><circle cx="246.0" cy="1530.3" r="1.42"/><circle cx="248.0" cy="1531.5" r="1.42"/><circle cx="249.9" cy="1532.6" r="1.42"/><circle cx="296.5" cy="1546.2" r="1.42"/></g><rect x="48.30" y="1346.80" width="265.70" height="265.80" fill="none" stroke="#3b3b3b" stroke-width="1.70"/><path d="M48.30 1612.60V1623.80M48.30 1346.80V1335.60M107.34 1612.60V1623.80M107.34 1346.80V1335.60M166.39 1612.60V1623.80M166.39 1346.80V1335.60M225.43 1612.60V1623.80M225.43 1346.80V1335.60M284.48 1612.60V1623.80M284.48 1346.80V1335.60M77.82 1612.60V1618.40M77.82 1346.80V1341.00M136.87 1612.60V1618.40M136.87 1346.80V1341.00M195.91 1612.60V1618.40M195.91 1346.80V1341.00M254.96 1612.60V1618.40M254.96 1346.80V1341.00M314.00 1612.60V1618.40M314.00 1346.80V1341.00M48.30 1612.60H37.10M314.00 1612.60H325.20M48.30 1546.15H37.10M314.00 1546.15H325.20M48.30 1479.70H37.10M314.00 1479.70H325.20M48.30 1413.25H37.10M314.00 1413.25H325.20M48.30 1346.80H37.10M314.00 1346.80H325.20M48.30 1579.38H42.50M314.00 1579.38H319.80M48.30 1512.92H42.50M314.00 1512.92H319.80M48.30 1446.47H42.50M314.00 1446.47H319.80M48.30 1380.02H42.50M314.00 1380.02H319.80" stroke="#3b3b3b" stroke-width="1.70" fill="none"/><text x="48.30" y="1635.70" font-size="13.8" text-anchor="middle">0</text><text x="107.34" y="1635.70" font-size="13.8" text-anchor="middle">1</text><text x="166.39" y="1635.70" font-size="13.8" text-anchor="middle">2</text><text x="225.43" y="1635.70" font-size="13.8" text-anchor="middle">3</text><text x="284.48" y="1635.70" font-size="13.8" text-anchor="middle">4</text><text x="33.50" y="1617.60" font-size="13.8" text-anchor="end">&#8722;4</text><text x="33.50" y="1551.15" font-size="13.8" text-anchor="end">&#8722;2</text><text x="33.50" y="1484.70" font-size="13.8" text-anchor="end">0</text><text x="33.50" y="1418.25" font-size="13.8" text-anchor="end">2</text><text x="33.50" y="1351.80" font-size="13.8" text-anchor="end">4</text><text x="181.15" y="1653.20" font-size="14.0" text-anchor="middle">TiO<tspan dy="2.5" font-size="10.0">2</tspan><tspan dy="-2.5">&#8203;</tspan> [molar%]</text><text transform="translate(10.70 1479.70) rotate(-90)" font-size="13.9" text-anchor="middle">Relative impact [ln(*)]</text><text x="89.90" y="1368.60" font-size="13.9"><tspan font-weight="bold">(i)</tspan> TiO<tspan dy="3.4" font-size="10.0">2</tspan><tspan dy="-3.4">&#8203;</tspan></text></g>
<g><line x1="403.90" y1="1479.70" x2="669.60" y2="1479.70" stroke="#8e8e8e" stroke-width="1.15" stroke-dasharray="2.2 1.85"/><line x1="542.73" y1="1346.80" x2="542.73" y2="1612.60" stroke="#8e8e8e" stroke-width="1.15" stroke-dasharray="2.2 1.85"/><clipPath id="cpj"><rect x="403.90" y="1346.80" width="265.70" height="265.80"/></clipPath><g fill="#2281e6" clip-path="url(#cpj)"><circle cx="404.3" cy="1390.0" r="1.42"/><circle cx="404.3" cy="1392.6" r="1.42"/><circle cx="404.3" cy="1395.2" r="1.42"/><circle cx="404.3" cy="1397.8" r="1.42"/><circle cx="404.3" cy="1400.4" r="1.42"/><circle cx="404.3" cy="1403.0" r="1.42"/><circle cx="404.3" cy="1405.6" r="1.42"/><circle cx="404.3" cy="1408.2" r="1.42"/><circle cx="404.3" cy="1410.8" r="1.42"/><circle cx="404.3" cy="1413.4" r="1.42"/><circle cx="404.3" cy="1416.0" r="1.42"/><circle cx="404.3" cy="1418.6" r="1.42"/><circle cx="404.3" cy="1421.2" r="1.42"/><circle cx="404.3" cy="1423.8" r="1.42"/><circle cx="404.3" cy="1426.4" r="1.42"/><circle cx="438.3" cy="1410.4" r="1.42"/><circle cx="439.2" cy="1411.5" r="1.42"/><circle cx="440.4" cy="1412.5" r="1.42"/><circle cx="439.8" cy="1410.0" r="1.42"/><circle cx="437.1" cy="1420.2" r="1.42"/><circle cx="439.2" cy="1422.7" r="1.42"/><circle cx="437.7" cy="1426.8" r="1.42"/><circle cx="438.7" cy="1427.8" r="1.42"/><circle cx="439.8" cy="1432.3" r="1.42"/><circle cx="455.1" cy="1433.9" r="1.42"/><circle cx="456.1" cy="1431.9" r="1.42"/><circle cx="457.1" cy="1429.9" r="1.42"/><circle cx="457.5" cy="1427.2" r="1.42"/><circle cx="456.7" cy="1428.4" r="1.42"/><circle cx="455.1" cy="1439.1" r="1.42"/><circle cx="455.5" cy="1441.1" r="1.42"/><circle cx="456.1" cy="1443.1" r="1.42"/><circle cx="456.7" cy="1444.2" r="1.42"/><circle cx="457.5" cy="1442.1" r="1.42"/><circle cx="463.9" cy="1436.2" r="1.42"/><circle cx="471.4" cy="1437.4" r="1.42"/><circle cx="472.5" cy="1436.0" r="1.42"/><circle cx="473.5" cy="1433.3" r="1.42"/><circle cx="474.5" cy="1439.1" r="1.42"/><circle cx="475.1" cy="1437.0" r="1.42"/><circle cx="475.9" cy="1435.0" r="1.42"/><circle cx="476.6" cy="1440.1" r="1.42"/><circle cx="473.1" cy="1440.7" r="1.42"/><circle cx="477.6" cy="1444.8" r="1.42"/><circle cx="481.3" cy="1442.7" r="1.42"/><circle cx="490.2" cy="1446.2" r="1.42"/><circle cx="490.9" cy="1450.3" r="1.42"/><circle cx="491.9" cy="1451.3" r="1.42"/><circle cx="492.9" cy="1451.7" r="1.42"/><circle cx="489.8" cy="1453.4" r="1.42"/><circle cx="490.9" cy="1455.0" r="1.42"/><circle cx="485.3" cy="1452.9" r="1.42"/><circle cx="486.8" cy="1461.5" r="1.42"/><circle cx="494.9" cy="1460.1" r="1.42"/><circle cx="511.9" cy="1474.2" r="1.42"/><circle cx="506.8" cy="1461.7" r="1.42"/><circle cx="507.9" cy="1462.0" r="1.42"/><circle cx="507.2" cy="1463.1" r="1.42"/><circle cx="504.4" cy="1461.6" r="1.42"/><circle cx="500.8" cy="1457.5" r="1.42"/><circle cx="507.2" cy="1459.6" r="1.42"/><circle cx="514.3" cy="1464.3" r="1.42"/><circle cx="513.3" cy="1468.2" r="1.42"/><circle cx="503.6" cy="1463.0" r="1.42"/><circle cx="514.5" cy="1466.8" r="1.42"/><circle cx="500.7" cy="1458.5" r="1.42"/><circle cx="512.1" cy="1463.1" r="1.42"/><circle cx="504.7" cy="1459.5" r="1.42"/><circle cx="504.0" cy="1462.4" r="1.42"/><circle cx="506.7" cy="1461.2" r="1.42"/><circle cx="510.7" cy="1466.8" r="1.42"/><circle cx="506.7" cy="1458.7" r="1.42"/><circle cx="517.1" cy="1469.2" r="1.42"/><circle cx="514.5" cy="1465.9" r="1.42"/><circle cx="505.3" cy="1458.7" r="1.42"/><circle cx="505.8" cy="1461.1" r="1.42"/><circle cx="500.7" cy="1460.2" r="1.42"/><circle cx="514.8" cy="1462.5" r="1.42"/><circle cx="515.6" cy="1466.2" r="1.42"/><circle cx="517.0" cy="1466.8" r="1.42"/><circle cx="514.8" cy="1465.5" r="1.42"/><circle cx="511.3" cy="1464.1" r="1.42"/><circle cx="501.5" cy="1456.7" r="1.42"/><circle cx="504.6" cy="1460.1" r="1.42"/><circle cx="506.7" cy="1462.1" r="1.42"/><circle cx="512.5" cy="1464.0" r="1.42"/><circle cx="505.9" cy="1461.5" r="1.42"/><circle cx="516.8" cy="1468.8" r="1.42"/><circle cx="511.2" cy="1466.2" r="1.42"/><circle cx="505.3" cy="1458.4" r="1.42"/><circle cx="502.8" cy="1457.2" r="1.42"/><circle cx="499.9" cy="1459.2" r="1.42"/><circle cx="518.0" cy="1464.8" r="1.42"/><circle cx="511.5" cy="1467.2" r="1.42"/><circle cx="515.1" cy="1463.6" r="1.42"/><circle cx="512.5" cy="1463.0" r="1.42"/><circle cx="504.7" cy="1457.4" r="1.42"/><circle cx="508.6" cy="1465.6" r="1.42"/><circle cx="502.9" cy="1457.5" r="1.42"/><circle cx="508.5" cy="1459.5" r="1.42"/><circle cx="508.0" cy="1464.0" r="1.42"/><circle cx="509.8" cy="1460.2" r="1.42"/><circle cx="501.4" cy="1457.1" r="1.42"/><circle cx="511.2" cy="1466.9" r="1.42"/><circle cx="510.4" cy="1460.9" r="1.42"/><circle cx="504.3" cy="1460.0" r="1.42"/><circle cx="503.1" cy="1457.4" r="1.42"/><circle cx="507.1" cy="1464.3" r="1.42"/><circle cx="503.4" cy="1462.8" r="1.42"/><circle cx="516.4" cy="1466.2" r="1.42"/><circle cx="505.1" cy="1458.8" r="1.42"/><circle cx="511.4" cy="1466.4" r="1.42"/><circle cx="516.7" cy="1464.8" r="1.42"/><circle cx="509.2" cy="1459.8" r="1.42"/><circle cx="506.2" cy="1460.1" r="1.42"/><circle cx="523.4" cy="1467.8" r="1.42"/><circle cx="530.1" cy="1473.1" r="1.42"/><circle cx="525.5" cy="1471.4" r="1.42"/><circle cx="525.2" cy="1471.4" r="1.42"/><circle cx="525.6" cy="1471.2" r="1.42"/><circle cx="521.9" cy="1469.6" r="1.42"/><circle cx="526.5" cy="1472.9" r="1.42"/><circle cx="524.2" cy="1470.2" r="1.42"/><circle cx="527.6" cy="1473.6" r="1.42"/><circle cx="522.3" cy="1468.4" r="1.42"/><circle cx="522.5" cy="1470.3" r="1.42"/><circle cx="525.0" cy="1470.4" r="1.42"/><circle cx="523.4" cy="1469.7" r="1.42"/><circle cx="527.1" cy="1472.8" r="1.42"/><circle cx="523.6" cy="1469.5" r="1.42"/><circle cx="527.6" cy="1470.3" r="1.42"/><circle cx="529.9" cy="1471.6" r="1.42"/><circle cx="527.4" cy="1470.7" r="1.42"/><circle cx="528.9" cy="1474.2" r="1.42"/><circle cx="523.3" cy="1469.8" r="1.42"/><circle cx="527.7" cy="1474.2" r="1.42"/><circle cx="526.6" cy="1472.6" r="1.42"/><circle cx="526.7" cy="1473.9" r="1.42"/><circle cx="525.5" cy="1471.7" r="1.42"/><circle cx="528.0" cy="1472.8" r="1.42"/><circle cx="533.3" cy="1477.2" r="1.42"/><circle cx="534.7" cy="1478.3" r="1.42"/><circle cx="539.4" cy="1480.9" r="1.42"/><circle cx="532.6" cy="1475.0" r="1.42"/><circle cx="541.8" cy="1481.3" r="1.42"/><circle cx="542.6" cy="1481.9" r="1.42"/><circle cx="542.8" cy="1479.7" r="1.42"/><circle cx="532.9" cy="1477.1" r="1.42"/><circle cx="540.5" cy="1478.6" r="1.42"/><circle cx="542.7" cy="1479.9" r="1.42"/><circle cx="533.3" cy="1476.7" r="1.42"/><circle cx="533.5" cy="1475.5" r="1.42"/><circle cx="532.3" cy="1474.8" r="1.42"/><circle cx="532.3" cy="1477.2" r="1.42"/><circle cx="539.9" cy="1480.6" r="1.42"/><circle cx="536.1" cy="1479.2" r="1.42"/><circle cx="542.0" cy="1479.4" r="1.42"/><circle cx="539.2" cy="1479.9" r="1.42"/><circle cx="538.5" cy="1477.6" r="1.42"/><circle cx="530.5" cy="1475.9" r="1.42"/><circle cx="539.4" cy="1478.4" r="1.42"/><circle cx="536.3" cy="1477.6" r="1.42"/><circle cx="539.9" cy="1481.0" r="1.42"/><circle cx="534.4" cy="1479.3" r="1.42"/><circle cx="530.4" cy="1477.4" r="1.42"/><circle cx="541.1" cy="1478.6" r="1.42"/><circle cx="538.6" cy="1479.2" r="1.42"/><circle cx="553.6" cy="1486.1" r="1.42"/><circle cx="547.5" cy="1485.4" r="1.42"/><circle cx="549.9" cy="1484.1" r="1.42"/><circle cx="542.2" cy="1482.3" r="1.42"/><circle cx="546.5" cy="1485.3" r="1.42"/><circle cx="543.2" cy="1482.3" r="1.42"/><circle cx="550.5" cy="1487.5" r="1.42"/><circle cx="542.7" cy="1479.9" r="1.42"/><circle cx="542.3" cy="1481.5" r="1.42"/><circle cx="545.2" cy="1484.3" r="1.42"/><circle cx="545.9" cy="1483.8" r="1.42"/><circle cx="552.6" cy="1485.5" r="1.42"/><circle cx="547.5" cy="1485.8" r="1.42"/><circle cx="548.5" cy="1483.5" r="1.42"/><circle cx="544.6" cy="1483.1" r="1.42"/><circle cx="544.2" cy="1482.0" r="1.42"/><circle cx="548.4" cy="1484.4" r="1.42"/><circle cx="543.4" cy="1481.7" r="1.42"/><circle cx="553.0" cy="1486.2" r="1.42"/><circle cx="545.1" cy="1484.0" r="1.42"/><circle cx="566.4" cy="1490.3" r="1.42"/><circle cx="559.5" cy="1490.4" r="1.42"/><circle cx="563.6" cy="1490.4" r="1.42"/><circle cx="562.6" cy="1490.8" r="1.42"/><circle cx="568.0" cy="1490.9" r="1.42"/><circle cx="560.0" cy="1491.6" r="1.42"/><circle cx="570.4" cy="1490.3" r="1.42"/><circle cx="565.8" cy="1491.9" r="1.42"/><circle cx="563.9" cy="1491.6" r="1.42"/><circle cx="570.3" cy="1492.7" r="1.42"/><circle cx="568.4" cy="1493.6" r="1.42"/><circle cx="567.8" cy="1493.1" r="1.42"/><circle cx="566.9" cy="1492.8" r="1.42"/><circle cx="570.0" cy="1496.2" r="1.42"/><circle cx="569.0" cy="1497.4" r="1.42"/><circle cx="570.9" cy="1494.4" r="1.42"/><circle cx="571.4" cy="1494.9" r="1.42"/><circle cx="569.0" cy="1497.1" r="1.42"/><circle cx="569.3" cy="1495.2" r="1.42"/><circle cx="567.0" cy="1492.3" r="1.42"/><circle cx="578.5" cy="1494.2" r="1.42"/><circle cx="577.9" cy="1494.1" r="1.42"/><circle cx="576.0" cy="1493.4" r="1.42"/><circle cx="578.7" cy="1495.0" r="1.42"/><circle cx="577.0" cy="1494.3" r="1.42"/><circle cx="587.6" cy="1504.4" r="1.42"/><circle cx="586.2" cy="1505.5" r="1.42"/><circle cx="589.6" cy="1504.2" r="1.42"/><circle cx="586.1" cy="1502.7" r="1.42"/><circle cx="586.7" cy="1502.4" r="1.42"/><circle cx="589.1" cy="1505.2" r="1.42"/><circle cx="586.1" cy="1505.2" r="1.42"/><circle cx="585.7" cy="1503.9" r="1.42"/><circle cx="590.7" cy="1505.7" r="1.42"/><circle cx="588.3" cy="1504.2" r="1.42"/><circle cx="607.1" cy="1515.0" r="1.42"/><circle cx="598.0" cy="1508.3" r="1.42"/><circle cx="601.8" cy="1511.1" r="1.42"/><circle cx="601.5" cy="1509.2" r="1.42"/><circle cx="601.1" cy="1511.8" r="1.42"/><circle cx="604.4" cy="1512.0" r="1.42"/><circle cx="599.7" cy="1510.0" r="1.42"/><circle cx="601.1" cy="1510.5" r="1.42"/><circle cx="594.0" cy="1505.8" r="1.42"/><circle cx="606.8" cy="1515.3" r="1.42"/><circle cx="599.5" cy="1511.2" r="1.42"/><circle cx="596.9" cy="1507.3" r="1.42"/><circle cx="600.3" cy="1511.4" r="1.42"/><circle cx="593.8" cy="1506.9" r="1.42"/><circle cx="606.1" cy="1513.8" r="1.42"/><circle cx="608.4" cy="1512.1" r="1.42"/><circle cx="605.6" cy="1514.8" r="1.42"/><circle cx="593.7" cy="1507.1" r="1.42"/><circle cx="604.8" cy="1511.0" r="1.42"/><circle cx="601.9" cy="1513.0" r="1.42"/><circle cx="626.4" cy="1525.3" r="1.42"/><circle cx="610.7" cy="1514.2" r="1.42"/><circle cx="613.3" cy="1516.3" r="1.42"/><circle cx="616.2" cy="1516.1" r="1.42"/><circle cx="618.8" cy="1524.4" r="1.42"/><circle cx="630.2" cy="1528.1" r="1.42"/><circle cx="608.3" cy="1515.0" r="1.42"/><circle cx="615.0" cy="1520.5" r="1.42"/><circle cx="629.7" cy="1522.8" r="1.42"/><circle cx="626.0" cy="1523.2" r="1.42"/><circle cx="617.3" cy="1516.9" r="1.42"/><circle cx="622.4" cy="1519.7" r="1.42"/><circle cx="621.2" cy="1519.3" r="1.42"/><circle cx="613.9" cy="1513.0" r="1.42"/><circle cx="624.8" cy="1522.5" r="1.42"/><circle cx="614.7" cy="1515.1" r="1.42"/><circle cx="611.0" cy="1520.3" r="1.42"/><circle cx="628.0" cy="1523.0" r="1.42"/><circle cx="616.1" cy="1517.2" r="1.42"/><circle cx="621.2" cy="1520.7" r="1.42"/><circle cx="618.7" cy="1523.6" r="1.42"/><circle cx="612.5" cy="1515.9" r="1.42"/><circle cx="612.8" cy="1515.9" r="1.42"/><circle cx="614.3" cy="1520.5" r="1.42"/><circle cx="624.8" cy="1531.0" r="1.42"/><circle cx="617.3" cy="1520.5" r="1.42"/><circle cx="611.8" cy="1517.4" r="1.42"/><circle cx="626.1" cy="1525.1" r="1.42"/><circle cx="614.6" cy="1520.2" r="1.42"/><circle cx="623.1" cy="1527.6" r="1.42"/><circle cx="618.1" cy="1520.3" r="1.42"/><circle cx="619.9" cy="1510.8" r="1.42"/><circle cx="621.8" cy="1516.9" r="1.42"/><circle cx="621.7" cy="1516.2" r="1.42"/><circle cx="619.1" cy="1512.0" r="1.42"/><circle cx="624.3" cy="1513.4" r="1.42"/><circle cx="624.1" cy="1522.9" r="1.42"/><circle cx="618.7" cy="1511.6" r="1.42"/><circle cx="624.9" cy="1518.6" r="1.42"/><circle cx="618.3" cy="1520.6" r="1.42"/><circle cx="618.5" cy="1512.9" r="1.42"/><circle cx="618.5" cy="1521.6" r="1.42"/><circle cx="622.4" cy="1518.9" r="1.42"/><circle cx="622.3" cy="1523.7" r="1.42"/><circle cx="623.2" cy="1513.0" r="1.42"/><circle cx="617.2" cy="1516.5" r="1.42"/><circle cx="624.2" cy="1519.7" r="1.42"/><circle cx="617.8" cy="1511.0" r="1.42"/><circle cx="624.3" cy="1515.7" r="1.42"/><circle cx="620.8" cy="1516.6" r="1.42"/><circle cx="617.1" cy="1521.2" r="1.42"/><circle cx="623.1" cy="1517.7" r="1.42"/><circle cx="620.0" cy="1523.4" r="1.42"/><circle cx="625.9" cy="1517.9" r="1.42"/><circle cx="623.8" cy="1517.9" r="1.42"/><circle cx="623.6" cy="1523.0" r="1.42"/><circle cx="625.9" cy="1520.7" r="1.42"/><circle cx="622.3" cy="1526.9" r="1.42"/><circle cx="617.5" cy="1520.9" r="1.42"/><circle cx="626.7" cy="1516.6" r="1.42"/><circle cx="625.9" cy="1510.5" r="1.42"/><circle cx="620.9" cy="1512.3" r="1.42"/><circle cx="620.7" cy="1521.1" r="1.42"/><circle cx="617.6" cy="1513.7" r="1.42"/><circle cx="626.2" cy="1512.9" r="1.42"/><circle cx="622.5" cy="1507.2" r="1.42"/><circle cx="622.8" cy="1509.8" r="1.42"/><circle cx="617.8" cy="1521.9" r="1.42"/><circle cx="623.8" cy="1515.5" r="1.42"/><circle cx="622.1" cy="1518.2" r="1.42"/><circle cx="578.6" cy="1495.5" r="1.42"/><circle cx="585.6" cy="1496.2" r="1.42"/><circle cx="586.8" cy="1496.6" r="1.42"/><circle cx="595.0" cy="1498.6" r="1.42"/><circle cx="597.0" cy="1500.7" r="1.42"/><circle cx="601.9" cy="1501.7" r="1.42"/><circle cx="602.6" cy="1502.3" r="1.42"/><circle cx="576.0" cy="1505.8" r="1.42"/><circle cx="577.0" cy="1501.7" r="1.42"/><circle cx="580.1" cy="1500.7" r="1.42"/><circle cx="602.6" cy="1519.1" r="1.42"/><circle cx="609.7" cy="1518.6" r="1.42"/><circle cx="613.4" cy="1507.8" r="1.42"/><circle cx="614.8" cy="1521.1" r="1.42"/><circle cx="633.8" cy="1505.8" r="1.42"/><circle cx="635.3" cy="1514.6" r="1.42"/><circle cx="637.3" cy="1520.7" r="1.42"/><circle cx="636.7" cy="1526.2" r="1.42"/><circle cx="641.4" cy="1520.1" r="1.42"/><circle cx="646.5" cy="1520.1" r="1.42"/><circle cx="646.1" cy="1524.8" r="1.42"/><circle cx="646.9" cy="1509.4" r="1.42"/><circle cx="643.0" cy="1529.3" r="1.42"/><circle cx="645.5" cy="1531.3" r="1.42"/><circle cx="640.8" cy="1539.5" r="1.42"/><circle cx="643.8" cy="1541.9" r="1.42"/><circle cx="651.2" cy="1545.6" r="1.42"/><circle cx="653.9" cy="1547.3" r="1.42"/><circle cx="630.1" cy="1531.3" r="1.42"/><circle cx="629.1" cy="1528.2" r="1.42"/></g><rect x="403.90" y="1346.80" width="265.70" height="265.80" fill="none" stroke="#3b3b3b" stroke-width="1.70"/><path d="M403.90 1612.60V1623.80M403.90 1346.80V1335.60M470.32 1612.60V1623.80M470.32 1346.80V1335.60M536.75 1612.60V1623.80M536.75 1346.80V1335.60M603.17 1612.60V1623.80M603.17 1346.80V1335.60M669.60 1612.60V1623.80M669.60 1346.80V1335.60M437.11 1612.60V1618.40M437.11 1346.80V1341.00M503.54 1612.60V1618.40M503.54 1346.80V1341.00M569.96 1612.60V1618.40M569.96 1346.80V1341.00M636.39 1612.60V1618.40M636.39 1346.80V1341.00M403.90 1612.60H392.70M669.60 1612.60H680.80M403.90 1546.15H392.70M669.60 1546.15H680.80M403.90 1479.70H392.70M669.60 1479.70H680.80M403.90 1413.25H392.70M669.60 1413.25H680.80M403.90 1346.80H392.70M669.60 1346.80H680.80M403.90 1579.38H398.10M669.60 1579.38H675.40M403.90 1512.92H398.10M669.60 1512.92H675.40M403.90 1446.47H398.10M669.60 1446.47H675.40M403.90 1380.02H398.10M669.60 1380.02H675.40" stroke="#3b3b3b" stroke-width="1.70" fill="none"/><text x="403.90" y="1635.70" font-size="13.8" text-anchor="middle">0</text><text x="470.32" y="1635.70" font-size="13.8" text-anchor="middle">1</text><text x="536.75" y="1635.70" font-size="13.8" text-anchor="middle">2</text><text x="603.17" y="1635.70" font-size="13.8" text-anchor="middle">3</text><text x="669.60" y="1635.70" font-size="13.8" text-anchor="middle">4</text><text x="389.10" y="1617.60" font-size="13.8" text-anchor="end">&#8722;4</text><text x="389.10" y="1551.15" font-size="13.8" text-anchor="end">&#8722;2</text><text x="389.10" y="1484.70" font-size="13.8" text-anchor="end">0</text><text x="389.10" y="1418.25" font-size="13.8" text-anchor="end">2</text><text x="389.10" y="1351.80" font-size="13.8" text-anchor="end">4</text><text x="536.75" y="1653.20" font-size="14.0" text-anchor="middle">ZrO<tspan dy="2.5" font-size="10.0">2</tspan><tspan dy="-2.5">&#8203;</tspan> [molar%]</text><text transform="translate(366.30 1479.70) rotate(-90)" font-size="13.9" text-anchor="middle">Relative impact [ln(*)]</text><text x="413.20" y="1368.60" font-size="13.9"><tspan font-weight="bold">(j)</tspan> ZrO<tspan dy="3.4" font-size="10.0">2</tspan><tspan dy="-3.4">&#8203;</tspan></text></g>
</svg></body></html>
